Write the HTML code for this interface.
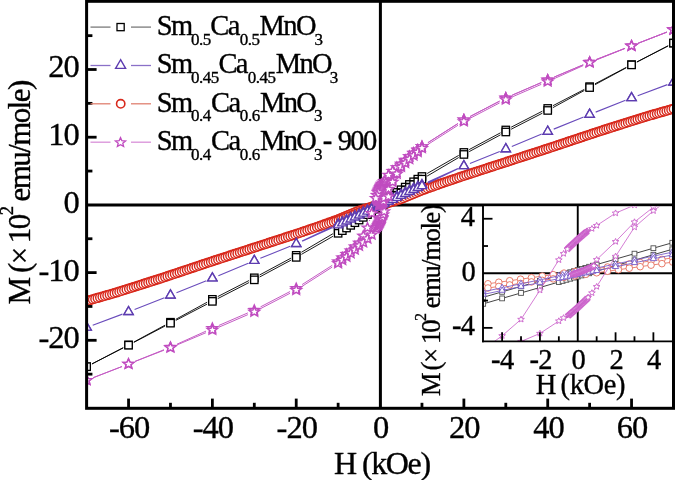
<!DOCTYPE html>
<html><head><meta charset="utf-8"><style>
html,body{margin:0;padding:0;background:#fff;width:675px;height:480px;overflow:hidden}
svg{display:block;will-change:transform}
</style></head><body>
<svg width="675" height="480" viewBox="0 0 675 480">
<defs><clipPath id="cm"><rect x="86.6" y="1.3" width="586.9" height="407"/></clipPath><clipPath id="ci"><rect x="483" y="206.4" width="189.5" height="134.9"/></clipPath></defs>
<rect width="675" height="480" fill="#fff"/>
<line x1="86.6" y1="204.9" x2="673.5" y2="204.9" stroke="#000" stroke-width="3"/>
<line x1="380.4" y1="1.3" x2="380.4" y2="408.3" stroke="#000" stroke-width="3"/>
<g clip-path="url(#cm)"><path fill="none" stroke="#000000" stroke-width="0.9" d="M668.13 45.84L636.89 61.88M626.24 67.41L594.95 83.84M584.31 89.4L553.04 105.66M542.38 111.17L511.14 127.21M500.51 132.79L469.17 149.6M458.68 155.42L427.17 173.51M332.96 233.7L301.39 252.29M290.93 258.17L259.59 274.98M248.96 280.55L217.72 296.6M207.12 302.22L175.73 319.35M165.19 325.08L133.83 342.05M123.22 347.67L91.95 363.93M91.97 363.96L123.21 347.92M133.86 342.39L165.15 325.96M175.79 320.4L207.06 304.14M217.72 298.63L248.96 282.59M259.59 277.01L290.93 260.2M301.42 254.38L332.93 236.29M427.14 176.1L458.71 157.51M469.17 151.63L500.51 134.82M511.14 129.25L542.38 113.2M552.98 107.58L584.37 90.45M594.91 84.72L626.27 67.75M636.88 62.13L668.15 45.87"/><rect x="669.77" y="39.4" width="7.4" height="7.4" fill="#fff" stroke="#000000" stroke-width="1.3"/><rect x="627.85" y="60.93" width="7.4" height="7.4" fill="#fff" stroke="#000000" stroke-width="1.3"/><rect x="585.93" y="82.93" width="7.4" height="7.4" fill="#fff" stroke="#000000" stroke-width="1.3"/><rect x="544.02" y="104.73" width="7.4" height="7.4" fill="#fff" stroke="#000000" stroke-width="1.3"/><rect x="502.1" y="126.26" width="7.4" height="7.4" fill="#fff" stroke="#000000" stroke-width="1.3"/><rect x="460.18" y="148.73" width="7.4" height="7.4" fill="#fff" stroke="#000000" stroke-width="1.3"/><rect x="418.27" y="172.8" width="7.4" height="7.4" fill="#fff" stroke="#000000" stroke-width="1.3"/><rect x="414.08" y="175.45" width="7.4" height="7.4" fill="#fff" stroke="#000000" stroke-width="1.3"/><rect x="409.88" y="178.09" width="7.4" height="7.4" fill="#fff" stroke="#000000" stroke-width="1.3"/><rect x="405.69" y="180.74" width="7.4" height="7.4" fill="#fff" stroke="#000000" stroke-width="1.3"/><rect x="401.5" y="183.39" width="7.4" height="7.4" fill="#fff" stroke="#000000" stroke-width="1.3"/><rect x="397.31" y="186.04" width="7.4" height="7.4" fill="#fff" stroke="#000000" stroke-width="1.3"/><rect x="393.12" y="188.74" width="7.4" height="7.4" fill="#fff" stroke="#000000" stroke-width="1.3"/><rect x="388.93" y="191.45" width="7.4" height="7.4" fill="#fff" stroke="#000000" stroke-width="1.3"/><rect x="384.73" y="194.16" width="7.4" height="7.4" fill="#fff" stroke="#000000" stroke-width="1.3"/><rect x="380.54" y="196.87" width="7.4" height="7.4" fill="#fff" stroke="#000000" stroke-width="1.3"/><rect x="379.7" y="197.41" width="7.4" height="7.4" fill="#fff" stroke="#000000" stroke-width="1.3"/><rect x="378.87" y="197.95" width="7.4" height="7.4" fill="#fff" stroke="#000000" stroke-width="1.3"/><rect x="378.03" y="198.49" width="7.4" height="7.4" fill="#fff" stroke="#000000" stroke-width="1.3"/><rect x="377.19" y="199.03" width="7.4" height="7.4" fill="#fff" stroke="#000000" stroke-width="1.3"/><rect x="376.35" y="199.58" width="7.4" height="7.4" fill="#fff" stroke="#000000" stroke-width="1.3"/><rect x="375.51" y="200.12" width="7.4" height="7.4" fill="#fff" stroke="#000000" stroke-width="1.3"/><rect x="374.67" y="200.66" width="7.4" height="7.4" fill="#fff" stroke="#000000" stroke-width="1.3"/><rect x="373.83" y="201.2" width="7.4" height="7.4" fill="#fff" stroke="#000000" stroke-width="1.3"/><rect x="373" y="201.74" width="7.4" height="7.4" fill="#fff" stroke="#000000" stroke-width="1.3"/><rect x="372.16" y="202.28" width="7.4" height="7.4" fill="#fff" stroke="#000000" stroke-width="1.3"/><rect x="367.97" y="204.99" width="7.4" height="7.4" fill="#fff" stroke="#000000" stroke-width="1.3"/><rect x="363.77" y="207.7" width="7.4" height="7.4" fill="#fff" stroke="#000000" stroke-width="1.3"/><rect x="359.58" y="210.41" width="7.4" height="7.4" fill="#fff" stroke="#000000" stroke-width="1.3"/><rect x="355.39" y="213.12" width="7.4" height="7.4" fill="#fff" stroke="#000000" stroke-width="1.3"/><rect x="351.2" y="215.88" width="7.4" height="7.4" fill="#fff" stroke="#000000" stroke-width="1.3"/><rect x="347.01" y="218.65" width="7.4" height="7.4" fill="#fff" stroke="#000000" stroke-width="1.3"/><rect x="342.82" y="221.42" width="7.4" height="7.4" fill="#fff" stroke="#000000" stroke-width="1.3"/><rect x="338.62" y="224.19" width="7.4" height="7.4" fill="#fff" stroke="#000000" stroke-width="1.3"/><rect x="334.43" y="226.96" width="7.4" height="7.4" fill="#fff" stroke="#000000" stroke-width="1.3"/><rect x="292.52" y="251.64" width="7.4" height="7.4" fill="#fff" stroke="#000000" stroke-width="1.3"/><rect x="250.6" y="274.11" width="7.4" height="7.4" fill="#fff" stroke="#000000" stroke-width="1.3"/><rect x="208.68" y="295.64" width="7.4" height="7.4" fill="#fff" stroke="#000000" stroke-width="1.3"/><rect x="166.77" y="318.52" width="7.4" height="7.4" fill="#fff" stroke="#000000" stroke-width="1.3"/><rect x="124.85" y="341.2" width="7.4" height="7.4" fill="#fff" stroke="#000000" stroke-width="1.3"/><rect x="82.93" y="363" width="7.4" height="7.4" fill="#fff" stroke="#000000" stroke-width="1.3"/><rect x="82.93" y="363" width="7.4" height="7.4" fill="#fff" stroke="#000000" stroke-width="1.3"/><rect x="124.85" y="341.47" width="7.4" height="7.4" fill="#fff" stroke="#000000" stroke-width="1.3"/><rect x="166.77" y="319.47" width="7.4" height="7.4" fill="#fff" stroke="#000000" stroke-width="1.3"/><rect x="208.68" y="297.67" width="7.4" height="7.4" fill="#fff" stroke="#000000" stroke-width="1.3"/><rect x="250.6" y="276.14" width="7.4" height="7.4" fill="#fff" stroke="#000000" stroke-width="1.3"/><rect x="292.52" y="253.67" width="7.4" height="7.4" fill="#fff" stroke="#000000" stroke-width="1.3"/><rect x="334.43" y="229.6" width="7.4" height="7.4" fill="#fff" stroke="#000000" stroke-width="1.3"/><rect x="338.62" y="226.95" width="7.4" height="7.4" fill="#fff" stroke="#000000" stroke-width="1.3"/><rect x="342.82" y="224.31" width="7.4" height="7.4" fill="#fff" stroke="#000000" stroke-width="1.3"/><rect x="347.01" y="221.66" width="7.4" height="7.4" fill="#fff" stroke="#000000" stroke-width="1.3"/><rect x="351.2" y="219.01" width="7.4" height="7.4" fill="#fff" stroke="#000000" stroke-width="1.3"/><rect x="355.39" y="216.36" width="7.4" height="7.4" fill="#fff" stroke="#000000" stroke-width="1.3"/><rect x="359.58" y="213.66" width="7.4" height="7.4" fill="#fff" stroke="#000000" stroke-width="1.3"/><rect x="363.77" y="210.95" width="7.4" height="7.4" fill="#fff" stroke="#000000" stroke-width="1.3"/><rect x="367.97" y="208.24" width="7.4" height="7.4" fill="#fff" stroke="#000000" stroke-width="1.3"/><rect x="372.16" y="205.53" width="7.4" height="7.4" fill="#fff" stroke="#000000" stroke-width="1.3"/><rect x="373" y="204.99" width="7.4" height="7.4" fill="#fff" stroke="#000000" stroke-width="1.3"/><rect x="373.83" y="204.45" width="7.4" height="7.4" fill="#fff" stroke="#000000" stroke-width="1.3"/><rect x="374.67" y="203.91" width="7.4" height="7.4" fill="#fff" stroke="#000000" stroke-width="1.3"/><rect x="375.51" y="203.37" width="7.4" height="7.4" fill="#fff" stroke="#000000" stroke-width="1.3"/><rect x="376.35" y="202.82" width="7.4" height="7.4" fill="#fff" stroke="#000000" stroke-width="1.3"/><rect x="377.19" y="202.28" width="7.4" height="7.4" fill="#fff" stroke="#000000" stroke-width="1.3"/><rect x="378.03" y="201.74" width="7.4" height="7.4" fill="#fff" stroke="#000000" stroke-width="1.3"/><rect x="378.87" y="201.2" width="7.4" height="7.4" fill="#fff" stroke="#000000" stroke-width="1.3"/><rect x="379.7" y="200.66" width="7.4" height="7.4" fill="#fff" stroke="#000000" stroke-width="1.3"/><rect x="380.54" y="200.12" width="7.4" height="7.4" fill="#fff" stroke="#000000" stroke-width="1.3"/><rect x="384.73" y="197.41" width="7.4" height="7.4" fill="#fff" stroke="#000000" stroke-width="1.3"/><rect x="388.93" y="194.7" width="7.4" height="7.4" fill="#fff" stroke="#000000" stroke-width="1.3"/><rect x="393.12" y="191.99" width="7.4" height="7.4" fill="#fff" stroke="#000000" stroke-width="1.3"/><rect x="397.31" y="189.28" width="7.4" height="7.4" fill="#fff" stroke="#000000" stroke-width="1.3"/><rect x="401.5" y="186.52" width="7.4" height="7.4" fill="#fff" stroke="#000000" stroke-width="1.3"/><rect x="405.69" y="183.75" width="7.4" height="7.4" fill="#fff" stroke="#000000" stroke-width="1.3"/><rect x="409.88" y="180.98" width="7.4" height="7.4" fill="#fff" stroke="#000000" stroke-width="1.3"/><rect x="414.08" y="178.21" width="7.4" height="7.4" fill="#fff" stroke="#000000" stroke-width="1.3"/><rect x="418.27" y="175.44" width="7.4" height="7.4" fill="#fff" stroke="#000000" stroke-width="1.3"/><rect x="460.18" y="150.76" width="7.4" height="7.4" fill="#fff" stroke="#000000" stroke-width="1.3"/><rect x="502.1" y="128.29" width="7.4" height="7.4" fill="#fff" stroke="#000000" stroke-width="1.3"/><rect x="544.02" y="106.76" width="7.4" height="7.4" fill="#fff" stroke="#000000" stroke-width="1.3"/><rect x="585.93" y="83.88" width="7.4" height="7.4" fill="#fff" stroke="#000000" stroke-width="1.3"/><rect x="627.85" y="61.2" width="7.4" height="7.4" fill="#fff" stroke="#000000" stroke-width="1.3"/><rect x="669.77" y="39.4" width="7.4" height="7.4" fill="#fff" stroke="#000000" stroke-width="1.3"/><polyline fill="none" stroke="#d8291c" stroke-width="1.2" stroke-linejoin="round" points="673.47,108.5 671.06,109.18 668.65,109.87 666.24,110.56 663.83,111.24 661.42,111.93 659.01,112.62 656.6,113.3 654.19,113.99 651.78,114.68 649.37,115.36 646.96,116.05 644.55,116.75 642.14,117.52 639.73,118.28 637.32,119.04 634.91,119.81 632.5,120.57 630.08,121.34 627.67,122.1 625.26,122.86 622.85,123.63 620.44,124.39 618.03,125.16 615.62,125.92 613.21,126.68 610.8,127.45 608.39,128.21 605.98,128.98 603.57,129.74 601.16,130.5 598.75,131.29 596.34,132.09 593.93,132.9 591.52,133.7 589.11,134.5 586.7,135.31 584.29,136.11 581.88,136.91 579.47,137.72 577.06,138.52 574.65,139.32 572.24,140.13 569.83,140.93 567.42,141.74 565.01,142.54 562.6,143.34 560.19,144.15 557.78,144.95 555.37,145.75 552.96,146.56 550.55,147.36 548.14,148.16 545.73,148.95 543.32,149.73 540.91,150.51 538.5,151.3 536.09,152.08 533.68,152.86 531.27,153.64 528.86,154.43 526.45,155.21 524.03,155.99 521.62,156.77 519.21,157.56 516.8,158.34 514.39,159.12 511.98,159.9 509.57,160.69 507.16,161.47 504.75,162.25 502.34,163.03 499.93,163.82 497.52,164.6 495.11,165.38 492.7,166.16 490.29,166.95 487.88,167.73 485.47,168.51 483.06,169.29 480.65,170.08 478.24,170.86 475.83,171.64 473.42,172.42 471.01,173.2 468.6,173.99 466.19,174.77 463.78,175.55 461.37,176.37 458.96,177.19 456.55,178.01 454.14,178.82 451.73,179.64 449.32,180.46 446.91,181.28 444.5,182.09 442.09,182.89 439.68,183.66 437.27,184.43 434.86,185.2 432.45,185.96 430.04,186.73 427.63,187.5 425.22,188.27 422.81,189.04 420.4,189.89 417.98,190.8 415.57,191.71 413.16,192.62 410.75,193.53 408.34,194.43 405.93,195.34 403.52,196.28 401.11,197.24 398.7,198.01 396.29,198.76 393.88,199.52 391.47,200.27 389.06,201.03 386.65,201.78 384.24,202.54 381.83,203.29 379.42,204.05 377.01,204.8 374.6,205.56 372.19,206.31 369.78,207.07 367.37,207.82 364.96,208.58 362.55,209.33 360.14,210.09 357.73,210.96 355.32,211.92 352.91,212.92 350.5,213.92 348.09,214.93 345.68,215.94 343.27,216.94 340.86,217.95 338.45,218.96 336.04,219.84 333.63,220.71 331.22,221.58 328.81,222.45 326.4,223.31 323.99,224.18 321.58,225.05 319.17,225.92 316.76,226.77 314.35,227.59 311.93,228.41 309.52,229.23 307.11,230.04 304.7,230.86 302.29,231.68 299.88,232.5 297.47,233.31 295.06,234.11 292.65,234.9 290.24,235.68 287.83,236.46 285.42,237.24 283.01,238.03 280.6,238.81 278.19,239.59 275.78,240.37 273.37,241.16 270.96,241.94 268.55,242.72 266.14,243.5 263.73,244.29 261.32,245.07 258.91,245.85 256.5,246.63 254.09,247.42 251.68,248.2 249.27,248.98 246.86,249.76 244.45,250.55 242.04,251.33 239.63,252.11 237.22,252.89 234.81,253.68 232.4,254.46 229.99,255.24 227.58,256.02 225.17,256.81 222.76,257.59 220.35,258.37 217.94,259.15 215.53,259.94 213.12,260.72 210.71,261.51 208.3,262.32 205.88,263.12 203.47,263.92 201.06,264.73 198.65,265.53 196.24,266.34 193.83,267.14 191.42,267.94 189.01,268.75 186.6,269.55 184.19,270.35 181.78,271.16 179.37,271.96 176.96,272.76 174.55,273.57 172.14,274.37 169.73,275.17 167.32,275.98 164.91,276.78 162.5,277.58 160.09,278.39 157.68,279.15 155.27,279.92 152.86,280.68 150.45,281.44 148.04,282.21 145.63,282.97 143.22,283.74 140.81,284.5 138.4,285.26 135.99,286.03 133.58,286.79 131.17,287.56 128.76,288.32 126.35,289.08 123.94,289.85 121.53,290.61 119.12,291.38 116.71,292.14 114.3,292.88 111.89,293.57 109.48,294.25 107.07,294.94 104.66,295.63 102.25,296.31 99.83,297 97.42,297.69 95.01,298.37 92.6,299.06 90.19,299.75 87.78,300.43 87.78,300.98 90.19,300.29 92.6,299.6 95.01,298.92 97.42,298.23 99.83,297.54 102.25,296.85 104.66,296.17 107.07,295.48 109.48,294.79 111.89,294.11 114.3,293.42 116.71,292.68 119.12,291.92 121.53,291.15 123.94,290.39 126.35,289.63 128.76,288.86 131.17,288.1 133.58,287.33 135.99,286.57 138.4,285.81 140.81,285.04 143.22,284.28 145.63,283.51 148.04,282.75 150.45,281.99 152.86,281.22 155.27,280.46 157.68,279.69 160.09,278.93 162.5,278.13 164.91,277.32 167.32,276.52 169.73,275.72 172.14,274.91 174.55,274.11 176.96,273.3 179.37,272.5 181.78,271.7 184.19,270.89 186.6,270.09 189.01,269.29 191.42,268.48 193.83,267.68 196.24,266.88 198.65,266.07 201.06,265.27 203.47,264.47 205.88,263.66 208.3,262.86 210.71,262.06 213.12,261.26 215.53,260.48 217.94,259.69 220.35,258.91 222.76,258.13 225.17,257.35 227.58,256.56 229.99,255.78 232.4,255 234.81,254.22 237.22,253.43 239.63,252.65 242.04,251.87 244.45,251.09 246.86,250.3 249.27,249.52 251.68,248.74 254.09,247.96 256.5,247.18 258.91,246.39 261.32,245.61 263.73,244.83 266.14,244.05 268.55,243.26 270.96,242.48 273.37,241.7 275.78,240.92 278.19,240.13 280.6,239.35 283.01,238.57 285.42,237.79 287.83,237 290.24,236.22 292.65,235.44 295.06,234.66 297.47,233.86 299.88,233.04 302.29,232.22 304.7,231.4 307.11,230.59 309.52,229.77 311.93,228.95 314.35,228.13 316.76,227.32 319.17,226.54 321.58,225.77 323.99,225 326.4,224.24 328.81,223.47 331.22,222.7 333.63,221.93 336.04,221.16 338.45,220.38 340.86,219.47 343.27,218.56 345.68,217.66 348.09,216.75 350.5,215.84 352.91,214.93 355.32,214.02 357.73,213.06 360.14,212.19 362.55,211.43 364.96,210.68 367.37,209.92 369.78,209.17 372.19,208.41 374.6,207.66 377.01,206.9 379.42,206.15 381.83,205.39 384.24,204.64 386.65,203.88 389.06,203.13 391.47,202.37 393.88,201.62 396.29,200.86 398.7,200.1 401.11,199.34 403.52,198.38 405.93,197.41 408.34,196.4 410.75,195.4 413.16,194.39 415.57,193.38 417.98,192.37 420.4,191.37 422.81,190.41 425.22,189.54 427.63,188.67 430.04,187.81 432.45,186.94 434.86,186.07 437.27,185.2 439.68,184.34 442.09,183.47 444.5,182.64 446.91,181.82 449.32,181 451.73,180.18 454.14,179.37 456.55,178.55 458.96,177.73 461.37,176.91 463.78,176.1 466.19,175.31 468.6,174.53 471.01,173.75 473.42,172.96 475.83,172.18 478.24,171.4 480.65,170.62 483.06,169.83 485.47,169.05 487.88,168.27 490.29,167.49 492.7,166.7 495.11,165.92 497.52,165.14 499.93,164.36 502.34,163.57 504.75,162.79 507.16,162.01 509.57,161.23 511.98,160.44 514.39,159.66 516.8,158.88 519.21,158.1 521.62,157.32 524.03,156.53 526.45,155.75 528.86,154.97 531.27,154.19 533.68,153.4 536.09,152.62 538.5,151.84 540.91,151.06 543.32,150.27 545.73,149.49 548.14,148.7 550.55,147.9 552.96,147.1 555.37,146.29 557.78,145.49 560.19,144.69 562.6,143.88 565.01,143.08 567.42,142.28 569.83,141.47 572.24,140.67 574.65,139.87 577.06,139.06 579.47,138.26 581.88,137.46 584.29,136.65 586.7,135.85 589.11,135.05 591.52,134.24 593.93,133.44 596.34,132.64 598.75,131.83 601.16,131.05 603.57,130.28 605.98,129.52 608.39,128.75 610.8,127.99 613.21,127.23 615.62,126.46 618.03,125.7 620.44,124.93 622.85,124.17 625.26,123.41 627.67,122.64 630.08,121.88 632.5,121.11 634.91,120.35 637.32,119.59 639.73,118.82 642.14,118.06 644.55,117.29 646.96,116.59 649.37,115.91 651.78,115.22 654.19,114.53 656.6,113.85 659.01,113.16 661.42,112.47 663.83,111.78 666.24,111.1 668.65,110.41 671.06,109.72 673.47,109.04"/><circle cx="673.47" cy="108.5" r="4.15" fill="#fff" stroke="#d8291c" stroke-width="1.45"/><circle cx="671.06" cy="109.18" r="4.15" fill="#fff" stroke="#d8291c" stroke-width="1.45"/><circle cx="668.65" cy="109.87" r="4.15" fill="#fff" stroke="#d8291c" stroke-width="1.45"/><circle cx="666.24" cy="110.56" r="4.15" fill="#fff" stroke="#d8291c" stroke-width="1.45"/><circle cx="663.83" cy="111.24" r="4.15" fill="#fff" stroke="#d8291c" stroke-width="1.45"/><circle cx="661.42" cy="111.93" r="4.15" fill="#fff" stroke="#d8291c" stroke-width="1.45"/><circle cx="659.01" cy="112.62" r="4.15" fill="#fff" stroke="#d8291c" stroke-width="1.45"/><circle cx="656.6" cy="113.3" r="4.15" fill="#fff" stroke="#d8291c" stroke-width="1.45"/><circle cx="654.19" cy="113.99" r="4.15" fill="#fff" stroke="#d8291c" stroke-width="1.45"/><circle cx="651.78" cy="114.68" r="4.15" fill="#fff" stroke="#d8291c" stroke-width="1.45"/><circle cx="649.37" cy="115.36" r="4.15" fill="#fff" stroke="#d8291c" stroke-width="1.45"/><circle cx="646.96" cy="116.05" r="4.15" fill="#fff" stroke="#d8291c" stroke-width="1.45"/><circle cx="644.55" cy="116.75" r="4.15" fill="#fff" stroke="#d8291c" stroke-width="1.45"/><circle cx="642.14" cy="117.52" r="4.15" fill="#fff" stroke="#d8291c" stroke-width="1.45"/><circle cx="639.73" cy="118.28" r="4.15" fill="#fff" stroke="#d8291c" stroke-width="1.45"/><circle cx="637.32" cy="119.04" r="4.15" fill="#fff" stroke="#d8291c" stroke-width="1.45"/><circle cx="634.91" cy="119.81" r="4.15" fill="#fff" stroke="#d8291c" stroke-width="1.45"/><circle cx="632.5" cy="120.57" r="4.15" fill="#fff" stroke="#d8291c" stroke-width="1.45"/><circle cx="630.08" cy="121.34" r="4.15" fill="#fff" stroke="#d8291c" stroke-width="1.45"/><circle cx="627.67" cy="122.1" r="4.15" fill="#fff" stroke="#d8291c" stroke-width="1.45"/><circle cx="625.26" cy="122.86" r="4.15" fill="#fff" stroke="#d8291c" stroke-width="1.45"/><circle cx="622.85" cy="123.63" r="4.15" fill="#fff" stroke="#d8291c" stroke-width="1.45"/><circle cx="620.44" cy="124.39" r="4.15" fill="#fff" stroke="#d8291c" stroke-width="1.45"/><circle cx="618.03" cy="125.16" r="4.15" fill="#fff" stroke="#d8291c" stroke-width="1.45"/><circle cx="615.62" cy="125.92" r="4.15" fill="#fff" stroke="#d8291c" stroke-width="1.45"/><circle cx="613.21" cy="126.68" r="4.15" fill="#fff" stroke="#d8291c" stroke-width="1.45"/><circle cx="610.8" cy="127.45" r="4.15" fill="#fff" stroke="#d8291c" stroke-width="1.45"/><circle cx="608.39" cy="128.21" r="4.15" fill="#fff" stroke="#d8291c" stroke-width="1.45"/><circle cx="605.98" cy="128.98" r="4.15" fill="#fff" stroke="#d8291c" stroke-width="1.45"/><circle cx="603.57" cy="129.74" r="4.15" fill="#fff" stroke="#d8291c" stroke-width="1.45"/><circle cx="601.16" cy="130.5" r="4.15" fill="#fff" stroke="#d8291c" stroke-width="1.45"/><circle cx="598.75" cy="131.29" r="4.15" fill="#fff" stroke="#d8291c" stroke-width="1.45"/><circle cx="596.34" cy="132.09" r="4.15" fill="#fff" stroke="#d8291c" stroke-width="1.45"/><circle cx="593.93" cy="132.9" r="4.15" fill="#fff" stroke="#d8291c" stroke-width="1.45"/><circle cx="591.52" cy="133.7" r="4.15" fill="#fff" stroke="#d8291c" stroke-width="1.45"/><circle cx="589.11" cy="134.5" r="4.15" fill="#fff" stroke="#d8291c" stroke-width="1.45"/><circle cx="586.7" cy="135.31" r="4.15" fill="#fff" stroke="#d8291c" stroke-width="1.45"/><circle cx="584.29" cy="136.11" r="4.15" fill="#fff" stroke="#d8291c" stroke-width="1.45"/><circle cx="581.88" cy="136.91" r="4.15" fill="#fff" stroke="#d8291c" stroke-width="1.45"/><circle cx="579.47" cy="137.72" r="4.15" fill="#fff" stroke="#d8291c" stroke-width="1.45"/><circle cx="577.06" cy="138.52" r="4.15" fill="#fff" stroke="#d8291c" stroke-width="1.45"/><circle cx="574.65" cy="139.32" r="4.15" fill="#fff" stroke="#d8291c" stroke-width="1.45"/><circle cx="572.24" cy="140.13" r="4.15" fill="#fff" stroke="#d8291c" stroke-width="1.45"/><circle cx="569.83" cy="140.93" r="4.15" fill="#fff" stroke="#d8291c" stroke-width="1.45"/><circle cx="567.42" cy="141.74" r="4.15" fill="#fff" stroke="#d8291c" stroke-width="1.45"/><circle cx="565.01" cy="142.54" r="4.15" fill="#fff" stroke="#d8291c" stroke-width="1.45"/><circle cx="562.6" cy="143.34" r="4.15" fill="#fff" stroke="#d8291c" stroke-width="1.45"/><circle cx="560.19" cy="144.15" r="4.15" fill="#fff" stroke="#d8291c" stroke-width="1.45"/><circle cx="557.78" cy="144.95" r="4.15" fill="#fff" stroke="#d8291c" stroke-width="1.45"/><circle cx="555.37" cy="145.75" r="4.15" fill="#fff" stroke="#d8291c" stroke-width="1.45"/><circle cx="552.96" cy="146.56" r="4.15" fill="#fff" stroke="#d8291c" stroke-width="1.45"/><circle cx="550.55" cy="147.36" r="4.15" fill="#fff" stroke="#d8291c" stroke-width="1.45"/><circle cx="548.14" cy="148.16" r="4.15" fill="#fff" stroke="#d8291c" stroke-width="1.45"/><circle cx="545.73" cy="148.95" r="4.15" fill="#fff" stroke="#d8291c" stroke-width="1.45"/><circle cx="543.32" cy="149.73" r="4.15" fill="#fff" stroke="#d8291c" stroke-width="1.45"/><circle cx="540.91" cy="150.51" r="4.15" fill="#fff" stroke="#d8291c" stroke-width="1.45"/><circle cx="538.5" cy="151.3" r="4.15" fill="#fff" stroke="#d8291c" stroke-width="1.45"/><circle cx="536.09" cy="152.08" r="4.15" fill="#fff" stroke="#d8291c" stroke-width="1.45"/><circle cx="533.68" cy="152.86" r="4.15" fill="#fff" stroke="#d8291c" stroke-width="1.45"/><circle cx="531.27" cy="153.64" r="4.15" fill="#fff" stroke="#d8291c" stroke-width="1.45"/><circle cx="528.86" cy="154.43" r="4.15" fill="#fff" stroke="#d8291c" stroke-width="1.45"/><circle cx="526.45" cy="155.21" r="4.15" fill="#fff" stroke="#d8291c" stroke-width="1.45"/><circle cx="524.03" cy="155.99" r="4.15" fill="#fff" stroke="#d8291c" stroke-width="1.45"/><circle cx="521.62" cy="156.77" r="4.15" fill="#fff" stroke="#d8291c" stroke-width="1.45"/><circle cx="519.21" cy="157.56" r="4.15" fill="#fff" stroke="#d8291c" stroke-width="1.45"/><circle cx="516.8" cy="158.34" r="4.15" fill="#fff" stroke="#d8291c" stroke-width="1.45"/><circle cx="514.39" cy="159.12" r="4.15" fill="#fff" stroke="#d8291c" stroke-width="1.45"/><circle cx="511.98" cy="159.9" r="4.15" fill="#fff" stroke="#d8291c" stroke-width="1.45"/><circle cx="509.57" cy="160.69" r="4.15" fill="#fff" stroke="#d8291c" stroke-width="1.45"/><circle cx="507.16" cy="161.47" r="4.15" fill="#fff" stroke="#d8291c" stroke-width="1.45"/><circle cx="504.75" cy="162.25" r="4.15" fill="#fff" stroke="#d8291c" stroke-width="1.45"/><circle cx="502.34" cy="163.03" r="4.15" fill="#fff" stroke="#d8291c" stroke-width="1.45"/><circle cx="499.93" cy="163.82" r="4.15" fill="#fff" stroke="#d8291c" stroke-width="1.45"/><circle cx="497.52" cy="164.6" r="4.15" fill="#fff" stroke="#d8291c" stroke-width="1.45"/><circle cx="495.11" cy="165.38" r="4.15" fill="#fff" stroke="#d8291c" stroke-width="1.45"/><circle cx="492.7" cy="166.16" r="4.15" fill="#fff" stroke="#d8291c" stroke-width="1.45"/><circle cx="490.29" cy="166.95" r="4.15" fill="#fff" stroke="#d8291c" stroke-width="1.45"/><circle cx="487.88" cy="167.73" r="4.15" fill="#fff" stroke="#d8291c" stroke-width="1.45"/><circle cx="485.47" cy="168.51" r="4.15" fill="#fff" stroke="#d8291c" stroke-width="1.45"/><circle cx="483.06" cy="169.29" r="4.15" fill="#fff" stroke="#d8291c" stroke-width="1.45"/><circle cx="480.65" cy="170.08" r="4.15" fill="#fff" stroke="#d8291c" stroke-width="1.45"/><circle cx="478.24" cy="170.86" r="4.15" fill="#fff" stroke="#d8291c" stroke-width="1.45"/><circle cx="475.83" cy="171.64" r="4.15" fill="#fff" stroke="#d8291c" stroke-width="1.45"/><circle cx="473.42" cy="172.42" r="4.15" fill="#fff" stroke="#d8291c" stroke-width="1.45"/><circle cx="471.01" cy="173.2" r="4.15" fill="#fff" stroke="#d8291c" stroke-width="1.45"/><circle cx="468.6" cy="173.99" r="4.15" fill="#fff" stroke="#d8291c" stroke-width="1.45"/><circle cx="466.19" cy="174.77" r="4.15" fill="#fff" stroke="#d8291c" stroke-width="1.45"/><circle cx="463.78" cy="175.55" r="4.15" fill="#fff" stroke="#d8291c" stroke-width="1.45"/><circle cx="461.37" cy="176.37" r="4.15" fill="#fff" stroke="#d8291c" stroke-width="1.45"/><circle cx="458.96" cy="177.19" r="4.15" fill="#fff" stroke="#d8291c" stroke-width="1.45"/><circle cx="456.55" cy="178.01" r="4.15" fill="#fff" stroke="#d8291c" stroke-width="1.45"/><circle cx="454.14" cy="178.82" r="4.15" fill="#fff" stroke="#d8291c" stroke-width="1.45"/><circle cx="451.73" cy="179.64" r="4.15" fill="#fff" stroke="#d8291c" stroke-width="1.45"/><circle cx="449.32" cy="180.46" r="4.15" fill="#fff" stroke="#d8291c" stroke-width="1.45"/><circle cx="446.91" cy="181.28" r="4.15" fill="#fff" stroke="#d8291c" stroke-width="1.45"/><circle cx="444.5" cy="182.09" r="4.15" fill="#fff" stroke="#d8291c" stroke-width="1.45"/><circle cx="442.09" cy="182.89" r="4.15" fill="#fff" stroke="#d8291c" stroke-width="1.45"/><circle cx="439.68" cy="183.66" r="4.15" fill="#fff" stroke="#d8291c" stroke-width="1.45"/><circle cx="437.27" cy="184.43" r="4.15" fill="#fff" stroke="#d8291c" stroke-width="1.45"/><circle cx="434.86" cy="185.2" r="4.15" fill="#fff" stroke="#d8291c" stroke-width="1.45"/><circle cx="432.45" cy="185.96" r="4.15" fill="#fff" stroke="#d8291c" stroke-width="1.45"/><circle cx="430.04" cy="186.73" r="4.15" fill="#fff" stroke="#d8291c" stroke-width="1.45"/><circle cx="427.63" cy="187.5" r="4.15" fill="#fff" stroke="#d8291c" stroke-width="1.45"/><circle cx="425.22" cy="188.27" r="4.15" fill="#fff" stroke="#d8291c" stroke-width="1.45"/><circle cx="422.81" cy="189.04" r="4.15" fill="#fff" stroke="#d8291c" stroke-width="1.45"/><circle cx="420.4" cy="189.89" r="4.15" fill="#fff" stroke="#d8291c" stroke-width="1.45"/><circle cx="417.98" cy="190.8" r="4.15" fill="#fff" stroke="#d8291c" stroke-width="1.45"/><circle cx="415.57" cy="191.71" r="4.15" fill="#fff" stroke="#d8291c" stroke-width="1.45"/><circle cx="413.16" cy="192.62" r="4.15" fill="#fff" stroke="#d8291c" stroke-width="1.45"/><circle cx="410.75" cy="193.53" r="4.15" fill="#fff" stroke="#d8291c" stroke-width="1.45"/><circle cx="408.34" cy="194.43" r="4.15" fill="#fff" stroke="#d8291c" stroke-width="1.45"/><circle cx="405.93" cy="195.34" r="4.15" fill="#fff" stroke="#d8291c" stroke-width="1.45"/><circle cx="403.52" cy="196.28" r="4.15" fill="#fff" stroke="#d8291c" stroke-width="1.45"/><circle cx="401.11" cy="197.24" r="4.15" fill="#fff" stroke="#d8291c" stroke-width="1.45"/><circle cx="398.7" cy="198.01" r="4.15" fill="#fff" stroke="#d8291c" stroke-width="1.45"/><circle cx="396.29" cy="198.76" r="4.15" fill="#fff" stroke="#d8291c" stroke-width="1.45"/><circle cx="393.88" cy="199.52" r="4.15" fill="#fff" stroke="#d8291c" stroke-width="1.45"/><circle cx="391.47" cy="200.27" r="4.15" fill="#fff" stroke="#d8291c" stroke-width="1.45"/><circle cx="389.06" cy="201.03" r="4.15" fill="#fff" stroke="#d8291c" stroke-width="1.45"/><circle cx="386.65" cy="201.78" r="4.15" fill="#fff" stroke="#d8291c" stroke-width="1.45"/><circle cx="384.24" cy="202.54" r="4.15" fill="#fff" stroke="#d8291c" stroke-width="1.45"/><circle cx="381.83" cy="203.29" r="4.15" fill="#fff" stroke="#d8291c" stroke-width="1.45"/><circle cx="379.42" cy="204.05" r="4.15" fill="#fff" stroke="#d8291c" stroke-width="1.45"/><circle cx="377.01" cy="204.8" r="4.15" fill="#fff" stroke="#d8291c" stroke-width="1.45"/><circle cx="374.6" cy="205.56" r="4.15" fill="#fff" stroke="#d8291c" stroke-width="1.45"/><circle cx="372.19" cy="206.31" r="4.15" fill="#fff" stroke="#d8291c" stroke-width="1.45"/><circle cx="369.78" cy="207.07" r="4.15" fill="#fff" stroke="#d8291c" stroke-width="1.45"/><circle cx="367.37" cy="207.82" r="4.15" fill="#fff" stroke="#d8291c" stroke-width="1.45"/><circle cx="364.96" cy="208.58" r="4.15" fill="#fff" stroke="#d8291c" stroke-width="1.45"/><circle cx="362.55" cy="209.33" r="4.15" fill="#fff" stroke="#d8291c" stroke-width="1.45"/><circle cx="360.14" cy="210.09" r="4.15" fill="#fff" stroke="#d8291c" stroke-width="1.45"/><circle cx="357.73" cy="210.96" r="4.15" fill="#fff" stroke="#d8291c" stroke-width="1.45"/><circle cx="355.32" cy="211.92" r="4.15" fill="#fff" stroke="#d8291c" stroke-width="1.45"/><circle cx="352.91" cy="212.92" r="4.15" fill="#fff" stroke="#d8291c" stroke-width="1.45"/><circle cx="350.5" cy="213.92" r="4.15" fill="#fff" stroke="#d8291c" stroke-width="1.45"/><circle cx="348.09" cy="214.93" r="4.15" fill="#fff" stroke="#d8291c" stroke-width="1.45"/><circle cx="345.68" cy="215.94" r="4.15" fill="#fff" stroke="#d8291c" stroke-width="1.45"/><circle cx="343.27" cy="216.94" r="4.15" fill="#fff" stroke="#d8291c" stroke-width="1.45"/><circle cx="340.86" cy="217.95" r="4.15" fill="#fff" stroke="#d8291c" stroke-width="1.45"/><circle cx="338.45" cy="218.96" r="4.15" fill="#fff" stroke="#d8291c" stroke-width="1.45"/><circle cx="336.04" cy="219.84" r="4.15" fill="#fff" stroke="#d8291c" stroke-width="1.45"/><circle cx="333.63" cy="220.71" r="4.15" fill="#fff" stroke="#d8291c" stroke-width="1.45"/><circle cx="331.22" cy="221.58" r="4.15" fill="#fff" stroke="#d8291c" stroke-width="1.45"/><circle cx="328.81" cy="222.45" r="4.15" fill="#fff" stroke="#d8291c" stroke-width="1.45"/><circle cx="326.4" cy="223.31" r="4.15" fill="#fff" stroke="#d8291c" stroke-width="1.45"/><circle cx="323.99" cy="224.18" r="4.15" fill="#fff" stroke="#d8291c" stroke-width="1.45"/><circle cx="321.58" cy="225.05" r="4.15" fill="#fff" stroke="#d8291c" stroke-width="1.45"/><circle cx="319.17" cy="225.92" r="4.15" fill="#fff" stroke="#d8291c" stroke-width="1.45"/><circle cx="316.76" cy="226.77" r="4.15" fill="#fff" stroke="#d8291c" stroke-width="1.45"/><circle cx="314.35" cy="227.59" r="4.15" fill="#fff" stroke="#d8291c" stroke-width="1.45"/><circle cx="311.93" cy="228.41" r="4.15" fill="#fff" stroke="#d8291c" stroke-width="1.45"/><circle cx="309.52" cy="229.23" r="4.15" fill="#fff" stroke="#d8291c" stroke-width="1.45"/><circle cx="307.11" cy="230.04" r="4.15" fill="#fff" stroke="#d8291c" stroke-width="1.45"/><circle cx="304.7" cy="230.86" r="4.15" fill="#fff" stroke="#d8291c" stroke-width="1.45"/><circle cx="302.29" cy="231.68" r="4.15" fill="#fff" stroke="#d8291c" stroke-width="1.45"/><circle cx="299.88" cy="232.5" r="4.15" fill="#fff" stroke="#d8291c" stroke-width="1.45"/><circle cx="297.47" cy="233.31" r="4.15" fill="#fff" stroke="#d8291c" stroke-width="1.45"/><circle cx="295.06" cy="234.11" r="4.15" fill="#fff" stroke="#d8291c" stroke-width="1.45"/><circle cx="292.65" cy="234.9" r="4.15" fill="#fff" stroke="#d8291c" stroke-width="1.45"/><circle cx="290.24" cy="235.68" r="4.15" fill="#fff" stroke="#d8291c" stroke-width="1.45"/><circle cx="287.83" cy="236.46" r="4.15" fill="#fff" stroke="#d8291c" stroke-width="1.45"/><circle cx="285.42" cy="237.24" r="4.15" fill="#fff" stroke="#d8291c" stroke-width="1.45"/><circle cx="283.01" cy="238.03" r="4.15" fill="#fff" stroke="#d8291c" stroke-width="1.45"/><circle cx="280.6" cy="238.81" r="4.15" fill="#fff" stroke="#d8291c" stroke-width="1.45"/><circle cx="278.19" cy="239.59" r="4.15" fill="#fff" stroke="#d8291c" stroke-width="1.45"/><circle cx="275.78" cy="240.37" r="4.15" fill="#fff" stroke="#d8291c" stroke-width="1.45"/><circle cx="273.37" cy="241.16" r="4.15" fill="#fff" stroke="#d8291c" stroke-width="1.45"/><circle cx="270.96" cy="241.94" r="4.15" fill="#fff" stroke="#d8291c" stroke-width="1.45"/><circle cx="268.55" cy="242.72" r="4.15" fill="#fff" stroke="#d8291c" stroke-width="1.45"/><circle cx="266.14" cy="243.5" r="4.15" fill="#fff" stroke="#d8291c" stroke-width="1.45"/><circle cx="263.73" cy="244.29" r="4.15" fill="#fff" stroke="#d8291c" stroke-width="1.45"/><circle cx="261.32" cy="245.07" r="4.15" fill="#fff" stroke="#d8291c" stroke-width="1.45"/><circle cx="258.91" cy="245.85" r="4.15" fill="#fff" stroke="#d8291c" stroke-width="1.45"/><circle cx="256.5" cy="246.63" r="4.15" fill="#fff" stroke="#d8291c" stroke-width="1.45"/><circle cx="254.09" cy="247.42" r="4.15" fill="#fff" stroke="#d8291c" stroke-width="1.45"/><circle cx="251.68" cy="248.2" r="4.15" fill="#fff" stroke="#d8291c" stroke-width="1.45"/><circle cx="249.27" cy="248.98" r="4.15" fill="#fff" stroke="#d8291c" stroke-width="1.45"/><circle cx="246.86" cy="249.76" r="4.15" fill="#fff" stroke="#d8291c" stroke-width="1.45"/><circle cx="244.45" cy="250.55" r="4.15" fill="#fff" stroke="#d8291c" stroke-width="1.45"/><circle cx="242.04" cy="251.33" r="4.15" fill="#fff" stroke="#d8291c" stroke-width="1.45"/><circle cx="239.63" cy="252.11" r="4.15" fill="#fff" stroke="#d8291c" stroke-width="1.45"/><circle cx="237.22" cy="252.89" r="4.15" fill="#fff" stroke="#d8291c" stroke-width="1.45"/><circle cx="234.81" cy="253.68" r="4.15" fill="#fff" stroke="#d8291c" stroke-width="1.45"/><circle cx="232.4" cy="254.46" r="4.15" fill="#fff" stroke="#d8291c" stroke-width="1.45"/><circle cx="229.99" cy="255.24" r="4.15" fill="#fff" stroke="#d8291c" stroke-width="1.45"/><circle cx="227.58" cy="256.02" r="4.15" fill="#fff" stroke="#d8291c" stroke-width="1.45"/><circle cx="225.17" cy="256.81" r="4.15" fill="#fff" stroke="#d8291c" stroke-width="1.45"/><circle cx="222.76" cy="257.59" r="4.15" fill="#fff" stroke="#d8291c" stroke-width="1.45"/><circle cx="220.35" cy="258.37" r="4.15" fill="#fff" stroke="#d8291c" stroke-width="1.45"/><circle cx="217.94" cy="259.15" r="4.15" fill="#fff" stroke="#d8291c" stroke-width="1.45"/><circle cx="215.53" cy="259.94" r="4.15" fill="#fff" stroke="#d8291c" stroke-width="1.45"/><circle cx="213.12" cy="260.72" r="4.15" fill="#fff" stroke="#d8291c" stroke-width="1.45"/><circle cx="210.71" cy="261.51" r="4.15" fill="#fff" stroke="#d8291c" stroke-width="1.45"/><circle cx="208.3" cy="262.32" r="4.15" fill="#fff" stroke="#d8291c" stroke-width="1.45"/><circle cx="205.88" cy="263.12" r="4.15" fill="#fff" stroke="#d8291c" stroke-width="1.45"/><circle cx="203.47" cy="263.92" r="4.15" fill="#fff" stroke="#d8291c" stroke-width="1.45"/><circle cx="201.06" cy="264.73" r="4.15" fill="#fff" stroke="#d8291c" stroke-width="1.45"/><circle cx="198.65" cy="265.53" r="4.15" fill="#fff" stroke="#d8291c" stroke-width="1.45"/><circle cx="196.24" cy="266.34" r="4.15" fill="#fff" stroke="#d8291c" stroke-width="1.45"/><circle cx="193.83" cy="267.14" r="4.15" fill="#fff" stroke="#d8291c" stroke-width="1.45"/><circle cx="191.42" cy="267.94" r="4.15" fill="#fff" stroke="#d8291c" stroke-width="1.45"/><circle cx="189.01" cy="268.75" r="4.15" fill="#fff" stroke="#d8291c" stroke-width="1.45"/><circle cx="186.6" cy="269.55" r="4.15" fill="#fff" stroke="#d8291c" stroke-width="1.45"/><circle cx="184.19" cy="270.35" r="4.15" fill="#fff" stroke="#d8291c" stroke-width="1.45"/><circle cx="181.78" cy="271.16" r="4.15" fill="#fff" stroke="#d8291c" stroke-width="1.45"/><circle cx="179.37" cy="271.96" r="4.15" fill="#fff" stroke="#d8291c" stroke-width="1.45"/><circle cx="176.96" cy="272.76" r="4.15" fill="#fff" stroke="#d8291c" stroke-width="1.45"/><circle cx="174.55" cy="273.57" r="4.15" fill="#fff" stroke="#d8291c" stroke-width="1.45"/><circle cx="172.14" cy="274.37" r="4.15" fill="#fff" stroke="#d8291c" stroke-width="1.45"/><circle cx="169.73" cy="275.17" r="4.15" fill="#fff" stroke="#d8291c" stroke-width="1.45"/><circle cx="167.32" cy="275.98" r="4.15" fill="#fff" stroke="#d8291c" stroke-width="1.45"/><circle cx="164.91" cy="276.78" r="4.15" fill="#fff" stroke="#d8291c" stroke-width="1.45"/><circle cx="162.5" cy="277.58" r="4.15" fill="#fff" stroke="#d8291c" stroke-width="1.45"/><circle cx="160.09" cy="278.39" r="4.15" fill="#fff" stroke="#d8291c" stroke-width="1.45"/><circle cx="157.68" cy="279.15" r="4.15" fill="#fff" stroke="#d8291c" stroke-width="1.45"/><circle cx="155.27" cy="279.92" r="4.15" fill="#fff" stroke="#d8291c" stroke-width="1.45"/><circle cx="152.86" cy="280.68" r="4.15" fill="#fff" stroke="#d8291c" stroke-width="1.45"/><circle cx="150.45" cy="281.44" r="4.15" fill="#fff" stroke="#d8291c" stroke-width="1.45"/><circle cx="148.04" cy="282.21" r="4.15" fill="#fff" stroke="#d8291c" stroke-width="1.45"/><circle cx="145.63" cy="282.97" r="4.15" fill="#fff" stroke="#d8291c" stroke-width="1.45"/><circle cx="143.22" cy="283.74" r="4.15" fill="#fff" stroke="#d8291c" stroke-width="1.45"/><circle cx="140.81" cy="284.5" r="4.15" fill="#fff" stroke="#d8291c" stroke-width="1.45"/><circle cx="138.4" cy="285.26" r="4.15" fill="#fff" stroke="#d8291c" stroke-width="1.45"/><circle cx="135.99" cy="286.03" r="4.15" fill="#fff" stroke="#d8291c" stroke-width="1.45"/><circle cx="133.58" cy="286.79" r="4.15" fill="#fff" stroke="#d8291c" stroke-width="1.45"/><circle cx="131.17" cy="287.56" r="4.15" fill="#fff" stroke="#d8291c" stroke-width="1.45"/><circle cx="128.76" cy="288.32" r="4.15" fill="#fff" stroke="#d8291c" stroke-width="1.45"/><circle cx="126.35" cy="289.08" r="4.15" fill="#fff" stroke="#d8291c" stroke-width="1.45"/><circle cx="123.94" cy="289.85" r="4.15" fill="#fff" stroke="#d8291c" stroke-width="1.45"/><circle cx="121.53" cy="290.61" r="4.15" fill="#fff" stroke="#d8291c" stroke-width="1.45"/><circle cx="119.12" cy="291.38" r="4.15" fill="#fff" stroke="#d8291c" stroke-width="1.45"/><circle cx="116.71" cy="292.14" r="4.15" fill="#fff" stroke="#d8291c" stroke-width="1.45"/><circle cx="114.3" cy="292.88" r="4.15" fill="#fff" stroke="#d8291c" stroke-width="1.45"/><circle cx="111.89" cy="293.57" r="4.15" fill="#fff" stroke="#d8291c" stroke-width="1.45"/><circle cx="109.48" cy="294.25" r="4.15" fill="#fff" stroke="#d8291c" stroke-width="1.45"/><circle cx="107.07" cy="294.94" r="4.15" fill="#fff" stroke="#d8291c" stroke-width="1.45"/><circle cx="104.66" cy="295.63" r="4.15" fill="#fff" stroke="#d8291c" stroke-width="1.45"/><circle cx="102.25" cy="296.31" r="4.15" fill="#fff" stroke="#d8291c" stroke-width="1.45"/><circle cx="99.83" cy="297" r="4.15" fill="#fff" stroke="#d8291c" stroke-width="1.45"/><circle cx="97.42" cy="297.69" r="4.15" fill="#fff" stroke="#d8291c" stroke-width="1.45"/><circle cx="95.01" cy="298.37" r="4.15" fill="#fff" stroke="#d8291c" stroke-width="1.45"/><circle cx="92.6" cy="299.06" r="4.15" fill="#fff" stroke="#d8291c" stroke-width="1.45"/><circle cx="90.19" cy="299.75" r="4.15" fill="#fff" stroke="#d8291c" stroke-width="1.45"/><circle cx="87.78" cy="300.43" r="4.15" fill="#fff" stroke="#d8291c" stroke-width="1.45"/><circle cx="87.78" cy="300.98" r="4.15" fill="#fff" stroke="#d8291c" stroke-width="1.45"/><circle cx="90.19" cy="300.29" r="4.15" fill="#fff" stroke="#d8291c" stroke-width="1.45"/><circle cx="92.6" cy="299.6" r="4.15" fill="#fff" stroke="#d8291c" stroke-width="1.45"/><circle cx="95.01" cy="298.92" r="4.15" fill="#fff" stroke="#d8291c" stroke-width="1.45"/><circle cx="97.42" cy="298.23" r="4.15" fill="#fff" stroke="#d8291c" stroke-width="1.45"/><circle cx="99.83" cy="297.54" r="4.15" fill="#fff" stroke="#d8291c" stroke-width="1.45"/><circle cx="102.25" cy="296.85" r="4.15" fill="#fff" stroke="#d8291c" stroke-width="1.45"/><circle cx="104.66" cy="296.17" r="4.15" fill="#fff" stroke="#d8291c" stroke-width="1.45"/><circle cx="107.07" cy="295.48" r="4.15" fill="#fff" stroke="#d8291c" stroke-width="1.45"/><circle cx="109.48" cy="294.79" r="4.15" fill="#fff" stroke="#d8291c" stroke-width="1.45"/><circle cx="111.89" cy="294.11" r="4.15" fill="#fff" stroke="#d8291c" stroke-width="1.45"/><circle cx="114.3" cy="293.42" r="4.15" fill="#fff" stroke="#d8291c" stroke-width="1.45"/><circle cx="116.71" cy="292.68" r="4.15" fill="#fff" stroke="#d8291c" stroke-width="1.45"/><circle cx="119.12" cy="291.92" r="4.15" fill="#fff" stroke="#d8291c" stroke-width="1.45"/><circle cx="121.53" cy="291.15" r="4.15" fill="#fff" stroke="#d8291c" stroke-width="1.45"/><circle cx="123.94" cy="290.39" r="4.15" fill="#fff" stroke="#d8291c" stroke-width="1.45"/><circle cx="126.35" cy="289.63" r="4.15" fill="#fff" stroke="#d8291c" stroke-width="1.45"/><circle cx="128.76" cy="288.86" r="4.15" fill="#fff" stroke="#d8291c" stroke-width="1.45"/><circle cx="131.17" cy="288.1" r="4.15" fill="#fff" stroke="#d8291c" stroke-width="1.45"/><circle cx="133.58" cy="287.33" r="4.15" fill="#fff" stroke="#d8291c" stroke-width="1.45"/><circle cx="135.99" cy="286.57" r="4.15" fill="#fff" stroke="#d8291c" stroke-width="1.45"/><circle cx="138.4" cy="285.81" r="4.15" fill="#fff" stroke="#d8291c" stroke-width="1.45"/><circle cx="140.81" cy="285.04" r="4.15" fill="#fff" stroke="#d8291c" stroke-width="1.45"/><circle cx="143.22" cy="284.28" r="4.15" fill="#fff" stroke="#d8291c" stroke-width="1.45"/><circle cx="145.63" cy="283.51" r="4.15" fill="#fff" stroke="#d8291c" stroke-width="1.45"/><circle cx="148.04" cy="282.75" r="4.15" fill="#fff" stroke="#d8291c" stroke-width="1.45"/><circle cx="150.45" cy="281.99" r="4.15" fill="#fff" stroke="#d8291c" stroke-width="1.45"/><circle cx="152.86" cy="281.22" r="4.15" fill="#fff" stroke="#d8291c" stroke-width="1.45"/><circle cx="155.27" cy="280.46" r="4.15" fill="#fff" stroke="#d8291c" stroke-width="1.45"/><circle cx="157.68" cy="279.69" r="4.15" fill="#fff" stroke="#d8291c" stroke-width="1.45"/><circle cx="160.09" cy="278.93" r="4.15" fill="#fff" stroke="#d8291c" stroke-width="1.45"/><circle cx="162.5" cy="278.13" r="4.15" fill="#fff" stroke="#d8291c" stroke-width="1.45"/><circle cx="164.91" cy="277.32" r="4.15" fill="#fff" stroke="#d8291c" stroke-width="1.45"/><circle cx="167.32" cy="276.52" r="4.15" fill="#fff" stroke="#d8291c" stroke-width="1.45"/><circle cx="169.73" cy="275.72" r="4.15" fill="#fff" stroke="#d8291c" stroke-width="1.45"/><circle cx="172.14" cy="274.91" r="4.15" fill="#fff" stroke="#d8291c" stroke-width="1.45"/><circle cx="174.55" cy="274.11" r="4.15" fill="#fff" stroke="#d8291c" stroke-width="1.45"/><circle cx="176.96" cy="273.3" r="4.15" fill="#fff" stroke="#d8291c" stroke-width="1.45"/><circle cx="179.37" cy="272.5" r="4.15" fill="#fff" stroke="#d8291c" stroke-width="1.45"/><circle cx="181.78" cy="271.7" r="4.15" fill="#fff" stroke="#d8291c" stroke-width="1.45"/><circle cx="184.19" cy="270.89" r="4.15" fill="#fff" stroke="#d8291c" stroke-width="1.45"/><circle cx="186.6" cy="270.09" r="4.15" fill="#fff" stroke="#d8291c" stroke-width="1.45"/><circle cx="189.01" cy="269.29" r="4.15" fill="#fff" stroke="#d8291c" stroke-width="1.45"/><circle cx="191.42" cy="268.48" r="4.15" fill="#fff" stroke="#d8291c" stroke-width="1.45"/><circle cx="193.83" cy="267.68" r="4.15" fill="#fff" stroke="#d8291c" stroke-width="1.45"/><circle cx="196.24" cy="266.88" r="4.15" fill="#fff" stroke="#d8291c" stroke-width="1.45"/><circle cx="198.65" cy="266.07" r="4.15" fill="#fff" stroke="#d8291c" stroke-width="1.45"/><circle cx="201.06" cy="265.27" r="4.15" fill="#fff" stroke="#d8291c" stroke-width="1.45"/><circle cx="203.47" cy="264.47" r="4.15" fill="#fff" stroke="#d8291c" stroke-width="1.45"/><circle cx="205.88" cy="263.66" r="4.15" fill="#fff" stroke="#d8291c" stroke-width="1.45"/><circle cx="208.3" cy="262.86" r="4.15" fill="#fff" stroke="#d8291c" stroke-width="1.45"/><circle cx="210.71" cy="262.06" r="4.15" fill="#fff" stroke="#d8291c" stroke-width="1.45"/><circle cx="213.12" cy="261.26" r="4.15" fill="#fff" stroke="#d8291c" stroke-width="1.45"/><circle cx="215.53" cy="260.48" r="4.15" fill="#fff" stroke="#d8291c" stroke-width="1.45"/><circle cx="217.94" cy="259.69" r="4.15" fill="#fff" stroke="#d8291c" stroke-width="1.45"/><circle cx="220.35" cy="258.91" r="4.15" fill="#fff" stroke="#d8291c" stroke-width="1.45"/><circle cx="222.76" cy="258.13" r="4.15" fill="#fff" stroke="#d8291c" stroke-width="1.45"/><circle cx="225.17" cy="257.35" r="4.15" fill="#fff" stroke="#d8291c" stroke-width="1.45"/><circle cx="227.58" cy="256.56" r="4.15" fill="#fff" stroke="#d8291c" stroke-width="1.45"/><circle cx="229.99" cy="255.78" r="4.15" fill="#fff" stroke="#d8291c" stroke-width="1.45"/><circle cx="232.4" cy="255" r="4.15" fill="#fff" stroke="#d8291c" stroke-width="1.45"/><circle cx="234.81" cy="254.22" r="4.15" fill="#fff" stroke="#d8291c" stroke-width="1.45"/><circle cx="237.22" cy="253.43" r="4.15" fill="#fff" stroke="#d8291c" stroke-width="1.45"/><circle cx="239.63" cy="252.65" r="4.15" fill="#fff" stroke="#d8291c" stroke-width="1.45"/><circle cx="242.04" cy="251.87" r="4.15" fill="#fff" stroke="#d8291c" stroke-width="1.45"/><circle cx="244.45" cy="251.09" r="4.15" fill="#fff" stroke="#d8291c" stroke-width="1.45"/><circle cx="246.86" cy="250.3" r="4.15" fill="#fff" stroke="#d8291c" stroke-width="1.45"/><circle cx="249.27" cy="249.52" r="4.15" fill="#fff" stroke="#d8291c" stroke-width="1.45"/><circle cx="251.68" cy="248.74" r="4.15" fill="#fff" stroke="#d8291c" stroke-width="1.45"/><circle cx="254.09" cy="247.96" r="4.15" fill="#fff" stroke="#d8291c" stroke-width="1.45"/><circle cx="256.5" cy="247.18" r="4.15" fill="#fff" stroke="#d8291c" stroke-width="1.45"/><circle cx="258.91" cy="246.39" r="4.15" fill="#fff" stroke="#d8291c" stroke-width="1.45"/><circle cx="261.32" cy="245.61" r="4.15" fill="#fff" stroke="#d8291c" stroke-width="1.45"/><circle cx="263.73" cy="244.83" r="4.15" fill="#fff" stroke="#d8291c" stroke-width="1.45"/><circle cx="266.14" cy="244.05" r="4.15" fill="#fff" stroke="#d8291c" stroke-width="1.45"/><circle cx="268.55" cy="243.26" r="4.15" fill="#fff" stroke="#d8291c" stroke-width="1.45"/><circle cx="270.96" cy="242.48" r="4.15" fill="#fff" stroke="#d8291c" stroke-width="1.45"/><circle cx="273.37" cy="241.7" r="4.15" fill="#fff" stroke="#d8291c" stroke-width="1.45"/><circle cx="275.78" cy="240.92" r="4.15" fill="#fff" stroke="#d8291c" stroke-width="1.45"/><circle cx="278.19" cy="240.13" r="4.15" fill="#fff" stroke="#d8291c" stroke-width="1.45"/><circle cx="280.6" cy="239.35" r="4.15" fill="#fff" stroke="#d8291c" stroke-width="1.45"/><circle cx="283.01" cy="238.57" r="4.15" fill="#fff" stroke="#d8291c" stroke-width="1.45"/><circle cx="285.42" cy="237.79" r="4.15" fill="#fff" stroke="#d8291c" stroke-width="1.45"/><circle cx="287.83" cy="237" r="4.15" fill="#fff" stroke="#d8291c" stroke-width="1.45"/><circle cx="290.24" cy="236.22" r="4.15" fill="#fff" stroke="#d8291c" stroke-width="1.45"/><circle cx="292.65" cy="235.44" r="4.15" fill="#fff" stroke="#d8291c" stroke-width="1.45"/><circle cx="295.06" cy="234.66" r="4.15" fill="#fff" stroke="#d8291c" stroke-width="1.45"/><circle cx="297.47" cy="233.86" r="4.15" fill="#fff" stroke="#d8291c" stroke-width="1.45"/><circle cx="299.88" cy="233.04" r="4.15" fill="#fff" stroke="#d8291c" stroke-width="1.45"/><circle cx="302.29" cy="232.22" r="4.15" fill="#fff" stroke="#d8291c" stroke-width="1.45"/><circle cx="304.7" cy="231.4" r="4.15" fill="#fff" stroke="#d8291c" stroke-width="1.45"/><circle cx="307.11" cy="230.59" r="4.15" fill="#fff" stroke="#d8291c" stroke-width="1.45"/><circle cx="309.52" cy="229.77" r="4.15" fill="#fff" stroke="#d8291c" stroke-width="1.45"/><circle cx="311.93" cy="228.95" r="4.15" fill="#fff" stroke="#d8291c" stroke-width="1.45"/><circle cx="314.35" cy="228.13" r="4.15" fill="#fff" stroke="#d8291c" stroke-width="1.45"/><circle cx="316.76" cy="227.32" r="4.15" fill="#fff" stroke="#d8291c" stroke-width="1.45"/><circle cx="319.17" cy="226.54" r="4.15" fill="#fff" stroke="#d8291c" stroke-width="1.45"/><circle cx="321.58" cy="225.77" r="4.15" fill="#fff" stroke="#d8291c" stroke-width="1.45"/><circle cx="323.99" cy="225" r="4.15" fill="#fff" stroke="#d8291c" stroke-width="1.45"/><circle cx="326.4" cy="224.24" r="4.15" fill="#fff" stroke="#d8291c" stroke-width="1.45"/><circle cx="328.81" cy="223.47" r="4.15" fill="#fff" stroke="#d8291c" stroke-width="1.45"/><circle cx="331.22" cy="222.7" r="4.15" fill="#fff" stroke="#d8291c" stroke-width="1.45"/><circle cx="333.63" cy="221.93" r="4.15" fill="#fff" stroke="#d8291c" stroke-width="1.45"/><circle cx="336.04" cy="221.16" r="4.15" fill="#fff" stroke="#d8291c" stroke-width="1.45"/><circle cx="338.45" cy="220.38" r="4.15" fill="#fff" stroke="#d8291c" stroke-width="1.45"/><circle cx="340.86" cy="219.47" r="4.15" fill="#fff" stroke="#d8291c" stroke-width="1.45"/><circle cx="343.27" cy="218.56" r="4.15" fill="#fff" stroke="#d8291c" stroke-width="1.45"/><circle cx="345.68" cy="217.66" r="4.15" fill="#fff" stroke="#d8291c" stroke-width="1.45"/><circle cx="348.09" cy="216.75" r="4.15" fill="#fff" stroke="#d8291c" stroke-width="1.45"/><circle cx="350.5" cy="215.84" r="4.15" fill="#fff" stroke="#d8291c" stroke-width="1.45"/><circle cx="352.91" cy="214.93" r="4.15" fill="#fff" stroke="#d8291c" stroke-width="1.45"/><circle cx="355.32" cy="214.02" r="4.15" fill="#fff" stroke="#d8291c" stroke-width="1.45"/><circle cx="357.73" cy="213.06" r="4.15" fill="#fff" stroke="#d8291c" stroke-width="1.45"/><circle cx="360.14" cy="212.19" r="4.15" fill="#fff" stroke="#d8291c" stroke-width="1.45"/><circle cx="362.55" cy="211.43" r="4.15" fill="#fff" stroke="#d8291c" stroke-width="1.45"/><circle cx="364.96" cy="210.68" r="4.15" fill="#fff" stroke="#d8291c" stroke-width="1.45"/><circle cx="367.37" cy="209.92" r="4.15" fill="#fff" stroke="#d8291c" stroke-width="1.45"/><circle cx="369.78" cy="209.17" r="4.15" fill="#fff" stroke="#d8291c" stroke-width="1.45"/><circle cx="372.19" cy="208.41" r="4.15" fill="#fff" stroke="#d8291c" stroke-width="1.45"/><circle cx="374.6" cy="207.66" r="4.15" fill="#fff" stroke="#d8291c" stroke-width="1.45"/><circle cx="377.01" cy="206.9" r="4.15" fill="#fff" stroke="#d8291c" stroke-width="1.45"/><circle cx="379.42" cy="206.15" r="4.15" fill="#fff" stroke="#d8291c" stroke-width="1.45"/><circle cx="381.83" cy="205.39" r="4.15" fill="#fff" stroke="#d8291c" stroke-width="1.45"/><circle cx="384.24" cy="204.64" r="4.15" fill="#fff" stroke="#d8291c" stroke-width="1.45"/><circle cx="386.65" cy="203.88" r="4.15" fill="#fff" stroke="#d8291c" stroke-width="1.45"/><circle cx="389.06" cy="203.13" r="4.15" fill="#fff" stroke="#d8291c" stroke-width="1.45"/><circle cx="391.47" cy="202.37" r="4.15" fill="#fff" stroke="#d8291c" stroke-width="1.45"/><circle cx="393.88" cy="201.62" r="4.15" fill="#fff" stroke="#d8291c" stroke-width="1.45"/><circle cx="396.29" cy="200.86" r="4.15" fill="#fff" stroke="#d8291c" stroke-width="1.45"/><circle cx="398.7" cy="200.1" r="4.15" fill="#fff" stroke="#d8291c" stroke-width="1.45"/><circle cx="401.11" cy="199.34" r="4.15" fill="#fff" stroke="#d8291c" stroke-width="1.45"/><circle cx="403.52" cy="198.38" r="4.15" fill="#fff" stroke="#d8291c" stroke-width="1.45"/><circle cx="405.93" cy="197.41" r="4.15" fill="#fff" stroke="#d8291c" stroke-width="1.45"/><circle cx="408.34" cy="196.4" r="4.15" fill="#fff" stroke="#d8291c" stroke-width="1.45"/><circle cx="410.75" cy="195.4" r="4.15" fill="#fff" stroke="#d8291c" stroke-width="1.45"/><circle cx="413.16" cy="194.39" r="4.15" fill="#fff" stroke="#d8291c" stroke-width="1.45"/><circle cx="415.57" cy="193.38" r="4.15" fill="#fff" stroke="#d8291c" stroke-width="1.45"/><circle cx="417.98" cy="192.37" r="4.15" fill="#fff" stroke="#d8291c" stroke-width="1.45"/><circle cx="420.4" cy="191.37" r="4.15" fill="#fff" stroke="#d8291c" stroke-width="1.45"/><circle cx="422.81" cy="190.41" r="4.15" fill="#fff" stroke="#d8291c" stroke-width="1.45"/><circle cx="425.22" cy="189.54" r="4.15" fill="#fff" stroke="#d8291c" stroke-width="1.45"/><circle cx="427.63" cy="188.67" r="4.15" fill="#fff" stroke="#d8291c" stroke-width="1.45"/><circle cx="430.04" cy="187.81" r="4.15" fill="#fff" stroke="#d8291c" stroke-width="1.45"/><circle cx="432.45" cy="186.94" r="4.15" fill="#fff" stroke="#d8291c" stroke-width="1.45"/><circle cx="434.86" cy="186.07" r="4.15" fill="#fff" stroke="#d8291c" stroke-width="1.45"/><circle cx="437.27" cy="185.2" r="4.15" fill="#fff" stroke="#d8291c" stroke-width="1.45"/><circle cx="439.68" cy="184.34" r="4.15" fill="#fff" stroke="#d8291c" stroke-width="1.45"/><circle cx="442.09" cy="183.47" r="4.15" fill="#fff" stroke="#d8291c" stroke-width="1.45"/><circle cx="444.5" cy="182.64" r="4.15" fill="#fff" stroke="#d8291c" stroke-width="1.45"/><circle cx="446.91" cy="181.82" r="4.15" fill="#fff" stroke="#d8291c" stroke-width="1.45"/><circle cx="449.32" cy="181" r="4.15" fill="#fff" stroke="#d8291c" stroke-width="1.45"/><circle cx="451.73" cy="180.18" r="4.15" fill="#fff" stroke="#d8291c" stroke-width="1.45"/><circle cx="454.14" cy="179.37" r="4.15" fill="#fff" stroke="#d8291c" stroke-width="1.45"/><circle cx="456.55" cy="178.55" r="4.15" fill="#fff" stroke="#d8291c" stroke-width="1.45"/><circle cx="458.96" cy="177.73" r="4.15" fill="#fff" stroke="#d8291c" stroke-width="1.45"/><circle cx="461.37" cy="176.91" r="4.15" fill="#fff" stroke="#d8291c" stroke-width="1.45"/><circle cx="463.78" cy="176.1" r="4.15" fill="#fff" stroke="#d8291c" stroke-width="1.45"/><circle cx="466.19" cy="175.31" r="4.15" fill="#fff" stroke="#d8291c" stroke-width="1.45"/><circle cx="468.6" cy="174.53" r="4.15" fill="#fff" stroke="#d8291c" stroke-width="1.45"/><circle cx="471.01" cy="173.75" r="4.15" fill="#fff" stroke="#d8291c" stroke-width="1.45"/><circle cx="473.42" cy="172.96" r="4.15" fill="#fff" stroke="#d8291c" stroke-width="1.45"/><circle cx="475.83" cy="172.18" r="4.15" fill="#fff" stroke="#d8291c" stroke-width="1.45"/><circle cx="478.24" cy="171.4" r="4.15" fill="#fff" stroke="#d8291c" stroke-width="1.45"/><circle cx="480.65" cy="170.62" r="4.15" fill="#fff" stroke="#d8291c" stroke-width="1.45"/><circle cx="483.06" cy="169.83" r="4.15" fill="#fff" stroke="#d8291c" stroke-width="1.45"/><circle cx="485.47" cy="169.05" r="4.15" fill="#fff" stroke="#d8291c" stroke-width="1.45"/><circle cx="487.88" cy="168.27" r="4.15" fill="#fff" stroke="#d8291c" stroke-width="1.45"/><circle cx="490.29" cy="167.49" r="4.15" fill="#fff" stroke="#d8291c" stroke-width="1.45"/><circle cx="492.7" cy="166.7" r="4.15" fill="#fff" stroke="#d8291c" stroke-width="1.45"/><circle cx="495.11" cy="165.92" r="4.15" fill="#fff" stroke="#d8291c" stroke-width="1.45"/><circle cx="497.52" cy="165.14" r="4.15" fill="#fff" stroke="#d8291c" stroke-width="1.45"/><circle cx="499.93" cy="164.36" r="4.15" fill="#fff" stroke="#d8291c" stroke-width="1.45"/><circle cx="502.34" cy="163.57" r="4.15" fill="#fff" stroke="#d8291c" stroke-width="1.45"/><circle cx="504.75" cy="162.79" r="4.15" fill="#fff" stroke="#d8291c" stroke-width="1.45"/><circle cx="507.16" cy="162.01" r="4.15" fill="#fff" stroke="#d8291c" stroke-width="1.45"/><circle cx="509.57" cy="161.23" r="4.15" fill="#fff" stroke="#d8291c" stroke-width="1.45"/><circle cx="511.98" cy="160.44" r="4.15" fill="#fff" stroke="#d8291c" stroke-width="1.45"/><circle cx="514.39" cy="159.66" r="4.15" fill="#fff" stroke="#d8291c" stroke-width="1.45"/><circle cx="516.8" cy="158.88" r="4.15" fill="#fff" stroke="#d8291c" stroke-width="1.45"/><circle cx="519.21" cy="158.1" r="4.15" fill="#fff" stroke="#d8291c" stroke-width="1.45"/><circle cx="521.62" cy="157.32" r="4.15" fill="#fff" stroke="#d8291c" stroke-width="1.45"/><circle cx="524.03" cy="156.53" r="4.15" fill="#fff" stroke="#d8291c" stroke-width="1.45"/><circle cx="526.45" cy="155.75" r="4.15" fill="#fff" stroke="#d8291c" stroke-width="1.45"/><circle cx="528.86" cy="154.97" r="4.15" fill="#fff" stroke="#d8291c" stroke-width="1.45"/><circle cx="531.27" cy="154.19" r="4.15" fill="#fff" stroke="#d8291c" stroke-width="1.45"/><circle cx="533.68" cy="153.4" r="4.15" fill="#fff" stroke="#d8291c" stroke-width="1.45"/><circle cx="536.09" cy="152.62" r="4.15" fill="#fff" stroke="#d8291c" stroke-width="1.45"/><circle cx="538.5" cy="151.84" r="4.15" fill="#fff" stroke="#d8291c" stroke-width="1.45"/><circle cx="540.91" cy="151.06" r="4.15" fill="#fff" stroke="#d8291c" stroke-width="1.45"/><circle cx="543.32" cy="150.27" r="4.15" fill="#fff" stroke="#d8291c" stroke-width="1.45"/><circle cx="545.73" cy="149.49" r="4.15" fill="#fff" stroke="#d8291c" stroke-width="1.45"/><circle cx="548.14" cy="148.7" r="4.15" fill="#fff" stroke="#d8291c" stroke-width="1.45"/><circle cx="550.55" cy="147.9" r="4.15" fill="#fff" stroke="#d8291c" stroke-width="1.45"/><circle cx="552.96" cy="147.1" r="4.15" fill="#fff" stroke="#d8291c" stroke-width="1.45"/><circle cx="555.37" cy="146.29" r="4.15" fill="#fff" stroke="#d8291c" stroke-width="1.45"/><circle cx="557.78" cy="145.49" r="4.15" fill="#fff" stroke="#d8291c" stroke-width="1.45"/><circle cx="560.19" cy="144.69" r="4.15" fill="#fff" stroke="#d8291c" stroke-width="1.45"/><circle cx="562.6" cy="143.88" r="4.15" fill="#fff" stroke="#d8291c" stroke-width="1.45"/><circle cx="565.01" cy="143.08" r="4.15" fill="#fff" stroke="#d8291c" stroke-width="1.45"/><circle cx="567.42" cy="142.28" r="4.15" fill="#fff" stroke="#d8291c" stroke-width="1.45"/><circle cx="569.83" cy="141.47" r="4.15" fill="#fff" stroke="#d8291c" stroke-width="1.45"/><circle cx="572.24" cy="140.67" r="4.15" fill="#fff" stroke="#d8291c" stroke-width="1.45"/><circle cx="574.65" cy="139.87" r="4.15" fill="#fff" stroke="#d8291c" stroke-width="1.45"/><circle cx="577.06" cy="139.06" r="4.15" fill="#fff" stroke="#d8291c" stroke-width="1.45"/><circle cx="579.47" cy="138.26" r="4.15" fill="#fff" stroke="#d8291c" stroke-width="1.45"/><circle cx="581.88" cy="137.46" r="4.15" fill="#fff" stroke="#d8291c" stroke-width="1.45"/><circle cx="584.29" cy="136.65" r="4.15" fill="#fff" stroke="#d8291c" stroke-width="1.45"/><circle cx="586.7" cy="135.85" r="4.15" fill="#fff" stroke="#d8291c" stroke-width="1.45"/><circle cx="589.11" cy="135.05" r="4.15" fill="#fff" stroke="#d8291c" stroke-width="1.45"/><circle cx="591.52" cy="134.24" r="4.15" fill="#fff" stroke="#d8291c" stroke-width="1.45"/><circle cx="593.93" cy="133.44" r="4.15" fill="#fff" stroke="#d8291c" stroke-width="1.45"/><circle cx="596.34" cy="132.64" r="4.15" fill="#fff" stroke="#d8291c" stroke-width="1.45"/><circle cx="598.75" cy="131.83" r="4.15" fill="#fff" stroke="#d8291c" stroke-width="1.45"/><circle cx="601.16" cy="131.05" r="4.15" fill="#fff" stroke="#d8291c" stroke-width="1.45"/><circle cx="603.57" cy="130.28" r="4.15" fill="#fff" stroke="#d8291c" stroke-width="1.45"/><circle cx="605.98" cy="129.52" r="4.15" fill="#fff" stroke="#d8291c" stroke-width="1.45"/><circle cx="608.39" cy="128.75" r="4.15" fill="#fff" stroke="#d8291c" stroke-width="1.45"/><circle cx="610.8" cy="127.99" r="4.15" fill="#fff" stroke="#d8291c" stroke-width="1.45"/><circle cx="613.21" cy="127.23" r="4.15" fill="#fff" stroke="#d8291c" stroke-width="1.45"/><circle cx="615.62" cy="126.46" r="4.15" fill="#fff" stroke="#d8291c" stroke-width="1.45"/><circle cx="618.03" cy="125.7" r="4.15" fill="#fff" stroke="#d8291c" stroke-width="1.45"/><circle cx="620.44" cy="124.93" r="4.15" fill="#fff" stroke="#d8291c" stroke-width="1.45"/><circle cx="622.85" cy="124.17" r="4.15" fill="#fff" stroke="#d8291c" stroke-width="1.45"/><circle cx="625.26" cy="123.41" r="4.15" fill="#fff" stroke="#d8291c" stroke-width="1.45"/><circle cx="627.67" cy="122.64" r="4.15" fill="#fff" stroke="#d8291c" stroke-width="1.45"/><circle cx="630.08" cy="121.88" r="4.15" fill="#fff" stroke="#d8291c" stroke-width="1.45"/><circle cx="632.5" cy="121.11" r="4.15" fill="#fff" stroke="#d8291c" stroke-width="1.45"/><circle cx="634.91" cy="120.35" r="4.15" fill="#fff" stroke="#d8291c" stroke-width="1.45"/><circle cx="637.32" cy="119.59" r="4.15" fill="#fff" stroke="#d8291c" stroke-width="1.45"/><circle cx="639.73" cy="118.82" r="4.15" fill="#fff" stroke="#d8291c" stroke-width="1.45"/><circle cx="642.14" cy="118.06" r="4.15" fill="#fff" stroke="#d8291c" stroke-width="1.45"/><circle cx="644.55" cy="117.29" r="4.15" fill="#fff" stroke="#d8291c" stroke-width="1.45"/><circle cx="646.96" cy="116.59" r="4.15" fill="#fff" stroke="#d8291c" stroke-width="1.45"/><circle cx="649.37" cy="115.91" r="4.15" fill="#fff" stroke="#d8291c" stroke-width="1.45"/><circle cx="651.78" cy="115.22" r="4.15" fill="#fff" stroke="#d8291c" stroke-width="1.45"/><circle cx="654.19" cy="114.53" r="4.15" fill="#fff" stroke="#d8291c" stroke-width="1.45"/><circle cx="656.6" cy="113.85" r="4.15" fill="#fff" stroke="#d8291c" stroke-width="1.45"/><circle cx="659.01" cy="113.16" r="4.15" fill="#fff" stroke="#d8291c" stroke-width="1.45"/><circle cx="661.42" cy="112.47" r="4.15" fill="#fff" stroke="#d8291c" stroke-width="1.45"/><circle cx="663.83" cy="111.78" r="4.15" fill="#fff" stroke="#d8291c" stroke-width="1.45"/><circle cx="666.24" cy="111.1" r="4.15" fill="#fff" stroke="#d8291c" stroke-width="1.45"/><circle cx="668.65" cy="110.41" r="4.15" fill="#fff" stroke="#d8291c" stroke-width="1.45"/><circle cx="671.06" cy="109.72" r="4.15" fill="#fff" stroke="#d8291c" stroke-width="1.45"/><circle cx="673.47" cy="109.04" r="4.15" fill="#fff" stroke="#d8291c" stroke-width="1.45"/><path fill="none" stroke="#6a4cbc" stroke-width="1.1" d="M667.38 84.63L637.65 95.67M625.51 100.33L595.68 112.13M583.61 116.97L553.74 129.13M541.72 134.08L511.8 146.55M499.77 151.48L469.91 163.54M457.94 168.61L427.91 181.95M332.27 226.65L302.08 241.03M290.19 246.26L260.33 258.32M248.3 263.25L218.38 275.72M206.36 280.67L176.49 292.83M164.42 297.67L134.59 309.47M122.45 314.13L92.72 325.17M92.72 325.17L122.45 314.13M134.59 309.47L164.42 297.67M176.49 292.83L206.36 280.67M218.38 275.72L248.3 263.25M260.33 258.32L290.19 246.26M302.16 241.19L332.19 227.85M427.83 183.15L458.02 168.77M469.91 163.54L499.77 151.48M511.8 146.55L541.72 134.08M553.74 129.13L583.61 116.97M595.68 112.13L625.51 100.33M637.65 95.67L667.38 84.63"/><polygon fill="#fff" stroke="#5d3cb0" stroke-width="1.4" stroke-linejoin="miter" points="673.47,77.05 668.87,85.02 678.07,85.02"/><polygon fill="#fff" stroke="#5d3cb0" stroke-width="1.4" stroke-linejoin="miter" points="631.55,92.62 626.95,100.59 636.15,100.59"/><polygon fill="#fff" stroke="#5d3cb0" stroke-width="1.4" stroke-linejoin="miter" points="589.63,109.21 585.03,117.18 594.24,117.18"/><polygon fill="#fff" stroke="#5d3cb0" stroke-width="1.4" stroke-linejoin="miter" points="547.72,126.27 543.12,134.24 552.32,134.24"/><polygon fill="#fff" stroke="#5d3cb0" stroke-width="1.4" stroke-linejoin="miter" points="505.8,143.74 501.2,151.7 510.4,151.7"/><polygon fill="#fff" stroke="#5d3cb0" stroke-width="1.4" stroke-linejoin="miter" points="463.88,160.66 459.28,168.63 468.48,168.63"/><polygon fill="#fff" stroke="#5d3cb0" stroke-width="1.4" stroke-linejoin="miter" points="421.97,179.28 417.37,187.25 426.57,187.25"/><polygon fill="#fff" stroke="#5d3cb0" stroke-width="1.4" stroke-linejoin="miter" points="417.78,181.24 413.18,189.21 422.38,189.21"/><polygon fill="#fff" stroke="#5d3cb0" stroke-width="1.4" stroke-linejoin="miter" points="413.58,183.21 408.98,191.17 418.18,191.17"/><polygon fill="#fff" stroke="#5d3cb0" stroke-width="1.4" stroke-linejoin="miter" points="409.39,185.17 404.79,193.14 413.99,193.14"/><polygon fill="#fff" stroke="#5d3cb0" stroke-width="1.4" stroke-linejoin="miter" points="405.2,187.13 400.6,195.1 409.8,195.1"/><polygon fill="#fff" stroke="#5d3cb0" stroke-width="1.4" stroke-linejoin="miter" points="401.01,189.1 396.41,197.06 405.61,197.06"/><polygon fill="#fff" stroke="#5d3cb0" stroke-width="1.4" stroke-linejoin="miter" points="396.82,191.06 392.22,199.03 401.42,199.03"/><polygon fill="#fff" stroke="#5d3cb0" stroke-width="1.4" stroke-linejoin="miter" points="392.63,193.02 388.03,200.99 397.23,200.99"/><polygon fill="#fff" stroke="#5d3cb0" stroke-width="1.4" stroke-linejoin="miter" points="388.43,194.98 383.83,202.95 393.03,202.95"/><polygon fill="#fff" stroke="#5d3cb0" stroke-width="1.4" stroke-linejoin="miter" points="384.24,196.95 379.64,204.92 388.84,204.92"/><polygon fill="#fff" stroke="#5d3cb0" stroke-width="1.4" stroke-linejoin="miter" points="383.4,197.34 378.8,205.31 388,205.31"/><polygon fill="#fff" stroke="#5d3cb0" stroke-width="1.4" stroke-linejoin="miter" points="382.57,197.73 377.97,205.7 387.17,205.7"/><polygon fill="#fff" stroke="#5d3cb0" stroke-width="1.4" stroke-linejoin="miter" points="381.73,198.13 377.13,206.09 386.33,206.09"/><polygon fill="#fff" stroke="#5d3cb0" stroke-width="1.4" stroke-linejoin="miter" points="380.89,198.52 376.29,206.49 385.49,206.49"/><polygon fill="#fff" stroke="#5d3cb0" stroke-width="1.4" stroke-linejoin="miter" points="380.05,198.91 375.45,206.88 384.65,206.88"/><polygon fill="#fff" stroke="#5d3cb0" stroke-width="1.4" stroke-linejoin="miter" points="379.21,199.3 374.61,207.27 383.81,207.27"/><polygon fill="#fff" stroke="#5d3cb0" stroke-width="1.4" stroke-linejoin="miter" points="378.37,199.7 373.77,207.66 382.97,207.66"/><polygon fill="#fff" stroke="#5d3cb0" stroke-width="1.4" stroke-linejoin="miter" points="377.53,200.09 372.93,208.06 382.13,208.06"/><polygon fill="#fff" stroke="#5d3cb0" stroke-width="1.4" stroke-linejoin="miter" points="376.7,200.48 372.1,208.45 381.3,208.45"/><polygon fill="#fff" stroke="#5d3cb0" stroke-width="1.4" stroke-linejoin="miter" points="375.86,200.87 371.26,208.84 380.46,208.84"/><polygon fill="#fff" stroke="#5d3cb0" stroke-width="1.4" stroke-linejoin="miter" points="371.67,202.84 367.07,210.81 376.27,210.81"/><polygon fill="#fff" stroke="#5d3cb0" stroke-width="1.4" stroke-linejoin="miter" points="367.47,204.8 362.87,212.77 372.07,212.77"/><polygon fill="#fff" stroke="#5d3cb0" stroke-width="1.4" stroke-linejoin="miter" points="363.28,206.76 358.68,214.73 367.88,214.73"/><polygon fill="#fff" stroke="#5d3cb0" stroke-width="1.4" stroke-linejoin="miter" points="359.09,208.73 354.49,216.7 363.69,216.7"/><polygon fill="#fff" stroke="#5d3cb0" stroke-width="1.4" stroke-linejoin="miter" points="354.9,210.69 350.3,218.66 359.5,218.66"/><polygon fill="#fff" stroke="#5d3cb0" stroke-width="1.4" stroke-linejoin="miter" points="350.71,212.65 346.11,220.62 355.31,220.62"/><polygon fill="#fff" stroke="#5d3cb0" stroke-width="1.4" stroke-linejoin="miter" points="346.52,214.62 341.92,222.59 351.12,222.59"/><polygon fill="#fff" stroke="#5d3cb0" stroke-width="1.4" stroke-linejoin="miter" points="342.32,216.58 337.72,224.55 346.92,224.55"/><polygon fill="#fff" stroke="#5d3cb0" stroke-width="1.4" stroke-linejoin="miter" points="338.13,218.54 333.53,226.51 342.73,226.51"/><polygon fill="#fff" stroke="#5d3cb0" stroke-width="1.4" stroke-linejoin="miter" points="296.22,238.52 291.62,246.48 300.82,246.48"/><polygon fill="#fff" stroke="#5d3cb0" stroke-width="1.4" stroke-linejoin="miter" points="254.3,255.44 249.7,263.41 258.9,263.41"/><polygon fill="#fff" stroke="#5d3cb0" stroke-width="1.4" stroke-linejoin="miter" points="212.38,272.91 207.78,280.87 216.98,280.87"/><polygon fill="#fff" stroke="#5d3cb0" stroke-width="1.4" stroke-linejoin="miter" points="170.47,289.97 165.87,297.94 175.06,297.94"/><polygon fill="#fff" stroke="#5d3cb0" stroke-width="1.4" stroke-linejoin="miter" points="128.55,306.55 123.95,314.52 133.15,314.52"/><polygon fill="#fff" stroke="#5d3cb0" stroke-width="1.4" stroke-linejoin="miter" points="86.63,322.13 82.03,330.09 91.23,330.09"/><polygon fill="#fff" stroke="#5d3cb0" stroke-width="1.4" stroke-linejoin="miter" points="86.63,322.13 82.03,330.09 91.23,330.09"/><polygon fill="#fff" stroke="#5d3cb0" stroke-width="1.4" stroke-linejoin="miter" points="128.55,306.55 123.95,314.52 133.15,314.52"/><polygon fill="#fff" stroke="#5d3cb0" stroke-width="1.4" stroke-linejoin="miter" points="170.47,289.97 165.87,297.94 175.06,297.94"/><polygon fill="#fff" stroke="#5d3cb0" stroke-width="1.4" stroke-linejoin="miter" points="212.38,272.91 207.78,280.87 216.98,280.87"/><polygon fill="#fff" stroke="#5d3cb0" stroke-width="1.4" stroke-linejoin="miter" points="254.3,255.44 249.7,263.41 258.9,263.41"/><polygon fill="#fff" stroke="#5d3cb0" stroke-width="1.4" stroke-linejoin="miter" points="296.22,238.52 291.62,246.48 300.82,246.48"/><polygon fill="#fff" stroke="#5d3cb0" stroke-width="1.4" stroke-linejoin="miter" points="338.13,219.9 333.53,227.87 342.73,227.87"/><polygon fill="#fff" stroke="#5d3cb0" stroke-width="1.4" stroke-linejoin="miter" points="342.32,217.94 337.72,225.9 346.92,225.9"/><polygon fill="#fff" stroke="#5d3cb0" stroke-width="1.4" stroke-linejoin="miter" points="346.52,215.97 341.92,223.94 351.12,223.94"/><polygon fill="#fff" stroke="#5d3cb0" stroke-width="1.4" stroke-linejoin="miter" points="350.71,214.01 346.11,221.98 355.31,221.98"/><polygon fill="#fff" stroke="#5d3cb0" stroke-width="1.4" stroke-linejoin="miter" points="354.9,212.05 350.3,220.01 359.5,220.01"/><polygon fill="#fff" stroke="#5d3cb0" stroke-width="1.4" stroke-linejoin="miter" points="359.09,210.08 354.49,218.05 363.69,218.05"/><polygon fill="#fff" stroke="#5d3cb0" stroke-width="1.4" stroke-linejoin="miter" points="363.28,208.12 358.68,216.09 367.88,216.09"/><polygon fill="#fff" stroke="#5d3cb0" stroke-width="1.4" stroke-linejoin="miter" points="367.47,206.16 362.87,214.12 372.07,214.12"/><polygon fill="#fff" stroke="#5d3cb0" stroke-width="1.4" stroke-linejoin="miter" points="371.67,204.19 367.07,212.16 376.27,212.16"/><polygon fill="#fff" stroke="#5d3cb0" stroke-width="1.4" stroke-linejoin="miter" points="375.86,202.23 371.26,210.2 380.46,210.2"/><polygon fill="#fff" stroke="#5d3cb0" stroke-width="1.4" stroke-linejoin="miter" points="376.7,201.84 372.1,209.8 381.3,209.8"/><polygon fill="#fff" stroke="#5d3cb0" stroke-width="1.4" stroke-linejoin="miter" points="377.53,201.44 372.93,209.41 382.13,209.41"/><polygon fill="#fff" stroke="#5d3cb0" stroke-width="1.4" stroke-linejoin="miter" points="378.37,201.05 373.77,209.02 382.97,209.02"/><polygon fill="#fff" stroke="#5d3cb0" stroke-width="1.4" stroke-linejoin="miter" points="379.21,200.66 374.61,208.63 383.81,208.63"/><polygon fill="#fff" stroke="#5d3cb0" stroke-width="1.4" stroke-linejoin="miter" points="380.05,200.27 375.45,208.23 384.65,208.23"/><polygon fill="#fff" stroke="#5d3cb0" stroke-width="1.4" stroke-linejoin="miter" points="380.89,199.87 376.29,207.84 385.49,207.84"/><polygon fill="#fff" stroke="#5d3cb0" stroke-width="1.4" stroke-linejoin="miter" points="381.73,199.48 377.13,207.45 386.33,207.45"/><polygon fill="#fff" stroke="#5d3cb0" stroke-width="1.4" stroke-linejoin="miter" points="382.57,199.09 377.97,207.05 387.17,207.05"/><polygon fill="#fff" stroke="#5d3cb0" stroke-width="1.4" stroke-linejoin="miter" points="383.4,198.69 378.8,206.66 388,206.66"/><polygon fill="#fff" stroke="#5d3cb0" stroke-width="1.4" stroke-linejoin="miter" points="384.24,198.3 379.64,206.27 388.84,206.27"/><polygon fill="#fff" stroke="#5d3cb0" stroke-width="1.4" stroke-linejoin="miter" points="388.43,196.34 383.83,204.31 393.03,204.31"/><polygon fill="#fff" stroke="#5d3cb0" stroke-width="1.4" stroke-linejoin="miter" points="392.63,194.38 388.03,202.34 397.23,202.34"/><polygon fill="#fff" stroke="#5d3cb0" stroke-width="1.4" stroke-linejoin="miter" points="396.82,192.41 392.22,200.38 401.42,200.38"/><polygon fill="#fff" stroke="#5d3cb0" stroke-width="1.4" stroke-linejoin="miter" points="401.01,190.45 396.41,198.42 405.61,198.42"/><polygon fill="#fff" stroke="#5d3cb0" stroke-width="1.4" stroke-linejoin="miter" points="405.2,188.49 400.6,196.45 409.8,196.45"/><polygon fill="#fff" stroke="#5d3cb0" stroke-width="1.4" stroke-linejoin="miter" points="409.39,186.52 404.79,194.49 413.99,194.49"/><polygon fill="#fff" stroke="#5d3cb0" stroke-width="1.4" stroke-linejoin="miter" points="413.58,184.56 408.98,192.53 418.18,192.53"/><polygon fill="#fff" stroke="#5d3cb0" stroke-width="1.4" stroke-linejoin="miter" points="417.78,182.6 413.18,190.56 422.38,190.56"/><polygon fill="#fff" stroke="#5d3cb0" stroke-width="1.4" stroke-linejoin="miter" points="421.97,180.63 417.37,188.6 426.57,188.6"/><polygon fill="#fff" stroke="#5d3cb0" stroke-width="1.4" stroke-linejoin="miter" points="463.88,160.66 459.28,168.63 468.48,168.63"/><polygon fill="#fff" stroke="#5d3cb0" stroke-width="1.4" stroke-linejoin="miter" points="505.8,143.74 501.2,151.7 510.4,151.7"/><polygon fill="#fff" stroke="#5d3cb0" stroke-width="1.4" stroke-linejoin="miter" points="547.72,126.27 543.12,134.24 552.32,134.24"/><polygon fill="#fff" stroke="#5d3cb0" stroke-width="1.4" stroke-linejoin="miter" points="589.63,109.21 585.03,117.18 594.24,117.18"/><polygon fill="#fff" stroke="#5d3cb0" stroke-width="1.4" stroke-linejoin="miter" points="631.55,92.62 626.95,100.59 636.15,100.59"/><polygon fill="#fff" stroke="#5d3cb0" stroke-width="1.4" stroke-linejoin="miter" points="673.47,77.05 668.87,85.02 678.07,85.02"/><path fill="none" stroke="#c45cc4" stroke-width="1.0" d="M427.87 142.71L457.98 123.5M470.09 116.5L499.59 101.16M512.23 95.15L541.29 82.57M554.17 77.07L583.19 64.82M596.16 59.56L625.03 48.34M638.08 43.28L666.94 32.09M666.94 32.09L638.08 43.28M625.03 48.34L596.16 59.56M583.19 64.82L554.17 77.07M541.29 82.57L512.23 95.15M499.59 101.16L470.09 116.5M457.98 123.5L427.87 142.71M373.98 205.01L373.55 206.55M369.72 220.02L369.42 221.06M332.23 265.33L302.12 284.54M290.01 291.54L260.51 306.88M247.87 312.89L218.81 325.47M206 331.12L176.85 344.24M163.97 349.73L135.04 361.38M122.02 366.52L93.16 377.71M93.16 377.71L122.02 366.52M135.07 361.46L163.94 350.24M176.91 344.98L205.93 332.73M218.81 327.23L247.87 314.65M260.51 308.64L290.01 293.3M302.12 286.3L332.23 267.09M386.12 204.79L386.55 203.25M390.38 189.78L390.68 188.74M427.87 144.47L457.98 125.26M470.09 118.26L499.59 102.92M512.23 96.91L541.29 84.33M554.1 78.68L583.25 65.56M596.13 60.07L625.06 48.42M638.08 43.28L666.94 32.09"/><polygon fill="#fff" stroke="#c04cc0" stroke-width="1.5" stroke-linejoin="miter" points="378.79,200.52 380.25,203.73 384.02,204.01 381.15,206.28 382.03,209.67 378.79,207.85 375.56,209.67 376.44,206.28 373.56,204.01 377.34,203.73"/><polygon fill="#fff" stroke="#c04cc0" stroke-width="1.5" stroke-linejoin="miter" points="379.21,200.18 380.67,203.4 384.44,203.67 381.57,205.94 382.44,209.33 379.21,207.52 375.98,209.33 376.86,205.94 373.98,203.67 377.76,203.4"/><polygon fill="#fff" stroke="#c04cc0" stroke-width="1.5" stroke-linejoin="miter" points="379.63,199.84 381.09,203.06 384.86,203.34 381.98,205.6 382.86,208.99 379.63,207.18 376.4,208.99 377.28,205.6 374.4,203.34 378.18,203.06"/><polygon fill="#fff" stroke="#c04cc0" stroke-width="1.5" stroke-linejoin="miter" points="380.05,199.5 381.5,202.72 385.28,203 382.4,205.27 383.28,208.66 380.05,206.84 376.82,208.66 377.7,205.27 374.82,203 378.6,202.72"/><polygon fill="#fff" stroke="#c04cc0" stroke-width="1.5" stroke-linejoin="miter" points="380.47,199.16 381.92,202.38 385.7,202.66 382.82,204.93 383.7,208.32 380.47,206.5 377.24,208.32 378.12,204.93 375.24,202.66 379.01,202.38"/><polygon fill="#fff" stroke="#c04cc0" stroke-width="1.5" stroke-linejoin="miter" points="380.89,198.82 382.34,202.04 386.12,202.32 383.24,204.59 384.12,207.98 380.89,206.16 377.66,207.98 378.53,204.59 375.66,202.32 379.43,202.04"/><polygon fill="#fff" stroke="#c04cc0" stroke-width="1.5" stroke-linejoin="miter" points="381.31,198.49 382.76,201.7 386.54,201.98 383.66,204.25 384.54,207.64 381.31,205.82 378.07,207.64 378.95,204.25 376.08,201.98 379.85,201.7"/><polygon fill="#fff" stroke="#c04cc0" stroke-width="1.5" stroke-linejoin="miter" points="381.73,198.08 383.18,201.3 386.96,201.58 384.08,203.84 384.96,207.23 381.73,205.42 378.49,207.23 379.37,203.84 376.5,201.58 380.27,201.3"/><polygon fill="#fff" stroke="#c04cc0" stroke-width="1.5" stroke-linejoin="miter" points="382.15,197.67 383.6,200.89 387.38,201.17 384.5,203.44 385.38,206.83 382.15,205.01 378.91,206.83 379.79,203.44 376.92,201.17 380.69,200.89"/><polygon fill="#fff" stroke="#c04cc0" stroke-width="1.5" stroke-linejoin="miter" points="382.57,197.27 384.02,200.49 387.8,200.76 384.92,203.03 385.8,206.42 382.57,204.6 379.33,206.42 380.21,203.03 377.33,200.76 381.11,200.49"/><polygon fill="#fff" stroke="#c04cc0" stroke-width="1.5" stroke-linejoin="miter" points="382.98,196.81 384.44,200.02 388.22,200.3 385.34,202.57 386.22,205.96 382.98,204.14 379.75,205.96 380.63,202.57 377.75,200.3 381.53,200.02"/><polygon fill="#fff" stroke="#c04cc0" stroke-width="1.5" stroke-linejoin="miter" points="383.4,196.35 384.86,199.56 388.63,199.84 385.76,202.11 386.64,205.5 383.4,203.68 380.17,205.5 381.05,202.11 378.17,199.84 381.95,199.56"/><polygon fill="#fff" stroke="#c04cc0" stroke-width="1.5" stroke-linejoin="miter" points="384.24,193.07 385.7,196.29 389.47,196.57 386.6,198.83 387.47,202.22 384.24,200.41 381.01,202.22 381.89,198.83 379.01,196.57 382.79,196.29"/><polygon fill="#fff" stroke="#c04cc0" stroke-width="1.5" stroke-linejoin="miter" points="388.43,184.13 389.89,187.35 393.66,187.63 390.79,189.9 391.67,193.29 388.43,191.47 385.2,193.29 386.08,189.9 383.2,187.63 386.98,187.35"/><polygon fill="#fff" stroke="#c04cc0" stroke-width="1.5" stroke-linejoin="miter" points="392.63,174.38 394.08,177.6 397.86,177.88 394.98,180.15 395.86,183.54 392.63,181.72 389.39,183.54 390.27,180.15 387.39,177.88 391.17,177.6"/><polygon fill="#fff" stroke="#c04cc0" stroke-width="1.5" stroke-linejoin="miter" points="396.82,167.01 398.27,170.22 402.05,170.5 399.17,172.77 400.05,176.16 396.82,174.34 393.58,176.16 394.46,172.77 391.59,170.5 395.36,170.22"/><polygon fill="#fff" stroke="#c04cc0" stroke-width="1.5" stroke-linejoin="miter" points="401.01,160.57 402.46,163.79 406.24,164.07 403.36,166.34 404.24,169.73 401.01,167.91 397.78,169.73 398.65,166.34 395.78,164.07 399.55,163.79"/><polygon fill="#fff" stroke="#c04cc0" stroke-width="1.5" stroke-linejoin="miter" points="405.2,155.84 406.65,159.05 410.43,159.33 407.55,161.6 408.43,164.99 405.2,163.17 401.97,164.99 402.85,161.6 399.97,159.33 403.75,159.05"/><polygon fill="#fff" stroke="#c04cc0" stroke-width="1.5" stroke-linejoin="miter" points="409.39,151.43 410.85,154.65 414.62,154.93 411.75,157.2 412.62,160.59 409.39,158.77 406.16,160.59 407.04,157.2 404.16,154.93 407.94,154.65"/><polygon fill="#fff" stroke="#c04cc0" stroke-width="1.5" stroke-linejoin="miter" points="413.58,148.39 415.04,151.61 418.81,151.88 415.94,154.15 416.82,157.54 413.58,155.72 410.35,157.54 411.23,154.15 408.35,151.88 412.13,151.61"/><polygon fill="#fff" stroke="#c04cc0" stroke-width="1.5" stroke-linejoin="miter" points="417.78,145.34 419.23,148.56 423.01,148.84 420.13,151.11 421.01,154.5 417.78,152.68 414.54,154.5 415.42,151.11 412.54,148.84 416.32,148.56"/><polygon fill="#fff" stroke="#c04cc0" stroke-width="1.5" stroke-linejoin="miter" points="421.97,141.41 423.42,144.63 427.2,144.91 424.32,147.18 425.2,150.57 421.97,148.75 418.73,150.57 419.61,147.18 416.74,144.91 420.51,144.63"/><polygon fill="#fff" stroke="#c04cc0" stroke-width="1.5" stroke-linejoin="miter" points="463.88,114.67 465.34,117.89 469.11,118.17 466.24,120.44 467.12,123.83 463.88,122.01 460.65,123.83 461.53,120.44 458.65,118.17 462.43,117.89"/><polygon fill="#fff" stroke="#c04cc0" stroke-width="1.5" stroke-linejoin="miter" points="505.8,92.87 507.26,96.09 511.03,96.37 508.15,98.64 509.03,102.03 505.8,100.21 502.57,102.03 503.45,98.64 500.57,96.37 504.35,96.09"/><polygon fill="#fff" stroke="#c04cc0" stroke-width="1.5" stroke-linejoin="miter" points="547.72,74.73 549.17,77.95 552.95,78.23 550.07,80.49 550.95,83.88 547.72,82.07 544.49,83.88 545.36,80.49 542.49,78.23 546.26,77.95"/><polygon fill="#fff" stroke="#c04cc0" stroke-width="1.5" stroke-linejoin="miter" points="589.63,57.04 591.09,60.26 594.87,60.53 591.99,62.8 592.87,66.19 589.63,64.38 586.4,66.19 587.28,62.8 584.4,60.53 588.18,60.26"/><polygon fill="#fff" stroke="#c04cc0" stroke-width="1.5" stroke-linejoin="miter" points="631.55,40.75 633.01,43.96 636.78,44.24 633.91,46.51 634.78,49.9 631.55,48.08 628.32,49.9 629.2,46.51 626.32,44.24 630.1,43.96"/><polygon fill="#fff" stroke="#c04cc0" stroke-width="1.5" stroke-linejoin="miter" points="673.47,24.5 674.92,27.71 678.7,27.99 675.82,30.26 676.7,33.65 673.47,31.83 670.24,33.65 671.12,30.26 668.24,27.99 672.01,27.71"/><polygon fill="#fff" stroke="#c04cc0" stroke-width="1.5" stroke-linejoin="miter" points="673.47,24.5 674.92,27.71 678.7,27.99 675.82,30.26 676.7,33.65 673.47,31.83 670.24,33.65 671.12,30.26 668.24,27.99 672.01,27.71"/><polygon fill="#fff" stroke="#c04cc0" stroke-width="1.5" stroke-linejoin="miter" points="631.55,40.75 633.01,43.96 636.78,44.24 633.91,46.51 634.78,49.9 631.55,48.08 628.32,49.9 629.2,46.51 626.32,44.24 630.1,43.96"/><polygon fill="#fff" stroke="#c04cc0" stroke-width="1.5" stroke-linejoin="miter" points="589.63,57.04 591.09,60.26 594.87,60.53 591.99,62.8 592.87,66.19 589.63,64.38 586.4,66.19 587.28,62.8 584.4,60.53 588.18,60.26"/><polygon fill="#fff" stroke="#c04cc0" stroke-width="1.5" stroke-linejoin="miter" points="547.72,74.73 549.17,77.95 552.95,78.23 550.07,80.49 550.95,83.88 547.72,82.07 544.49,83.88 545.36,80.49 542.49,78.23 546.26,77.95"/><polygon fill="#fff" stroke="#c04cc0" stroke-width="1.5" stroke-linejoin="miter" points="505.8,92.87 507.26,96.09 511.03,96.37 508.15,98.64 509.03,102.03 505.8,100.21 502.57,102.03 503.45,98.64 500.57,96.37 504.35,96.09"/><polygon fill="#fff" stroke="#c04cc0" stroke-width="1.5" stroke-linejoin="miter" points="463.88,114.67 465.34,117.89 469.11,118.17 466.24,120.44 467.12,123.83 463.88,122.01 460.65,123.83 461.53,120.44 458.65,118.17 462.43,117.89"/><polygon fill="#fff" stroke="#c04cc0" stroke-width="1.5" stroke-linejoin="miter" points="421.97,141.41 423.42,144.63 427.2,144.91 424.32,147.18 425.2,150.57 421.97,148.75 418.73,150.57 419.61,147.18 416.74,144.91 420.51,144.63"/><polygon fill="#fff" stroke="#c04cc0" stroke-width="1.5" stroke-linejoin="miter" points="417.78,144.64 419.23,147.86 423.01,148.13 420.13,150.4 421.01,153.79 417.78,151.97 414.54,153.79 415.42,150.4 412.54,148.13 416.32,147.86"/><polygon fill="#fff" stroke="#c04cc0" stroke-width="1.5" stroke-linejoin="miter" points="413.58,147.86 415.04,151.08 418.81,151.36 415.94,153.62 416.82,157.01 413.58,155.2 410.35,157.01 411.23,153.62 408.35,151.36 412.13,151.08"/><polygon fill="#fff" stroke="#c04cc0" stroke-width="1.5" stroke-linejoin="miter" points="409.39,151.42 410.85,154.64 414.62,154.92 411.75,157.18 412.62,160.57 409.39,158.76 406.16,160.57 407.04,157.18 404.16,154.92 407.94,154.64"/><polygon fill="#fff" stroke="#c04cc0" stroke-width="1.5" stroke-linejoin="miter" points="405.2,154.98 406.65,158.2 410.43,158.48 407.55,160.75 408.43,164.14 405.2,162.32 401.97,164.14 402.85,160.75 399.97,158.48 403.75,158.2"/><polygon fill="#fff" stroke="#c04cc0" stroke-width="1.5" stroke-linejoin="miter" points="401.01,158.88 402.46,162.1 406.24,162.38 403.36,164.65 404.24,168.04 401.01,166.22 397.78,168.04 398.65,164.65 395.78,162.38 399.55,162.1"/><polygon fill="#fff" stroke="#c04cc0" stroke-width="1.5" stroke-linejoin="miter" points="396.82,162.27 398.27,165.48 402.05,165.76 399.17,168.03 400.05,171.42 396.82,169.6 393.58,171.42 394.46,168.03 391.59,165.76 395.36,165.48"/><polygon fill="#fff" stroke="#c04cc0" stroke-width="1.5" stroke-linejoin="miter" points="392.63,165.99 394.08,169.21 397.86,169.49 394.98,171.75 395.86,175.14 392.63,173.33 389.39,175.14 390.27,171.75 387.39,169.49 391.17,169.21"/><polygon fill="#fff" stroke="#c04cc0" stroke-width="1.5" stroke-linejoin="miter" points="388.43,169.98 389.89,173.2 393.66,173.48 390.79,175.75 391.67,179.14 388.43,177.32 385.2,179.14 386.08,175.75 383.2,173.48 386.98,173.2"/><polygon fill="#fff" stroke="#c04cc0" stroke-width="1.5" stroke-linejoin="miter" points="384.24,176.15 385.7,179.36 389.47,179.64 386.6,181.91 387.47,185.3 384.24,183.48 381.01,185.3 381.89,181.91 379.01,179.64 382.79,179.36"/><polygon fill="#fff" stroke="#c04cc0" stroke-width="1.5" stroke-linejoin="miter" points="383.19,177.7 384.65,180.92 388.42,181.2 385.55,183.47 386.43,186.86 383.19,185.04 379.96,186.86 380.84,183.47 377.96,181.2 381.74,180.92"/><polygon fill="#fff" stroke="#c04cc0" stroke-width="1.5" stroke-linejoin="miter" points="382.15,178.85 383.6,182.07 387.38,182.35 384.5,184.62 385.38,188.01 382.15,186.19 378.91,188.01 379.79,184.62 376.92,182.35 380.69,182.07"/><polygon fill="#fff" stroke="#c04cc0" stroke-width="1.5" stroke-linejoin="miter" points="381.73,179.67 383.18,182.88 386.96,183.16 384.08,185.43 384.96,188.82 381.73,187 378.49,188.82 379.37,185.43 376.5,183.16 380.27,182.88"/><polygon fill="#fff" stroke="#c04cc0" stroke-width="1.5" stroke-linejoin="miter" points="381.31,180.48 382.76,183.7 386.54,183.97 383.66,186.24 384.54,189.63 381.31,187.81 378.07,189.63 378.95,186.24 376.08,183.97 379.85,183.7"/><polygon fill="#fff" stroke="#c04cc0" stroke-width="1.5" stroke-linejoin="miter" points="380.89,181.29 382.34,184.51 386.12,184.79 383.24,187.05 384.12,190.44 380.89,188.63 377.66,190.44 378.53,187.05 375.66,184.79 379.43,184.51"/><polygon fill="#fff" stroke="#c04cc0" stroke-width="1.5" stroke-linejoin="miter" points="380.47,182.1 381.92,185.32 385.7,185.6 382.82,187.87 383.7,191.26 380.47,189.44 377.24,191.26 378.12,187.87 375.24,185.6 379.01,185.32"/><polygon fill="#fff" stroke="#c04cc0" stroke-width="1.5" stroke-linejoin="miter" points="380.05,182.92 381.5,186.13 385.28,186.41 382.4,188.68 383.28,192.07 380.05,190.25 376.82,192.07 377.7,188.68 374.82,186.41 378.6,186.13"/><polygon fill="#fff" stroke="#c04cc0" stroke-width="1.5" stroke-linejoin="miter" points="379.63,183.8 381.09,187.01 384.86,187.29 381.98,189.56 382.86,192.95 379.63,191.13 376.4,192.95 377.28,189.56 374.4,187.29 378.18,187.01"/><polygon fill="#fff" stroke="#c04cc0" stroke-width="1.5" stroke-linejoin="miter" points="379.21,184.68 380.67,187.89 384.44,188.17 381.57,190.44 382.44,193.83 379.21,192.01 375.98,193.83 376.86,190.44 373.98,188.17 377.76,187.89"/><polygon fill="#fff" stroke="#c04cc0" stroke-width="1.5" stroke-linejoin="miter" points="378.79,185.56 380.25,188.77 384.02,189.05 381.15,191.32 382.03,194.71 378.79,192.89 375.56,194.71 376.44,191.32 373.56,189.05 377.34,188.77"/><polygon fill="#fff" stroke="#c04cc0" stroke-width="1.5" stroke-linejoin="miter" points="378.37,186.44 379.83,189.65 383.6,189.93 380.73,192.2 381.61,195.59 378.37,193.77 375.14,195.59 376.02,192.2 373.14,189.93 376.92,189.65"/><polygon fill="#fff" stroke="#c04cc0" stroke-width="1.5" stroke-linejoin="miter" points="377.95,187.32 379.41,190.53 383.18,190.81 380.31,193.08 381.19,196.47 377.95,194.65 374.72,196.47 375.6,193.08 372.72,190.81 376.5,190.53"/><polygon fill="#fff" stroke="#c04cc0" stroke-width="1.5" stroke-linejoin="miter" points="376.91,190.09 378.36,193.31 382.14,193.59 379.26,195.85 380.14,199.24 376.91,197.43 373.67,199.24 374.55,195.85 371.68,193.59 375.45,193.31"/><polygon fill="#fff" stroke="#c04cc0" stroke-width="1.5" stroke-linejoin="miter" points="375.86,193.21 377.31,196.42 381.09,196.7 378.21,198.97 379.09,202.36 375.86,200.54 372.63,202.36 373.5,198.97 370.63,196.7 374.4,196.42"/><polygon fill="#fff" stroke="#c04cc0" stroke-width="1.5" stroke-linejoin="miter" points="371.67,208.23 373.12,211.45 376.9,211.73 374.02,214 374.9,217.39 371.67,215.57 368.43,217.39 369.31,214 366.44,211.73 370.21,211.45"/><polygon fill="#fff" stroke="#c04cc0" stroke-width="1.5" stroke-linejoin="miter" points="367.47,222.72 368.93,225.94 372.71,226.22 369.83,228.49 370.71,231.88 367.47,230.06 364.24,231.88 365.12,228.49 362.24,226.22 366.02,225.94"/><polygon fill="#fff" stroke="#c04cc0" stroke-width="1.5" stroke-linejoin="miter" points="363.28,230.85 364.74,234.06 368.51,234.34 365.64,236.61 366.52,240 363.28,238.18 360.05,240 360.93,236.61 358.05,234.34 361.83,234.06"/><polygon fill="#fff" stroke="#c04cc0" stroke-width="1.5" stroke-linejoin="miter" points="359.09,237.75 360.55,240.97 364.32,241.25 361.45,243.52 362.32,246.91 359.09,245.09 355.86,246.91 356.74,243.52 353.86,241.25 357.64,240.97"/><polygon fill="#fff" stroke="#c04cc0" stroke-width="1.5" stroke-linejoin="miter" points="354.9,241.64 356.35,244.86 360.13,245.13 357.25,247.4 358.13,250.79 354.9,248.97 351.67,250.79 352.55,247.4 349.67,245.13 353.45,244.86"/><polygon fill="#fff" stroke="#c04cc0" stroke-width="1.5" stroke-linejoin="miter" points="350.71,245.52 352.16,248.74 355.94,249.02 353.06,251.29 353.94,254.68 350.71,252.86 347.48,254.68 348.35,251.29 345.48,249.02 349.25,248.74"/><polygon fill="#fff" stroke="#c04cc0" stroke-width="1.5" stroke-linejoin="miter" points="346.52,249.07 347.97,252.29 351.75,252.57 348.87,254.84 349.75,258.23 346.52,256.41 343.28,258.23 344.16,254.84 341.29,252.57 345.06,252.29"/><polygon fill="#fff" stroke="#c04cc0" stroke-width="1.5" stroke-linejoin="miter" points="342.32,252.62 343.78,255.84 347.56,256.12 344.68,258.38 345.56,261.77 342.32,259.96 339.09,261.77 339.97,258.38 337.09,256.12 340.87,255.84"/><polygon fill="#fff" stroke="#c04cc0" stroke-width="1.5" stroke-linejoin="miter" points="338.13,256.5 339.59,259.72 343.36,260 340.49,262.27 341.37,265.66 338.13,263.84 334.9,265.66 335.78,262.27 332.9,260 336.68,259.72"/><polygon fill="#fff" stroke="#c04cc0" stroke-width="1.5" stroke-linejoin="miter" points="296.22,283.25 297.67,286.46 301.45,286.74 298.57,289.01 299.45,292.4 296.22,290.58 292.98,292.4 293.86,289.01 290.99,286.74 294.76,286.46"/><polygon fill="#fff" stroke="#c04cc0" stroke-width="1.5" stroke-linejoin="miter" points="254.3,305.05 255.75,308.26 259.53,308.54 256.65,310.81 257.53,314.2 254.3,312.38 251.07,314.2 251.95,310.81 249.07,308.54 252.84,308.26"/><polygon fill="#fff" stroke="#c04cc0" stroke-width="1.5" stroke-linejoin="miter" points="212.38,323.19 213.84,326.41 217.61,326.69 214.74,328.95 215.61,332.34 212.38,330.53 209.15,332.34 210.03,328.95 207.15,326.69 210.93,326.41"/><polygon fill="#fff" stroke="#c04cc0" stroke-width="1.5" stroke-linejoin="miter" points="170.47,342.06 171.92,345.27 175.7,345.55 172.82,347.82 173.7,351.21 170.47,349.39 167.23,351.21 168.11,347.82 165.23,345.55 169.01,345.27"/><polygon fill="#fff" stroke="#c04cc0" stroke-width="1.5" stroke-linejoin="miter" points="128.55,358.94 130,362.15 133.78,362.43 130.9,364.7 131.78,368.09 128.55,366.27 125.32,368.09 126.19,364.7 123.32,362.43 127.09,362.15"/><polygon fill="#fff" stroke="#c04cc0" stroke-width="1.5" stroke-linejoin="miter" points="86.63,375.18 88.09,378.4 91.86,378.68 88.98,380.95 89.86,384.34 86.63,382.52 83.4,384.34 84.28,380.95 81.4,378.68 85.18,378.4"/><polygon fill="#fff" stroke="#c04cc0" stroke-width="1.5" stroke-linejoin="miter" points="86.63,375.18 88.09,378.4 91.86,378.68 88.98,380.95 89.86,384.34 86.63,382.52 83.4,384.34 84.28,380.95 81.4,378.68 85.18,378.4"/><polygon fill="#fff" stroke="#c04cc0" stroke-width="1.5" stroke-linejoin="miter" points="128.55,358.94 130,362.15 133.78,362.43 130.9,364.7 131.78,368.09 128.55,366.27 125.32,368.09 126.19,364.7 123.32,362.43 127.09,362.15"/><polygon fill="#fff" stroke="#c04cc0" stroke-width="1.5" stroke-linejoin="miter" points="170.47,342.64 171.92,345.86 175.7,346.14 172.82,348.41 173.7,351.8 170.47,349.98 167.23,351.8 168.11,348.41 165.23,346.14 169.01,345.86"/><polygon fill="#fff" stroke="#c04cc0" stroke-width="1.5" stroke-linejoin="miter" points="212.38,324.95 213.84,328.17 217.61,328.45 214.74,330.71 215.61,334.1 212.38,332.29 209.15,334.1 210.03,330.71 207.15,328.45 210.93,328.17"/><polygon fill="#fff" stroke="#c04cc0" stroke-width="1.5" stroke-linejoin="miter" points="254.3,306.81 255.75,310.02 259.53,310.3 256.65,312.57 257.53,315.96 254.3,314.14 251.07,315.96 251.95,312.57 249.07,310.3 252.84,310.02"/><polygon fill="#fff" stroke="#c04cc0" stroke-width="1.5" stroke-linejoin="miter" points="296.22,285.01 297.67,288.22 301.45,288.5 298.57,290.77 299.45,294.16 296.22,292.34 292.98,294.16 293.86,290.77 290.99,288.5 294.76,288.22"/><polygon fill="#fff" stroke="#c04cc0" stroke-width="1.5" stroke-linejoin="miter" points="338.13,258.27 339.59,261.48 343.36,261.76 340.49,264.03 341.37,267.42 338.13,265.6 334.9,267.42 335.78,264.03 332.9,261.76 336.68,261.48"/><polygon fill="#fff" stroke="#c04cc0" stroke-width="1.5" stroke-linejoin="miter" points="342.32,255.04 343.78,258.26 347.56,258.54 344.68,260.81 345.56,264.2 342.32,262.38 339.09,264.2 339.97,260.81 337.09,258.54 340.87,258.26"/><polygon fill="#fff" stroke="#c04cc0" stroke-width="1.5" stroke-linejoin="miter" points="346.52,251.82 347.97,255.04 351.75,255.32 348.87,257.58 349.75,260.97 346.52,259.16 343.28,260.97 344.16,257.58 341.29,255.32 345.06,255.04"/><polygon fill="#fff" stroke="#c04cc0" stroke-width="1.5" stroke-linejoin="miter" points="350.71,248.26 352.16,251.48 355.94,251.76 353.06,254.02 353.94,257.41 350.71,255.6 347.48,257.41 348.35,254.02 345.48,251.76 349.25,251.48"/><polygon fill="#fff" stroke="#c04cc0" stroke-width="1.5" stroke-linejoin="miter" points="354.9,244.7 356.35,247.92 360.13,248.19 357.25,250.46 358.13,253.85 354.9,252.04 351.67,253.85 352.55,250.46 349.67,248.19 353.45,247.92"/><polygon fill="#fff" stroke="#c04cc0" stroke-width="1.5" stroke-linejoin="miter" points="359.09,240.8 360.55,244.02 364.32,244.29 361.45,246.56 362.32,249.95 359.09,248.14 355.86,249.95 356.74,246.56 353.86,244.29 357.64,244.02"/><polygon fill="#fff" stroke="#c04cc0" stroke-width="1.5" stroke-linejoin="miter" points="363.28,237.41 364.74,240.63 368.51,240.91 365.64,243.18 366.52,246.57 363.28,244.75 360.05,246.57 360.93,243.18 358.05,240.91 361.83,240.63"/><polygon fill="#fff" stroke="#c04cc0" stroke-width="1.5" stroke-linejoin="miter" points="367.47,233.69 368.93,236.91 372.71,237.19 369.83,239.45 370.71,242.84 367.47,241.03 364.24,242.84 365.12,239.45 362.24,237.19 366.02,236.91"/><polygon fill="#fff" stroke="#c04cc0" stroke-width="1.5" stroke-linejoin="miter" points="371.67,229.7 373.12,232.91 376.9,233.19 374.02,235.46 374.9,238.85 371.67,237.03 368.43,238.85 369.31,235.46 366.44,233.19 370.21,232.91"/><polygon fill="#fff" stroke="#c04cc0" stroke-width="1.5" stroke-linejoin="miter" points="375.86,223.53 377.31,226.75 381.09,227.03 378.21,229.3 379.09,232.69 375.86,230.87 372.63,232.69 373.5,229.3 370.63,227.03 374.4,226.75"/><polygon fill="#fff" stroke="#c04cc0" stroke-width="1.5" stroke-linejoin="miter" points="376.91,221.98 378.36,225.2 382.14,225.47 379.26,227.74 380.14,231.13 376.91,229.31 373.67,231.13 374.55,227.74 371.68,225.47 375.45,225.2"/><polygon fill="#fff" stroke="#c04cc0" stroke-width="1.5" stroke-linejoin="miter" points="377.95,220.83 379.41,224.04 383.18,224.32 380.31,226.59 381.19,229.98 377.95,228.16 374.72,229.98 375.6,226.59 372.72,224.32 376.5,224.04"/><polygon fill="#fff" stroke="#c04cc0" stroke-width="1.5" stroke-linejoin="miter" points="378.37,220.01 379.83,223.23 383.6,223.51 380.73,225.78 381.61,229.17 378.37,227.35 375.14,229.17 376.02,225.78 373.14,223.51 376.92,223.23"/><polygon fill="#fff" stroke="#c04cc0" stroke-width="1.5" stroke-linejoin="miter" points="378.79,219.2 380.25,222.42 384.02,222.7 381.15,224.97 382.03,228.36 378.79,226.54 375.56,228.36 376.44,224.97 373.56,222.7 377.34,222.42"/><polygon fill="#fff" stroke="#c04cc0" stroke-width="1.5" stroke-linejoin="miter" points="379.21,218.39 380.67,221.61 384.44,221.89 381.57,224.15 382.44,227.54 379.21,225.73 375.98,227.54 376.86,224.15 373.98,221.89 377.76,221.61"/><polygon fill="#fff" stroke="#c04cc0" stroke-width="1.5" stroke-linejoin="miter" points="379.63,217.58 381.09,220.8 384.86,221.07 381.98,223.34 382.86,226.73 379.63,224.91 376.4,226.73 377.28,223.34 374.4,221.07 378.18,220.8"/><polygon fill="#fff" stroke="#c04cc0" stroke-width="1.5" stroke-linejoin="miter" points="380.05,216.76 381.5,219.98 385.28,220.26 382.4,222.53 383.28,225.92 380.05,224.1 376.82,225.92 377.7,222.53 374.82,220.26 378.6,219.98"/><polygon fill="#fff" stroke="#c04cc0" stroke-width="1.5" stroke-linejoin="miter" points="380.47,215.88 381.92,219.1 385.7,219.38 382.82,221.65 383.7,225.04 380.47,223.22 377.24,225.04 378.12,221.65 375.24,219.38 379.01,219.1"/><polygon fill="#fff" stroke="#c04cc0" stroke-width="1.5" stroke-linejoin="miter" points="380.89,215 382.34,218.22 386.12,218.5 383.24,220.77 384.12,224.16 380.89,222.34 377.66,224.16 378.53,220.77 375.66,218.5 379.43,218.22"/><polygon fill="#fff" stroke="#c04cc0" stroke-width="1.5" stroke-linejoin="miter" points="381.31,214.12 382.76,217.34 386.54,217.62 383.66,219.89 384.54,223.28 381.31,221.46 378.07,223.28 378.95,219.89 376.08,217.62 379.85,217.34"/><polygon fill="#fff" stroke="#c04cc0" stroke-width="1.5" stroke-linejoin="miter" points="381.73,213.24 383.18,216.46 386.96,216.74 384.08,219.01 384.96,222.4 381.73,220.58 378.49,222.4 379.37,219.01 376.5,216.74 380.27,216.46"/><polygon fill="#fff" stroke="#c04cc0" stroke-width="1.5" stroke-linejoin="miter" points="382.15,212.36 383.6,215.58 387.38,215.86 384.5,218.13 385.38,221.52 382.15,219.7 378.91,221.52 379.79,218.13 376.92,215.86 380.69,215.58"/><polygon fill="#fff" stroke="#c04cc0" stroke-width="1.5" stroke-linejoin="miter" points="383.19,209.59 384.65,212.81 388.42,213.09 385.55,215.35 386.43,218.74 383.19,216.93 379.96,218.74 380.84,215.35 377.96,213.09 381.74,212.81"/><polygon fill="#fff" stroke="#c04cc0" stroke-width="1.5" stroke-linejoin="miter" points="384.24,206.47 385.7,209.69 389.47,209.97 386.6,212.24 387.47,215.63 384.24,213.81 381.01,215.63 381.89,212.24 379.01,209.97 382.79,209.69"/><polygon fill="#fff" stroke="#c04cc0" stroke-width="1.5" stroke-linejoin="miter" points="388.43,191.45 389.89,194.66 393.66,194.94 390.79,197.21 391.67,200.6 388.43,198.78 385.2,200.6 386.08,197.21 383.2,194.94 386.98,194.66"/><polygon fill="#fff" stroke="#c04cc0" stroke-width="1.5" stroke-linejoin="miter" points="392.63,176.96 394.08,180.18 397.86,180.45 394.98,182.72 395.86,186.11 392.63,184.29 389.39,186.11 390.27,182.72 387.39,180.45 391.17,180.18"/><polygon fill="#fff" stroke="#c04cc0" stroke-width="1.5" stroke-linejoin="miter" points="396.82,168.83 398.27,172.05 402.05,172.33 399.17,174.6 400.05,177.99 396.82,176.17 393.58,177.99 394.46,174.6 391.59,172.33 395.36,172.05"/><polygon fill="#fff" stroke="#c04cc0" stroke-width="1.5" stroke-linejoin="miter" points="401.01,161.93 402.46,165.15 406.24,165.42 403.36,167.69 404.24,171.08 401.01,169.26 397.78,171.08 398.65,167.69 395.78,165.42 399.55,165.15"/><polygon fill="#fff" stroke="#c04cc0" stroke-width="1.5" stroke-linejoin="miter" points="405.2,158.04 406.65,161.26 410.43,161.54 407.55,163.81 408.43,167.2 405.2,165.38 401.97,167.2 402.85,163.81 399.97,161.54 403.75,161.26"/><polygon fill="#fff" stroke="#c04cc0" stroke-width="1.5" stroke-linejoin="miter" points="409.39,154.16 410.85,157.37 414.62,157.65 411.75,159.92 412.62,163.31 409.39,161.49 406.16,163.31 407.04,159.92 404.16,157.65 407.94,157.37"/><polygon fill="#fff" stroke="#c04cc0" stroke-width="1.5" stroke-linejoin="miter" points="413.58,150.61 415.04,153.83 418.81,154.1 415.94,156.37 416.82,159.76 413.58,157.95 410.35,159.76 411.23,156.37 408.35,154.1 412.13,153.83"/><polygon fill="#fff" stroke="#c04cc0" stroke-width="1.5" stroke-linejoin="miter" points="417.78,147.06 419.23,150.28 423.01,150.56 420.13,152.82 421.01,156.21 417.78,154.4 414.54,156.21 415.42,152.82 412.54,150.56 416.32,150.28"/><polygon fill="#fff" stroke="#c04cc0" stroke-width="1.5" stroke-linejoin="miter" points="421.97,143.18 423.42,146.39 427.2,146.67 424.32,148.94 425.2,152.33 421.97,150.51 418.73,152.33 419.61,148.94 416.74,146.67 420.51,146.39"/><polygon fill="#fff" stroke="#c04cc0" stroke-width="1.5" stroke-linejoin="miter" points="463.88,116.43 465.34,119.65 469.11,119.93 466.24,122.2 467.12,125.59 463.88,123.77 460.65,125.59 461.53,122.2 458.65,119.93 462.43,119.65"/><polygon fill="#fff" stroke="#c04cc0" stroke-width="1.5" stroke-linejoin="miter" points="505.8,94.63 507.26,97.85 511.03,98.13 508.15,100.4 509.03,103.79 505.8,101.97 502.57,103.79 503.45,100.4 500.57,98.13 504.35,97.85"/><polygon fill="#fff" stroke="#c04cc0" stroke-width="1.5" stroke-linejoin="miter" points="547.72,76.49 549.17,79.71 552.95,79.99 550.07,82.25 550.95,85.64 547.72,83.83 544.49,85.64 545.36,82.25 542.49,79.99 546.26,79.71"/><polygon fill="#fff" stroke="#c04cc0" stroke-width="1.5" stroke-linejoin="miter" points="589.63,57.62 591.09,60.84 594.87,61.12 591.99,63.39 592.87,66.78 589.63,64.96 586.4,66.78 587.28,63.39 584.4,61.12 588.18,60.84"/><polygon fill="#fff" stroke="#c04cc0" stroke-width="1.5" stroke-linejoin="miter" points="631.55,40.75 633.01,43.96 636.78,44.24 633.91,46.51 634.78,49.9 631.55,48.08 628.32,49.9 629.2,46.51 626.32,44.24 630.1,43.96"/><polygon fill="#fff" stroke="#c04cc0" stroke-width="1.5" stroke-linejoin="miter" points="673.47,24.5 674.92,27.71 678.7,27.99 675.82,30.26 676.7,33.65 673.47,31.83 670.24,33.65 671.12,30.26 668.24,27.99 672.01,27.71"/></g>
<rect x="483" y="206.4" width="189.5" height="134.9" fill="#fff"/>
<line x1="483" y1="273.3" x2="672.5" y2="273.3" stroke="#000" stroke-width="1.9"/>
<line x1="577.75" y1="205" x2="577.75" y2="341.3" stroke="#000" stroke-width="1.9"/>
<g clip-path="url(#ci)"><polyline fill="none" stroke="#303030" stroke-width="0.9" stroke-linejoin="round" points="691.21,237.41 672.3,242.75 653.39,248.2 634.48,253.66 615.57,259.11 596.66,264.57 592.88,265.66 589.1,266.75 585.31,267.84 581.53,268.94 577.75,270.03 573.97,271.12 570.19,272.21 566.4,273.3 562.62,274.39 558.84,275.48 539.93,280.94 521.02,286.39 502.11,291.85 483.2,297.31 464.29,302.89 464.29,309.19 483.2,303.85 502.11,298.4 521.02,292.94 539.93,287.49 558.84,282.03 562.62,280.94 566.4,279.85 570.19,278.76 573.97,277.66 577.75,276.57 581.53,275.48 585.31,274.39 589.1,273.3 592.88,272.21 596.66,271.12 615.57,265.66 634.48,260.21 653.39,254.75 672.3,249.29 691.21,243.71"/><rect x="688.81" y="235.01" width="4.8" height="4.8" fill="#fff" stroke="#505050" stroke-width="0.9"/><rect x="669.9" y="240.35" width="4.8" height="4.8" fill="#fff" stroke="#505050" stroke-width="0.9"/><rect x="650.99" y="245.8" width="4.8" height="4.8" fill="#fff" stroke="#505050" stroke-width="0.9"/><rect x="632.08" y="251.26" width="4.8" height="4.8" fill="#fff" stroke="#505050" stroke-width="0.9"/><rect x="613.17" y="256.71" width="4.8" height="4.8" fill="#fff" stroke="#505050" stroke-width="0.9"/><rect x="594.26" y="262.17" width="4.8" height="4.8" fill="#fff" stroke="#505050" stroke-width="0.9"/><rect x="590.48" y="263.26" width="4.8" height="4.8" fill="#fff" stroke="#505050" stroke-width="0.9"/><rect x="586.7" y="264.35" width="4.8" height="4.8" fill="#fff" stroke="#505050" stroke-width="0.9"/><rect x="582.91" y="265.44" width="4.8" height="4.8" fill="#fff" stroke="#505050" stroke-width="0.9"/><rect x="579.13" y="266.54" width="4.8" height="4.8" fill="#fff" stroke="#505050" stroke-width="0.9"/><rect x="575.35" y="267.63" width="4.8" height="4.8" fill="#fff" stroke="#505050" stroke-width="0.9"/><rect x="571.57" y="268.72" width="4.8" height="4.8" fill="#fff" stroke="#505050" stroke-width="0.9"/><rect x="567.79" y="269.81" width="4.8" height="4.8" fill="#fff" stroke="#505050" stroke-width="0.9"/><rect x="564" y="270.9" width="4.8" height="4.8" fill="#fff" stroke="#505050" stroke-width="0.9"/><rect x="560.22" y="271.99" width="4.8" height="4.8" fill="#fff" stroke="#505050" stroke-width="0.9"/><rect x="556.44" y="273.08" width="4.8" height="4.8" fill="#fff" stroke="#505050" stroke-width="0.9"/><rect x="537.53" y="278.54" width="4.8" height="4.8" fill="#fff" stroke="#505050" stroke-width="0.9"/><rect x="518.62" y="283.99" width="4.8" height="4.8" fill="#fff" stroke="#505050" stroke-width="0.9"/><rect x="499.71" y="289.45" width="4.8" height="4.8" fill="#fff" stroke="#505050" stroke-width="0.9"/><rect x="480.8" y="294.91" width="4.8" height="4.8" fill="#fff" stroke="#505050" stroke-width="0.9"/><rect x="461.89" y="300.49" width="4.8" height="4.8" fill="#fff" stroke="#505050" stroke-width="0.9"/><rect x="461.89" y="306.79" width="4.8" height="4.8" fill="#fff" stroke="#505050" stroke-width="0.9"/><rect x="480.8" y="301.45" width="4.8" height="4.8" fill="#fff" stroke="#505050" stroke-width="0.9"/><rect x="499.71" y="296" width="4.8" height="4.8" fill="#fff" stroke="#505050" stroke-width="0.9"/><rect x="518.62" y="290.54" width="4.8" height="4.8" fill="#fff" stroke="#505050" stroke-width="0.9"/><rect x="537.53" y="285.09" width="4.8" height="4.8" fill="#fff" stroke="#505050" stroke-width="0.9"/><rect x="556.44" y="279.63" width="4.8" height="4.8" fill="#fff" stroke="#505050" stroke-width="0.9"/><rect x="560.22" y="278.54" width="4.8" height="4.8" fill="#fff" stroke="#505050" stroke-width="0.9"/><rect x="564" y="277.45" width="4.8" height="4.8" fill="#fff" stroke="#505050" stroke-width="0.9"/><rect x="567.79" y="276.36" width="4.8" height="4.8" fill="#fff" stroke="#505050" stroke-width="0.9"/><rect x="571.57" y="275.26" width="4.8" height="4.8" fill="#fff" stroke="#505050" stroke-width="0.9"/><rect x="575.35" y="274.17" width="4.8" height="4.8" fill="#fff" stroke="#505050" stroke-width="0.9"/><rect x="579.13" y="273.08" width="4.8" height="4.8" fill="#fff" stroke="#505050" stroke-width="0.9"/><rect x="582.91" y="271.99" width="4.8" height="4.8" fill="#fff" stroke="#505050" stroke-width="0.9"/><rect x="586.7" y="270.9" width="4.8" height="4.8" fill="#fff" stroke="#505050" stroke-width="0.9"/><rect x="590.48" y="269.81" width="4.8" height="4.8" fill="#fff" stroke="#505050" stroke-width="0.9"/><rect x="594.26" y="268.72" width="4.8" height="4.8" fill="#fff" stroke="#505050" stroke-width="0.9"/><rect x="613.17" y="263.26" width="4.8" height="4.8" fill="#fff" stroke="#505050" stroke-width="0.9"/><rect x="632.08" y="257.81" width="4.8" height="4.8" fill="#fff" stroke="#505050" stroke-width="0.9"/><rect x="650.99" y="252.35" width="4.8" height="4.8" fill="#fff" stroke="#505050" stroke-width="0.9"/><rect x="669.9" y="246.89" width="4.8" height="4.8" fill="#fff" stroke="#505050" stroke-width="0.9"/><rect x="688.81" y="241.31" width="4.8" height="4.8" fill="#fff" stroke="#505050" stroke-width="0.9"/><polyline fill="none" stroke="#e46450" stroke-width="0.8" stroke-linejoin="round" points="694.52,254.04 683.65,255.94 672.77,257.87 661.9,259.41 651.03,260.93 640.15,262.45 629.28,263.98 618.41,265.5 607.53,267.02 596.66,268.54 585.79,270.06 574.91,271.58 564.04,273.1 553.17,274.63 542.29,276.15 531.42,277.67 520.55,279.19 509.67,280.71 498.8,282.23 487.93,283.76 477.05,285.51 466.18,287.44 455.31,289.45 455.31,293.51 466.18,291.66 477.05,289.74 487.93,287.98 498.8,286.46 509.67,284.94 520.55,283.42 531.42,281.9 542.29,280.38 553.17,278.85 564.04,277.33 574.91,275.81 585.79,274.29 596.66,272.77 607.53,271.25 618.41,269.72 629.28,268.2 640.15,266.68 651.03,265.16 661.9,263.64 672.77,262.1 683.65,260.17 694.52,258.21"/><circle cx="694.52" cy="254.04" r="3.3" fill="#fff" stroke="#e46450" stroke-width="0.85"/><circle cx="683.65" cy="255.94" r="3.3" fill="#fff" stroke="#e46450" stroke-width="0.85"/><circle cx="672.77" cy="257.87" r="3.3" fill="#fff" stroke="#e46450" stroke-width="0.85"/><circle cx="661.9" cy="259.41" r="3.3" fill="#fff" stroke="#e46450" stroke-width="0.85"/><circle cx="651.03" cy="260.93" r="3.3" fill="#fff" stroke="#e46450" stroke-width="0.85"/><circle cx="640.15" cy="262.45" r="3.3" fill="#fff" stroke="#e46450" stroke-width="0.85"/><circle cx="629.28" cy="263.98" r="3.3" fill="#fff" stroke="#e46450" stroke-width="0.85"/><circle cx="618.41" cy="265.5" r="3.3" fill="#fff" stroke="#e46450" stroke-width="0.85"/><circle cx="607.53" cy="267.02" r="3.3" fill="#fff" stroke="#e46450" stroke-width="0.85"/><circle cx="596.66" cy="268.54" r="3.3" fill="#fff" stroke="#e46450" stroke-width="0.85"/><circle cx="585.79" cy="270.06" r="3.3" fill="#fff" stroke="#e46450" stroke-width="0.85"/><circle cx="574.91" cy="271.58" r="3.3" fill="#fff" stroke="#e46450" stroke-width="0.85"/><circle cx="564.04" cy="273.1" r="3.3" fill="#fff" stroke="#e46450" stroke-width="0.85"/><circle cx="553.17" cy="274.63" r="3.3" fill="#fff" stroke="#e46450" stroke-width="0.85"/><circle cx="542.29" cy="276.15" r="3.3" fill="#fff" stroke="#e46450" stroke-width="0.85"/><circle cx="531.42" cy="277.67" r="3.3" fill="#fff" stroke="#e46450" stroke-width="0.85"/><circle cx="520.55" cy="279.19" r="3.3" fill="#fff" stroke="#e46450" stroke-width="0.85"/><circle cx="509.67" cy="280.71" r="3.3" fill="#fff" stroke="#e46450" stroke-width="0.85"/><circle cx="498.8" cy="282.23" r="3.3" fill="#fff" stroke="#e46450" stroke-width="0.85"/><circle cx="487.93" cy="283.76" r="3.3" fill="#fff" stroke="#e46450" stroke-width="0.85"/><circle cx="477.05" cy="285.51" r="3.3" fill="#fff" stroke="#e46450" stroke-width="0.85"/><circle cx="466.18" cy="287.44" r="3.3" fill="#fff" stroke="#e46450" stroke-width="0.85"/><circle cx="455.31" cy="289.45" r="3.3" fill="#fff" stroke="#e46450" stroke-width="0.85"/><circle cx="455.31" cy="293.51" r="3.3" fill="#fff" stroke="#e46450" stroke-width="0.85"/><circle cx="466.18" cy="291.66" r="3.3" fill="#fff" stroke="#e46450" stroke-width="0.85"/><circle cx="477.05" cy="289.74" r="3.3" fill="#fff" stroke="#e46450" stroke-width="0.85"/><circle cx="487.93" cy="287.98" r="3.3" fill="#fff" stroke="#e46450" stroke-width="0.85"/><circle cx="498.8" cy="286.46" r="3.3" fill="#fff" stroke="#e46450" stroke-width="0.85"/><circle cx="509.67" cy="284.94" r="3.3" fill="#fff" stroke="#e46450" stroke-width="0.85"/><circle cx="520.55" cy="283.42" r="3.3" fill="#fff" stroke="#e46450" stroke-width="0.85"/><circle cx="531.42" cy="281.9" r="3.3" fill="#fff" stroke="#e46450" stroke-width="0.85"/><circle cx="542.29" cy="280.38" r="3.3" fill="#fff" stroke="#e46450" stroke-width="0.85"/><circle cx="553.17" cy="278.85" r="3.3" fill="#fff" stroke="#e46450" stroke-width="0.85"/><circle cx="564.04" cy="277.33" r="3.3" fill="#fff" stroke="#e46450" stroke-width="0.85"/><circle cx="574.91" cy="275.81" r="3.3" fill="#fff" stroke="#e46450" stroke-width="0.85"/><circle cx="585.79" cy="274.29" r="3.3" fill="#fff" stroke="#e46450" stroke-width="0.85"/><circle cx="596.66" cy="272.77" r="3.3" fill="#fff" stroke="#e46450" stroke-width="0.85"/><circle cx="607.53" cy="271.25" r="3.3" fill="#fff" stroke="#e46450" stroke-width="0.85"/><circle cx="618.41" cy="269.72" r="3.3" fill="#fff" stroke="#e46450" stroke-width="0.85"/><circle cx="629.28" cy="268.2" r="3.3" fill="#fff" stroke="#e46450" stroke-width="0.85"/><circle cx="640.15" cy="266.68" r="3.3" fill="#fff" stroke="#e46450" stroke-width="0.85"/><circle cx="651.03" cy="265.16" r="3.3" fill="#fff" stroke="#e46450" stroke-width="0.85"/><circle cx="661.9" cy="263.64" r="3.3" fill="#fff" stroke="#e46450" stroke-width="0.85"/><circle cx="672.77" cy="262.1" r="3.3" fill="#fff" stroke="#e46450" stroke-width="0.85"/><circle cx="683.65" cy="260.17" r="3.3" fill="#fff" stroke="#e46450" stroke-width="0.85"/><circle cx="694.52" cy="258.21" r="3.3" fill="#fff" stroke="#e46450" stroke-width="0.85"/><polyline fill="none" stroke="#7a60c8" stroke-width="0.9" stroke-linejoin="round" points="691.21,248.2 672.3,252.16 653.39,256.11 634.48,260.07 615.57,264.02 596.66,267.98 592.88,268.77 589.1,269.56 585.31,270.35 581.53,271.14 577.75,271.94 573.97,272.73 570.19,273.52 566.4,274.31 562.62,275.1 558.84,275.89 539.93,279.85 521.02,283.8 502.11,287.76 483.2,291.71 464.29,295.67 464.29,298.4 483.2,294.44 502.11,290.49 521.02,286.53 539.93,282.58 558.84,278.62 562.62,277.83 566.4,277.04 570.19,276.25 573.97,275.46 577.75,274.66 581.53,273.87 585.31,273.08 589.1,272.29 592.88,271.5 596.66,270.71 615.57,266.75 634.48,262.8 653.39,258.84 672.3,254.89 691.21,250.93"/><polygon fill="#fff" stroke="#7458c8" stroke-width="0.9" stroke-linejoin="miter" points="691.21,244.62 688.11,249.99 694.31,249.99"/><polygon fill="#fff" stroke="#7458c8" stroke-width="0.9" stroke-linejoin="miter" points="672.3,248.58 669.2,253.95 675.4,253.95"/><polygon fill="#fff" stroke="#7458c8" stroke-width="0.9" stroke-linejoin="miter" points="653.39,252.53 650.29,257.9 656.49,257.9"/><polygon fill="#fff" stroke="#7458c8" stroke-width="0.9" stroke-linejoin="miter" points="634.48,256.49 631.38,261.86 637.58,261.86"/><polygon fill="#fff" stroke="#7458c8" stroke-width="0.9" stroke-linejoin="miter" points="615.57,260.45 612.47,265.81 618.67,265.81"/><polygon fill="#fff" stroke="#7458c8" stroke-width="0.9" stroke-linejoin="miter" points="596.66,264.4 593.56,269.77 599.76,269.77"/><polygon fill="#fff" stroke="#7458c8" stroke-width="0.9" stroke-linejoin="miter" points="592.88,265.19 589.78,270.56 595.98,270.56"/><polygon fill="#fff" stroke="#7458c8" stroke-width="0.9" stroke-linejoin="miter" points="589.1,265.98 586,271.35 592.2,271.35"/><polygon fill="#fff" stroke="#7458c8" stroke-width="0.9" stroke-linejoin="miter" points="585.31,266.77 582.21,272.14 588.41,272.14"/><polygon fill="#fff" stroke="#7458c8" stroke-width="0.9" stroke-linejoin="miter" points="581.53,267.57 578.43,272.93 584.63,272.93"/><polygon fill="#fff" stroke="#7458c8" stroke-width="0.9" stroke-linejoin="miter" points="577.75,268.36 574.65,273.73 580.85,273.73"/><polygon fill="#fff" stroke="#7458c8" stroke-width="0.9" stroke-linejoin="miter" points="573.97,269.15 570.87,274.52 577.07,274.52"/><polygon fill="#fff" stroke="#7458c8" stroke-width="0.9" stroke-linejoin="miter" points="570.19,269.94 567.09,275.31 573.29,275.31"/><polygon fill="#fff" stroke="#7458c8" stroke-width="0.9" stroke-linejoin="miter" points="566.4,270.73 563.3,276.1 569.5,276.1"/><polygon fill="#fff" stroke="#7458c8" stroke-width="0.9" stroke-linejoin="miter" points="562.62,271.52 559.52,276.89 565.72,276.89"/><polygon fill="#fff" stroke="#7458c8" stroke-width="0.9" stroke-linejoin="miter" points="558.84,272.31 555.74,277.68 561.94,277.68"/><polygon fill="#fff" stroke="#7458c8" stroke-width="0.9" stroke-linejoin="miter" points="539.93,276.27 536.83,281.64 543.03,281.64"/><polygon fill="#fff" stroke="#7458c8" stroke-width="0.9" stroke-linejoin="miter" points="521.02,280.22 517.92,285.59 524.12,285.59"/><polygon fill="#fff" stroke="#7458c8" stroke-width="0.9" stroke-linejoin="miter" points="502.11,284.18 499.01,289.55 505.21,289.55"/><polygon fill="#fff" stroke="#7458c8" stroke-width="0.9" stroke-linejoin="miter" points="483.2,288.13 480.1,293.5 486.3,293.5"/><polygon fill="#fff" stroke="#7458c8" stroke-width="0.9" stroke-linejoin="miter" points="464.29,292.09 461.19,297.46 467.39,297.46"/><polygon fill="#fff" stroke="#7458c8" stroke-width="0.9" stroke-linejoin="miter" points="464.29,294.82 461.19,300.19 467.39,300.19"/><polygon fill="#fff" stroke="#7458c8" stroke-width="0.9" stroke-linejoin="miter" points="483.2,290.86 480.1,296.23 486.3,296.23"/><polygon fill="#fff" stroke="#7458c8" stroke-width="0.9" stroke-linejoin="miter" points="502.11,286.91 499.01,292.28 505.21,292.28"/><polygon fill="#fff" stroke="#7458c8" stroke-width="0.9" stroke-linejoin="miter" points="521.02,282.95 517.92,288.32 524.12,288.32"/><polygon fill="#fff" stroke="#7458c8" stroke-width="0.9" stroke-linejoin="miter" points="539.93,279 536.83,284.36 543.03,284.36"/><polygon fill="#fff" stroke="#7458c8" stroke-width="0.9" stroke-linejoin="miter" points="558.84,275.04 555.74,280.41 561.94,280.41"/><polygon fill="#fff" stroke="#7458c8" stroke-width="0.9" stroke-linejoin="miter" points="562.62,274.25 559.52,279.62 565.72,279.62"/><polygon fill="#fff" stroke="#7458c8" stroke-width="0.9" stroke-linejoin="miter" points="566.4,273.46 563.3,278.83 569.5,278.83"/><polygon fill="#fff" stroke="#7458c8" stroke-width="0.9" stroke-linejoin="miter" points="570.19,272.67 567.09,278.04 573.29,278.04"/><polygon fill="#fff" stroke="#7458c8" stroke-width="0.9" stroke-linejoin="miter" points="573.97,271.88 570.87,277.24 577.07,277.24"/><polygon fill="#fff" stroke="#7458c8" stroke-width="0.9" stroke-linejoin="miter" points="577.75,271.08 574.65,276.45 580.85,276.45"/><polygon fill="#fff" stroke="#7458c8" stroke-width="0.9" stroke-linejoin="miter" points="581.53,270.29 578.43,275.66 584.63,275.66"/><polygon fill="#fff" stroke="#7458c8" stroke-width="0.9" stroke-linejoin="miter" points="585.31,269.5 582.21,274.87 588.41,274.87"/><polygon fill="#fff" stroke="#7458c8" stroke-width="0.9" stroke-linejoin="miter" points="589.1,268.71 586,274.08 592.2,274.08"/><polygon fill="#fff" stroke="#7458c8" stroke-width="0.9" stroke-linejoin="miter" points="592.88,267.92 589.78,273.29 595.98,273.29"/><polygon fill="#fff" stroke="#7458c8" stroke-width="0.9" stroke-linejoin="miter" points="596.66,267.13 593.56,272.5 599.76,272.5"/><polygon fill="#fff" stroke="#7458c8" stroke-width="0.9" stroke-linejoin="miter" points="615.57,263.17 612.47,268.54 618.67,268.54"/><polygon fill="#fff" stroke="#7458c8" stroke-width="0.9" stroke-linejoin="miter" points="634.48,259.22 631.38,264.59 637.58,264.59"/><polygon fill="#fff" stroke="#7458c8" stroke-width="0.9" stroke-linejoin="miter" points="653.39,255.26 650.29,260.63 656.49,260.63"/><polygon fill="#fff" stroke="#7458c8" stroke-width="0.9" stroke-linejoin="miter" points="672.3,251.31 669.2,256.68 675.4,256.68"/><polygon fill="#fff" stroke="#7458c8" stroke-width="0.9" stroke-linejoin="miter" points="691.21,247.35 688.11,252.72 694.31,252.72"/><polyline fill="none" stroke="#cc66cc" stroke-width="0.85" stroke-linejoin="round" points="572.08,274.66 572.55,274.49 573.02,274.32 573.5,274.15 573.97,273.98 574.44,273.81 574.91,273.64 575.39,273.47 575.86,273.3 576.33,273.13 576.8,272.96 577.28,272.79 577.75,272.62 578.22,272.45 578.7,272.28 579.17,272.11 579.64,271.94 580.11,271.77 580.59,271.6 581.06,271.42 581.53,271.25 582,271.08 582.48,270.91 582.95,270.74 583.42,270.57 583.9,270.37 584.37,270.16 584.84,269.96 585.31,269.75 585.79,269.55 586.26,269.34 586.73,269.14 587.21,268.94 587.68,268.73 588.15,268.53 588.62,268.32 589.1,268.12 589.57,267.88 590.04,267.65 590.51,267.42 590.99,267.19 591.46,266.96 591.93,266.73 592.41,266.49 592.88,266.26 593.35,266.03 593.82,265.8 596.66,259.66 615.57,241.66 634.48,222.01 653.39,207.15 672.3,194.19 691.21,184.64 691.21,182.92 672.3,190.78 653.39,197.6 634.48,205.1 615.57,213.15 596.66,225.56 591.93,228.7 587.21,231.02 586.73,231.43 586.26,231.83 585.79,232.24 585.31,232.65 584.84,233.06 584.37,233.47 583.9,233.88 583.42,234.29 582.95,234.7 582.48,235.11 582,235.52 581.53,235.93 581.06,236.34 580.59,236.74 580.11,237.15 579.64,237.56 579.17,237.97 578.7,238.38 578.22,238.79 577.75,239.2 577.28,239.64 576.8,240.09 576.33,240.53 575.86,240.97 575.39,241.42 574.91,241.86 574.44,242.3 573.97,242.75 573.5,243.19 573.02,243.63 572.55,244.08 572.08,244.52 571.6,244.96 571.13,245.41 570.66,245.85 570.19,246.29 569.71,246.74 569.24,247.18 568.77,247.62 568.29,248.07 567.82,248.63 567.35,249.18 563.57,253.66 558.84,259.93 539.93,290.21 521.02,319.4 502.11,335.77 483.2,349.68 464.29,357.51 464.29,363.68 483.2,355.82 502.11,349 521.02,341.5 539.93,333.45 558.84,321.04 563.57,317.9 568.29,315.58 568.77,315.17 569.24,314.77 569.71,314.36 570.19,313.95 570.66,313.54 571.13,313.13 571.6,312.72 572.08,312.31 572.55,311.9 573.02,311.49 573.5,311.08 573.97,310.67 574.44,310.26 574.91,309.86 575.39,309.45 575.86,309.04 576.33,308.63 576.8,308.22 577.28,307.81 577.75,307.4 578.22,306.96 578.7,306.51 579.17,306.07 579.64,305.63 580.11,305.18 580.59,304.74 581.06,304.3 581.53,303.85 582,303.41 582.48,302.97 582.95,302.52 583.42,302.08 583.9,301.64 584.37,301.19 584.84,300.75 585.31,300.31 585.79,299.86 586.26,299.42 586.73,298.98 587.21,298.53 587.68,297.97 588.15,297.42 591.93,292.94 596.66,286.67 615.57,256.39 634.48,227.2 653.39,210.83 672.3,196.92 691.21,189.09"/><polygon fill="#fff" stroke="#c858c8" stroke-width="0.85" stroke-linejoin="miter" points="572.08,271.44 573,273.49 575.41,273.67 573.57,275.11 574.13,277.27 572.08,276.11 570.02,277.27 570.58,275.11 568.75,273.67 571.15,273.49"/><polygon fill="#fff" stroke="#c858c8" stroke-width="0.85" stroke-linejoin="miter" points="572.55,271.27 573.48,273.32 575.88,273.5 574.05,274.94 574.61,277.1 572.55,275.94 570.49,277.1 571.05,274.94 569.22,273.5 571.62,273.32"/><polygon fill="#fff" stroke="#c858c8" stroke-width="0.85" stroke-linejoin="miter" points="573.02,271.1 573.95,273.15 576.35,273.33 574.52,274.77 575.08,276.93 573.02,275.77 570.97,276.93 571.52,274.77 569.69,273.33 572.1,273.15"/><polygon fill="#fff" stroke="#c858c8" stroke-width="0.85" stroke-linejoin="miter" points="573.5,270.93 574.42,272.98 576.82,273.16 574.99,274.6 575.55,276.76 573.5,275.6 571.44,276.76 572,274.6 570.17,273.16 572.57,272.98"/><polygon fill="#fff" stroke="#c858c8" stroke-width="0.85" stroke-linejoin="miter" points="573.97,270.76 574.89,272.81 577.3,272.99 575.47,274.43 576.03,276.59 573.97,275.43 571.91,276.59 572.47,274.43 570.64,272.99 573.04,272.81"/><polygon fill="#fff" stroke="#c858c8" stroke-width="0.85" stroke-linejoin="miter" points="574.44,270.59 575.37,272.64 577.77,272.82 575.94,274.26 576.5,276.42 574.44,275.26 572.38,276.42 572.94,274.26 571.11,272.82 573.51,272.64"/><polygon fill="#fff" stroke="#c858c8" stroke-width="0.85" stroke-linejoin="miter" points="574.91,270.42 575.84,272.47 578.24,272.65 576.41,274.09 576.97,276.25 574.91,275.09 572.86,276.25 573.42,274.09 571.58,272.65 573.99,272.47"/><polygon fill="#fff" stroke="#c858c8" stroke-width="0.85" stroke-linejoin="miter" points="575.39,270.25 576.31,272.3 578.71,272.48 576.88,273.92 577.44,276.08 575.39,274.92 573.33,276.08 573.89,273.92 572.06,272.48 574.46,272.3"/><polygon fill="#fff" stroke="#c858c8" stroke-width="0.85" stroke-linejoin="miter" points="575.86,270.08 576.78,272.13 579.19,272.3 577.36,273.75 577.92,275.91 575.86,274.75 573.8,275.91 574.36,273.75 572.53,272.3 574.93,272.13"/><polygon fill="#fff" stroke="#c858c8" stroke-width="0.85" stroke-linejoin="miter" points="576.33,269.91 577.26,271.96 579.66,272.13 577.83,273.58 578.39,275.73 576.33,274.58 574.27,275.73 574.83,273.58 573,272.13 575.41,271.96"/><polygon fill="#fff" stroke="#c858c8" stroke-width="0.85" stroke-linejoin="miter" points="576.8,269.74 577.73,271.79 580.13,271.96 578.3,273.41 578.86,275.56 576.8,274.41 574.75,275.56 575.31,273.41 573.48,271.96 575.88,271.79"/><polygon fill="#fff" stroke="#c858c8" stroke-width="0.85" stroke-linejoin="miter" points="577.28,269.57 578.2,271.62 580.61,271.79 578.78,273.24 579.33,275.39 577.28,274.24 575.22,275.39 575.78,273.24 573.95,271.79 576.35,271.62"/><polygon fill="#fff" stroke="#c858c8" stroke-width="0.85" stroke-linejoin="miter" points="577.75,269.4 578.68,271.45 581.08,271.62 579.25,273.07 579.81,275.22 577.75,274.07 575.69,275.22 576.25,273.07 574.42,271.62 576.82,271.45"/><polygon fill="#fff" stroke="#c858c8" stroke-width="0.85" stroke-linejoin="miter" points="578.22,269.23 579.15,271.28 581.55,271.45 579.72,272.9 580.28,275.05 578.22,273.9 576.17,275.05 576.72,272.9 574.89,271.45 577.3,271.28"/><polygon fill="#fff" stroke="#c858c8" stroke-width="0.85" stroke-linejoin="miter" points="578.7,269.06 579.62,271.1 582.02,271.28 580.19,272.72 580.75,274.88 578.7,273.73 576.64,274.88 577.2,272.72 575.37,271.28 577.77,271.1"/><polygon fill="#fff" stroke="#c858c8" stroke-width="0.85" stroke-linejoin="miter" points="579.17,268.89 580.09,270.93 582.5,271.11 580.67,272.55 581.23,274.71 579.17,273.56 577.11,274.71 577.67,272.55 575.84,271.11 578.24,270.93"/><polygon fill="#fff" stroke="#c858c8" stroke-width="0.85" stroke-linejoin="miter" points="579.64,268.72 580.57,270.76 582.97,270.94 581.14,272.38 581.7,274.54 579.64,273.39 577.58,274.54 578.14,272.38 576.31,270.94 578.72,270.76"/><polygon fill="#fff" stroke="#c858c8" stroke-width="0.85" stroke-linejoin="miter" points="580.11,268.55 581.04,270.59 583.44,270.77 581.61,272.21 582.17,274.37 580.11,273.21 578.06,274.37 578.62,272.21 576.79,270.77 579.19,270.59"/><polygon fill="#fff" stroke="#c858c8" stroke-width="0.85" stroke-linejoin="miter" points="580.59,268.38 581.51,270.42 583.92,270.6 582.08,272.04 582.64,274.2 580.59,273.04 578.53,274.2 579.09,272.04 577.26,270.6 579.66,270.42"/><polygon fill="#fff" stroke="#c858c8" stroke-width="0.85" stroke-linejoin="miter" points="581.06,268.2 581.99,270.25 584.39,270.43 582.56,271.87 583.12,274.03 581.06,272.87 579,274.03 579.56,271.87 577.73,270.43 580.13,270.25"/><polygon fill="#fff" stroke="#c858c8" stroke-width="0.85" stroke-linejoin="miter" points="581.53,268.03 582.46,270.08 584.86,270.26 583.03,271.7 583.59,273.86 581.53,272.7 579.47,273.86 580.03,271.7 578.2,270.26 580.61,270.08"/><polygon fill="#fff" stroke="#c858c8" stroke-width="0.85" stroke-linejoin="miter" points="582,267.86 582.93,269.91 585.33,270.09 583.5,271.53 584.06,273.69 582,272.53 579.95,273.69 580.51,271.53 578.68,270.09 581.08,269.91"/><polygon fill="#fff" stroke="#c858c8" stroke-width="0.85" stroke-linejoin="miter" points="582.48,267.69 583.4,269.74 585.81,269.92 583.98,271.36 584.53,273.52 582.48,272.36 580.42,273.52 580.98,271.36 579.15,269.92 581.55,269.74"/><polygon fill="#fff" stroke="#c858c8" stroke-width="0.85" stroke-linejoin="miter" points="582.95,267.52 583.88,269.57 586.28,269.75 584.45,271.19 585.01,273.35 582.95,272.19 580.89,273.35 581.45,271.19 579.62,269.75 582.02,269.57"/><polygon fill="#fff" stroke="#c858c8" stroke-width="0.85" stroke-linejoin="miter" points="583.42,267.35 584.35,269.4 586.75,269.58 584.92,271.02 585.48,273.18 583.42,272.02 581.37,273.18 581.93,271.02 580.09,269.58 582.5,269.4"/><polygon fill="#fff" stroke="#c858c8" stroke-width="0.85" stroke-linejoin="miter" points="583.9,267.15 584.82,269.2 587.22,269.37 585.39,270.82 585.95,272.97 583.9,271.82 581.84,272.97 582.4,270.82 580.57,269.37 582.97,269.2"/><polygon fill="#fff" stroke="#c858c8" stroke-width="0.85" stroke-linejoin="miter" points="584.37,266.94 585.29,268.99 587.7,269.17 585.87,270.61 586.43,272.77 584.37,271.61 582.31,272.77 582.87,270.61 581.04,269.17 583.44,268.99"/><polygon fill="#fff" stroke="#c858c8" stroke-width="0.85" stroke-linejoin="miter" points="584.84,266.74 585.77,268.79 588.17,268.96 586.34,270.41 586.9,272.56 584.84,271.41 582.78,272.56 583.34,270.41 581.51,268.96 583.92,268.79"/><polygon fill="#fff" stroke="#c858c8" stroke-width="0.85" stroke-linejoin="miter" points="585.31,266.53 586.24,268.58 588.64,268.76 586.81,270.2 587.37,272.36 585.31,271.2 583.26,272.36 583.82,270.2 581.99,268.76 584.39,268.58"/><polygon fill="#fff" stroke="#c858c8" stroke-width="0.85" stroke-linejoin="miter" points="585.79,266.33 586.71,268.38 589.12,268.55 587.28,270 587.84,272.15 585.79,271 583.73,272.15 584.29,270 582.46,268.55 584.86,268.38"/><polygon fill="#fff" stroke="#c858c8" stroke-width="0.85" stroke-linejoin="miter" points="586.26,266.12 587.19,268.17 589.59,268.35 587.76,269.79 588.32,271.95 586.26,270.79 584.2,271.95 584.76,269.79 582.93,268.35 585.33,268.17"/><polygon fill="#fff" stroke="#c858c8" stroke-width="0.85" stroke-linejoin="miter" points="586.73,265.92 587.66,267.97 590.06,268.14 588.23,269.59 588.79,271.74 586.73,270.59 584.68,271.74 585.23,269.59 583.4,268.14 585.81,267.97"/><polygon fill="#fff" stroke="#c858c8" stroke-width="0.85" stroke-linejoin="miter" points="587.21,265.72 588.13,267.76 590.53,267.94 588.7,269.38 589.26,271.54 587.21,270.38 585.15,271.54 585.71,269.38 583.88,267.94 586.28,267.76"/><polygon fill="#fff" stroke="#c858c8" stroke-width="0.85" stroke-linejoin="miter" points="587.68,265.51 588.6,267.56 591.01,267.74 589.18,269.18 589.73,271.34 587.68,270.18 585.62,271.34 586.18,269.18 584.35,267.74 586.75,267.56"/><polygon fill="#fff" stroke="#c858c8" stroke-width="0.85" stroke-linejoin="miter" points="588.15,265.31 589.08,267.35 591.48,267.53 589.65,268.97 590.21,271.13 588.15,269.98 586.09,271.13 586.65,268.97 584.82,267.53 587.22,267.35"/><polygon fill="#fff" stroke="#c858c8" stroke-width="0.85" stroke-linejoin="miter" points="588.62,265.1 589.55,267.15 591.95,267.33 590.12,268.77 590.68,270.93 588.62,269.77 586.57,270.93 587.13,268.77 585.29,267.33 587.7,267.15"/><polygon fill="#fff" stroke="#c858c8" stroke-width="0.85" stroke-linejoin="miter" points="589.1,264.9 590.02,266.94 592.42,267.12 590.59,268.56 591.15,270.72 589.1,269.57 587.04,270.72 587.6,268.56 585.77,267.12 588.17,266.94"/><polygon fill="#fff" stroke="#c858c8" stroke-width="0.85" stroke-linejoin="miter" points="589.57,264.66 590.49,266.71 592.9,266.89 591.07,268.33 591.63,270.49 589.57,269.33 587.51,270.49 588.07,268.33 586.24,266.89 588.64,266.71"/><polygon fill="#fff" stroke="#c858c8" stroke-width="0.85" stroke-linejoin="miter" points="590.04,264.43 590.97,266.48 593.37,266.66 591.54,268.1 592.1,270.26 590.04,269.1 587.98,270.26 588.54,268.1 586.71,266.66 589.12,266.48"/><polygon fill="#fff" stroke="#c858c8" stroke-width="0.85" stroke-linejoin="miter" points="590.51,264.2 591.44,266.25 593.84,266.43 592.01,267.87 592.57,270.03 590.51,268.87 588.46,270.03 589.02,267.87 587.19,266.43 589.59,266.25"/><polygon fill="#fff" stroke="#c858c8" stroke-width="0.85" stroke-linejoin="miter" points="590.99,263.97 591.91,266.02 594.32,266.19 592.48,267.64 593.04,269.79 590.99,268.64 588.93,269.79 589.49,267.64 587.66,266.19 590.06,266.02"/><polygon fill="#fff" stroke="#c858c8" stroke-width="0.85" stroke-linejoin="miter" points="591.46,263.74 592.39,265.79 594.79,265.96 592.96,267.41 593.52,269.56 591.46,268.41 589.4,269.56 589.96,267.41 588.13,265.96 590.53,265.79"/><polygon fill="#fff" stroke="#c858c8" stroke-width="0.85" stroke-linejoin="miter" points="591.93,263.51 592.86,265.55 595.26,265.73 593.43,267.17 593.99,269.33 591.93,268.17 589.88,269.33 590.43,267.17 588.6,265.73 591.01,265.55"/><polygon fill="#fff" stroke="#c858c8" stroke-width="0.85" stroke-linejoin="miter" points="592.41,263.27 593.33,265.32 595.73,265.5 593.9,266.94 594.46,269.1 592.41,267.94 590.35,269.1 590.91,266.94 589.08,265.5 591.48,265.32"/><polygon fill="#fff" stroke="#c858c8" stroke-width="0.85" stroke-linejoin="miter" points="592.88,263.04 593.8,265.09 596.21,265.27 594.38,266.71 594.94,268.87 592.88,267.71 590.82,268.87 591.38,266.71 589.55,265.27 591.95,265.09"/><polygon fill="#fff" stroke="#c858c8" stroke-width="0.85" stroke-linejoin="miter" points="593.35,262.81 594.28,264.86 596.68,265.03 594.85,266.48 595.41,268.63 593.35,267.48 591.29,268.63 591.85,266.48 590.02,265.03 592.42,264.86"/><polygon fill="#fff" stroke="#c858c8" stroke-width="0.85" stroke-linejoin="miter" points="593.82,262.58 594.75,264.63 597.15,264.8 595.32,266.25 595.88,268.4 593.82,267.25 591.77,268.4 592.33,266.25 590.49,264.8 592.9,264.63"/><polygon fill="#fff" stroke="#c858c8" stroke-width="0.85" stroke-linejoin="miter" points="596.66,256.44 597.59,258.49 599.99,258.66 598.16,260.11 598.72,262.27 596.66,261.11 594.6,262.27 595.16,260.11 593.33,258.66 595.73,258.49"/><polygon fill="#fff" stroke="#c858c8" stroke-width="0.85" stroke-linejoin="miter" points="615.57,238.44 616.5,240.48 618.9,240.66 617.07,242.1 617.63,244.26 615.57,243.1 613.51,244.26 614.07,242.1 612.24,240.66 614.64,240.48"/><polygon fill="#fff" stroke="#c858c8" stroke-width="0.85" stroke-linejoin="miter" points="634.48,218.79 635.41,220.84 637.81,221.02 635.98,222.46 636.54,224.62 634.48,223.46 632.42,224.62 632.98,222.46 631.15,221.02 633.55,220.84"/><polygon fill="#fff" stroke="#c858c8" stroke-width="0.85" stroke-linejoin="miter" points="653.39,203.93 654.32,205.97 656.72,206.15 654.89,207.59 655.45,209.75 653.39,208.6 651.33,209.75 651.89,207.59 650.06,206.15 652.46,205.97"/><polygon fill="#fff" stroke="#c858c8" stroke-width="0.85" stroke-linejoin="miter" points="672.3,190.97 673.23,193.02 675.63,193.19 673.8,194.64 674.36,196.79 672.3,195.64 670.24,196.79 670.8,194.64 668.97,193.19 671.37,193.02"/><polygon fill="#fff" stroke="#c858c8" stroke-width="0.85" stroke-linejoin="miter" points="691.21,181.42 692.14,183.47 694.54,183.64 692.71,185.09 693.27,187.25 691.21,186.09 689.15,187.25 689.71,185.09 687.88,183.64 690.28,183.47"/><polygon fill="#fff" stroke="#c858c8" stroke-width="0.85" stroke-linejoin="miter" points="691.21,179.7 692.14,181.75 694.54,181.93 692.71,183.37 693.27,185.53 691.21,184.37 689.15,185.53 689.71,183.37 687.88,181.93 690.28,181.75"/><polygon fill="#fff" stroke="#c858c8" stroke-width="0.85" stroke-linejoin="miter" points="672.3,187.56 673.23,189.61 675.63,189.78 673.8,191.23 674.36,193.38 672.3,192.23 670.24,193.38 670.8,191.23 668.97,189.78 671.37,189.61"/><polygon fill="#fff" stroke="#c858c8" stroke-width="0.85" stroke-linejoin="miter" points="653.39,194.38 654.32,196.43 656.72,196.6 654.89,198.05 655.45,200.2 653.39,199.05 651.33,200.2 651.89,198.05 650.06,196.6 652.46,196.43"/><polygon fill="#fff" stroke="#c858c8" stroke-width="0.85" stroke-linejoin="miter" points="634.48,201.88 635.41,203.93 637.81,204.1 635.98,205.55 636.54,207.71 634.48,206.55 632.42,207.71 632.98,205.55 631.15,204.1 633.55,203.93"/><polygon fill="#fff" stroke="#c858c8" stroke-width="0.85" stroke-linejoin="miter" points="615.57,209.93 616.5,211.98 618.9,212.15 617.07,213.6 617.63,215.75 615.57,214.6 613.51,215.75 614.07,213.6 612.24,212.15 614.64,211.98"/><polygon fill="#fff" stroke="#c858c8" stroke-width="0.85" stroke-linejoin="miter" points="596.66,222.34 597.59,224.39 599.99,224.56 598.16,226.01 598.72,228.17 596.66,227.01 594.6,228.17 595.16,226.01 593.33,224.56 595.73,224.39"/><polygon fill="#fff" stroke="#c858c8" stroke-width="0.85" stroke-linejoin="miter" points="591.93,225.48 592.86,227.52 595.26,227.7 593.43,229.14 593.99,231.3 591.93,230.15 589.88,231.3 590.43,229.14 588.6,227.7 591.01,227.52"/><polygon fill="#fff" stroke="#c858c8" stroke-width="0.85" stroke-linejoin="miter" points="587.21,227.8 588.13,229.84 590.53,230.02 588.7,231.46 589.26,233.62 587.21,232.47 585.15,233.62 585.71,231.46 583.88,230.02 586.28,229.84"/><polygon fill="#fff" stroke="#c858c8" stroke-width="0.85" stroke-linejoin="miter" points="586.73,228.21 587.66,230.25 590.06,230.43 588.23,231.87 588.79,234.03 586.73,232.87 584.68,234.03 585.23,231.87 583.4,230.43 585.81,230.25"/><polygon fill="#fff" stroke="#c858c8" stroke-width="0.85" stroke-linejoin="miter" points="586.26,228.61 587.19,230.66 589.59,230.84 587.76,232.28 588.32,234.44 586.26,233.28 584.2,234.44 584.76,232.28 582.93,230.84 585.33,230.66"/><polygon fill="#fff" stroke="#c858c8" stroke-width="0.85" stroke-linejoin="miter" points="585.79,229.02 586.71,231.07 589.12,231.25 587.28,232.69 587.84,234.85 585.79,233.69 583.73,234.85 584.29,232.69 582.46,231.25 584.86,231.07"/><polygon fill="#fff" stroke="#c858c8" stroke-width="0.85" stroke-linejoin="miter" points="585.31,229.43 586.24,231.48 588.64,231.66 586.81,233.1 587.37,235.26 585.31,234.1 583.26,235.26 583.82,233.1 581.99,231.66 584.39,231.48"/><polygon fill="#fff" stroke="#c858c8" stroke-width="0.85" stroke-linejoin="miter" points="584.84,229.84 585.77,231.89 588.17,232.07 586.34,233.51 586.9,235.67 584.84,234.51 582.78,235.67 583.34,233.51 581.51,232.07 583.92,231.89"/><polygon fill="#fff" stroke="#c858c8" stroke-width="0.85" stroke-linejoin="miter" points="584.37,230.25 585.29,232.3 587.7,232.48 585.87,233.92 586.43,236.08 584.37,234.92 582.31,236.08 582.87,233.92 581.04,232.48 583.44,232.3"/><polygon fill="#fff" stroke="#c858c8" stroke-width="0.85" stroke-linejoin="miter" points="583.9,230.66 584.82,232.71 587.22,232.89 585.39,234.33 585.95,236.49 583.9,235.33 581.84,236.49 582.4,234.33 580.57,232.89 582.97,232.71"/><polygon fill="#fff" stroke="#c858c8" stroke-width="0.85" stroke-linejoin="miter" points="583.42,231.07 584.35,233.12 586.75,233.29 584.92,234.74 585.48,236.89 583.42,235.74 581.37,236.89 581.93,234.74 580.09,233.29 582.5,233.12"/><polygon fill="#fff" stroke="#c858c8" stroke-width="0.85" stroke-linejoin="miter" points="582.95,231.48 583.88,233.53 586.28,233.7 584.45,235.15 585.01,237.3 582.95,236.15 580.89,237.3 581.45,235.15 579.62,233.7 582.02,233.53"/><polygon fill="#fff" stroke="#c858c8" stroke-width="0.85" stroke-linejoin="miter" points="582.48,231.89 583.4,233.94 585.81,234.11 583.98,235.56 584.53,237.71 582.48,236.56 580.42,237.71 580.98,235.56 579.15,234.11 581.55,233.94"/><polygon fill="#fff" stroke="#c858c8" stroke-width="0.85" stroke-linejoin="miter" points="582,232.3 582.93,234.34 585.33,234.52 583.5,235.96 584.06,238.12 582,236.97 579.95,238.12 580.51,235.96 578.68,234.52 581.08,234.34"/><polygon fill="#fff" stroke="#c858c8" stroke-width="0.85" stroke-linejoin="miter" points="581.53,232.71 582.46,234.75 584.86,234.93 583.03,236.37 583.59,238.53 581.53,237.38 579.47,238.53 580.03,236.37 578.2,234.93 580.61,234.75"/><polygon fill="#fff" stroke="#c858c8" stroke-width="0.85" stroke-linejoin="miter" points="581.06,233.12 581.99,235.16 584.39,235.34 582.56,236.78 583.12,238.94 581.06,237.78 579,238.94 579.56,236.78 577.73,235.34 580.13,235.16"/><polygon fill="#fff" stroke="#c858c8" stroke-width="0.85" stroke-linejoin="miter" points="580.59,233.52 581.51,235.57 583.92,235.75 582.08,237.19 582.64,239.35 580.59,238.19 578.53,239.35 579.09,237.19 577.26,235.75 579.66,235.57"/><polygon fill="#fff" stroke="#c858c8" stroke-width="0.85" stroke-linejoin="miter" points="580.11,233.93 581.04,235.98 583.44,236.16 581.61,237.6 582.17,239.76 580.11,238.6 578.06,239.76 578.62,237.6 576.79,236.16 579.19,235.98"/><polygon fill="#fff" stroke="#c858c8" stroke-width="0.85" stroke-linejoin="miter" points="579.64,234.34 580.57,236.39 582.97,236.57 581.14,238.01 581.7,240.17 579.64,239.01 577.58,240.17 578.14,238.01 576.31,236.57 578.72,236.39"/><polygon fill="#fff" stroke="#c858c8" stroke-width="0.85" stroke-linejoin="miter" points="579.17,234.75 580.09,236.8 582.5,236.98 580.67,238.42 581.23,240.58 579.17,239.42 577.11,240.58 577.67,238.42 575.84,236.98 578.24,236.8"/><polygon fill="#fff" stroke="#c858c8" stroke-width="0.85" stroke-linejoin="miter" points="578.7,235.16 579.62,237.21 582.02,237.39 580.19,238.83 580.75,240.99 578.7,239.83 576.64,240.99 577.2,238.83 575.37,237.39 577.77,237.21"/><polygon fill="#fff" stroke="#c858c8" stroke-width="0.85" stroke-linejoin="miter" points="578.22,235.57 579.15,237.62 581.55,237.8 579.72,239.24 580.28,241.4 578.22,240.24 576.17,241.4 576.72,239.24 574.89,237.8 577.3,237.62"/><polygon fill="#fff" stroke="#c858c8" stroke-width="0.85" stroke-linejoin="miter" points="577.75,235.98 578.68,238.03 581.08,238.2 579.25,239.65 579.81,241.81 577.75,240.65 575.69,241.81 576.25,239.65 574.42,238.2 576.82,238.03"/><polygon fill="#fff" stroke="#c858c8" stroke-width="0.85" stroke-linejoin="miter" points="577.28,236.42 578.2,238.47 580.61,238.65 578.78,240.09 579.33,242.25 577.28,241.09 575.22,242.25 575.78,240.09 573.95,238.65 576.35,238.47"/><polygon fill="#fff" stroke="#c858c8" stroke-width="0.85" stroke-linejoin="miter" points="576.8,236.87 577.73,238.91 580.13,239.09 578.3,240.53 578.86,242.69 576.8,241.54 574.75,242.69 575.31,240.53 573.48,239.09 575.88,238.91"/><polygon fill="#fff" stroke="#c858c8" stroke-width="0.85" stroke-linejoin="miter" points="576.33,237.31 577.26,239.36 579.66,239.53 577.83,240.98 578.39,243.13 576.33,241.98 574.27,243.13 574.83,240.98 573,239.53 575.41,239.36"/><polygon fill="#fff" stroke="#c858c8" stroke-width="0.85" stroke-linejoin="miter" points="575.86,237.75 576.78,239.8 579.19,239.98 577.36,241.42 577.92,243.58 575.86,242.42 573.8,243.58 574.36,241.42 572.53,239.98 574.93,239.8"/><polygon fill="#fff" stroke="#c858c8" stroke-width="0.85" stroke-linejoin="miter" points="575.39,238.2 576.31,240.24 578.71,240.42 576.88,241.86 577.44,244.02 575.39,242.87 573.33,244.02 573.89,241.86 572.06,240.42 574.46,240.24"/><polygon fill="#fff" stroke="#c858c8" stroke-width="0.85" stroke-linejoin="miter" points="574.91,238.64 575.84,240.69 578.24,240.86 576.41,242.31 576.97,244.46 574.91,243.31 572.86,244.46 573.42,242.31 571.58,240.86 573.99,240.69"/><polygon fill="#fff" stroke="#c858c8" stroke-width="0.85" stroke-linejoin="miter" points="574.44,239.08 575.37,241.13 577.77,241.31 575.94,242.75 576.5,244.91 574.44,243.75 572.38,244.91 572.94,242.75 571.11,241.31 573.51,241.13"/><polygon fill="#fff" stroke="#c858c8" stroke-width="0.85" stroke-linejoin="miter" points="573.97,239.53 574.89,241.57 577.3,241.75 575.47,243.19 576.03,245.35 573.97,244.2 571.91,245.35 572.47,243.19 570.64,241.75 573.04,241.57"/><polygon fill="#fff" stroke="#c858c8" stroke-width="0.85" stroke-linejoin="miter" points="573.5,239.97 574.42,242.02 576.82,242.19 574.99,243.64 575.55,245.79 573.5,244.64 571.44,245.79 572,243.64 570.17,242.19 572.57,242.02"/><polygon fill="#fff" stroke="#c858c8" stroke-width="0.85" stroke-linejoin="miter" points="573.02,240.41 573.95,242.46 576.35,242.64 574.52,244.08 575.08,246.24 573.02,245.08 570.97,246.24 571.52,244.08 569.69,242.64 572.1,242.46"/><polygon fill="#fff" stroke="#c858c8" stroke-width="0.85" stroke-linejoin="miter" points="572.55,240.86 573.48,242.9 575.88,243.08 574.05,244.52 574.61,246.68 572.55,245.53 570.49,246.68 571.05,244.52 569.22,243.08 571.62,242.9"/><polygon fill="#fff" stroke="#c858c8" stroke-width="0.85" stroke-linejoin="miter" points="572.08,241.3 573,243.35 575.41,243.52 573.57,244.97 574.13,247.12 572.08,245.97 570.02,247.12 570.58,244.97 568.75,243.52 571.15,243.35"/><polygon fill="#fff" stroke="#c858c8" stroke-width="0.85" stroke-linejoin="miter" points="571.6,241.74 572.53,243.79 574.93,243.97 573.1,245.41 573.66,247.57 571.6,246.41 569.55,247.57 570.11,245.41 568.28,243.97 570.68,243.79"/><polygon fill="#fff" stroke="#c858c8" stroke-width="0.85" stroke-linejoin="miter" points="571.13,242.19 572.06,244.23 574.46,244.41 572.63,245.85 573.19,248.01 571.13,246.86 569.07,248.01 569.63,245.85 567.8,244.41 570.21,244.23"/><polygon fill="#fff" stroke="#c858c8" stroke-width="0.85" stroke-linejoin="miter" points="570.66,242.63 571.58,244.68 573.99,244.85 572.16,246.3 572.72,248.45 570.66,247.3 568.6,248.45 569.16,246.3 567.33,244.85 569.73,244.68"/><polygon fill="#fff" stroke="#c858c8" stroke-width="0.85" stroke-linejoin="miter" points="570.19,243.07 571.11,245.12 573.51,245.3 571.68,246.74 572.24,248.9 570.19,247.74 568.13,248.9 568.69,246.74 566.86,245.3 569.26,245.12"/><polygon fill="#fff" stroke="#c858c8" stroke-width="0.85" stroke-linejoin="miter" points="569.71,243.52 570.64,245.56 573.04,245.74 571.21,247.18 571.77,249.34 569.71,248.19 567.66,249.34 568.22,247.18 566.38,245.74 568.79,245.56"/><polygon fill="#fff" stroke="#c858c8" stroke-width="0.85" stroke-linejoin="miter" points="569.24,243.96 570.17,246.01 572.57,246.18 570.74,247.63 571.3,249.78 569.24,248.63 567.18,249.78 567.74,247.63 565.91,246.18 568.31,246.01"/><polygon fill="#fff" stroke="#c858c8" stroke-width="0.85" stroke-linejoin="miter" points="568.77,244.4 569.69,246.45 572.1,246.63 570.27,248.07 570.82,250.23 568.77,249.07 566.71,250.23 567.27,248.07 565.44,246.63 567.84,246.45"/><polygon fill="#fff" stroke="#c858c8" stroke-width="0.85" stroke-linejoin="miter" points="568.29,244.85 569.22,246.89 571.62,247.07 569.79,248.51 570.35,250.67 568.29,249.52 566.24,250.67 566.8,248.51 564.97,247.07 567.37,246.89"/><polygon fill="#fff" stroke="#c858c8" stroke-width="0.85" stroke-linejoin="miter" points="567.82,245.41 568.75,247.45 571.15,247.63 569.32,249.07 569.88,251.23 567.82,250.07 565.77,251.23 566.32,249.07 564.49,247.63 566.9,247.45"/><polygon fill="#fff" stroke="#c858c8" stroke-width="0.85" stroke-linejoin="miter" points="567.35,245.96 568.28,248.01 570.68,248.19 568.85,249.63 569.41,251.79 567.35,250.63 565.29,251.79 565.85,249.63 564.02,248.19 566.42,248.01"/><polygon fill="#fff" stroke="#c858c8" stroke-width="0.85" stroke-linejoin="miter" points="563.57,250.44 564.49,252.49 566.9,252.66 565.07,254.11 565.62,256.26 563.57,255.11 561.51,256.26 562.07,254.11 560.24,252.66 562.64,252.49"/><polygon fill="#fff" stroke="#c858c8" stroke-width="0.85" stroke-linejoin="miter" points="558.84,256.71 559.77,258.76 562.17,258.94 560.34,260.38 560.9,262.54 558.84,261.38 556.78,262.54 557.34,260.38 555.51,258.94 557.91,258.76"/><polygon fill="#fff" stroke="#c858c8" stroke-width="0.85" stroke-linejoin="miter" points="539.93,286.99 540.86,289.04 543.26,289.22 541.43,290.66 541.99,292.82 539.93,291.66 537.87,292.82 538.43,290.66 536.6,289.22 539,289.04"/><polygon fill="#fff" stroke="#c858c8" stroke-width="0.85" stroke-linejoin="miter" points="521.02,316.18 521.95,318.23 524.35,318.41 522.52,319.85 523.08,322.01 521.02,320.85 518.96,322.01 519.52,319.85 517.69,318.41 520.09,318.23"/><polygon fill="#fff" stroke="#c858c8" stroke-width="0.85" stroke-linejoin="miter" points="502.11,332.55 503.04,334.6 505.44,334.78 503.61,336.22 504.17,338.38 502.11,337.22 500.05,338.38 500.61,336.22 498.78,334.78 501.18,334.6"/><polygon fill="#fff" stroke="#c858c8" stroke-width="0.85" stroke-linejoin="miter" points="483.2,346.46 484.13,348.51 486.53,348.69 484.7,350.13 485.26,352.29 483.2,351.13 481.14,352.29 481.7,350.13 479.87,348.69 482.27,348.51"/><polygon fill="#fff" stroke="#c858c8" stroke-width="0.85" stroke-linejoin="miter" points="464.29,354.29 465.22,356.34 467.62,356.52 465.79,357.96 466.35,360.12 464.29,358.96 462.23,360.12 462.79,357.96 460.96,356.52 463.36,356.34"/><polygon fill="#fff" stroke="#c858c8" stroke-width="0.85" stroke-linejoin="miter" points="464.29,360.46 465.22,362.51 467.62,362.68 465.79,364.13 466.35,366.28 464.29,365.13 462.23,366.28 462.79,364.13 460.96,362.68 463.36,362.51"/><polygon fill="#fff" stroke="#c858c8" stroke-width="0.85" stroke-linejoin="miter" points="483.2,352.6 484.13,354.65 486.53,354.83 484.7,356.27 485.26,358.43 483.2,357.27 481.14,358.43 481.7,356.27 479.87,354.83 482.27,354.65"/><polygon fill="#fff" stroke="#c858c8" stroke-width="0.85" stroke-linejoin="miter" points="502.11,345.78 503.04,347.83 505.44,348.01 503.61,349.45 504.17,351.61 502.11,350.45 500.05,351.61 500.61,349.45 498.78,348.01 501.18,347.83"/><polygon fill="#fff" stroke="#c858c8" stroke-width="0.85" stroke-linejoin="miter" points="521.02,338.28 521.95,340.33 524.35,340.5 522.52,341.95 523.08,344.11 521.02,342.95 518.96,344.11 519.52,341.95 517.69,340.5 520.09,340.33"/><polygon fill="#fff" stroke="#c858c8" stroke-width="0.85" stroke-linejoin="miter" points="539.93,330.23 540.86,332.28 543.26,332.46 541.43,333.9 541.99,336.06 539.93,334.9 537.87,336.06 538.43,333.9 536.6,332.46 539,332.28"/><polygon fill="#fff" stroke="#c858c8" stroke-width="0.85" stroke-linejoin="miter" points="558.84,317.82 559.77,319.87 562.17,320.04 560.34,321.49 560.9,323.65 558.84,322.49 556.78,323.65 557.34,321.49 555.51,320.04 557.91,319.87"/><polygon fill="#fff" stroke="#c858c8" stroke-width="0.85" stroke-linejoin="miter" points="563.57,314.68 564.49,316.73 566.9,316.91 565.07,318.35 565.62,320.51 563.57,319.35 561.51,320.51 562.07,318.35 560.24,316.91 562.64,316.73"/><polygon fill="#fff" stroke="#c858c8" stroke-width="0.85" stroke-linejoin="miter" points="568.29,312.36 569.22,314.41 571.62,314.59 569.79,316.03 570.35,318.19 568.29,317.03 566.24,318.19 566.8,316.03 564.97,314.59 567.37,314.41"/><polygon fill="#fff" stroke="#c858c8" stroke-width="0.85" stroke-linejoin="miter" points="568.77,311.95 569.69,314 572.1,314.18 570.27,315.62 570.82,317.78 568.77,316.62 566.71,317.78 567.27,315.62 565.44,314.18 567.84,314"/><polygon fill="#fff" stroke="#c858c8" stroke-width="0.85" stroke-linejoin="miter" points="569.24,311.55 570.17,313.59 572.57,313.77 570.74,315.21 571.3,317.37 569.24,316.21 567.18,317.37 567.74,315.21 565.91,313.77 568.31,313.59"/><polygon fill="#fff" stroke="#c858c8" stroke-width="0.85" stroke-linejoin="miter" points="569.71,311.14 570.64,313.18 573.04,313.36 571.21,314.8 571.77,316.96 569.71,315.81 567.66,316.96 568.22,314.8 566.38,313.36 568.79,313.18"/><polygon fill="#fff" stroke="#c858c8" stroke-width="0.85" stroke-linejoin="miter" points="570.19,310.73 571.11,312.77 573.51,312.95 571.68,314.39 572.24,316.55 570.19,315.4 568.13,316.55 568.69,314.39 566.86,312.95 569.26,312.77"/><polygon fill="#fff" stroke="#c858c8" stroke-width="0.85" stroke-linejoin="miter" points="570.66,310.32 571.58,312.37 573.99,312.54 572.16,313.99 572.72,316.14 570.66,314.99 568.6,316.14 569.16,313.99 567.33,312.54 569.73,312.37"/><polygon fill="#fff" stroke="#c858c8" stroke-width="0.85" stroke-linejoin="miter" points="571.13,309.91 572.06,311.96 574.46,312.13 572.63,313.58 573.19,315.73 571.13,314.58 569.07,315.73 569.63,313.58 567.8,312.13 570.21,311.96"/><polygon fill="#fff" stroke="#c858c8" stroke-width="0.85" stroke-linejoin="miter" points="571.6,309.5 572.53,311.55 574.93,311.72 573.1,313.17 573.66,315.32 571.6,314.17 569.55,315.32 570.11,313.17 568.28,311.72 570.68,311.55"/><polygon fill="#fff" stroke="#c858c8" stroke-width="0.85" stroke-linejoin="miter" points="572.08,309.09 573,311.14 575.41,311.32 573.57,312.76 574.13,314.92 572.08,313.76 570.02,314.92 570.58,312.76 568.75,311.32 571.15,311.14"/><polygon fill="#fff" stroke="#c858c8" stroke-width="0.85" stroke-linejoin="miter" points="572.55,308.68 573.48,310.73 575.88,310.91 574.05,312.35 574.61,314.51 572.55,313.35 570.49,314.51 571.05,312.35 569.22,310.91 571.62,310.73"/><polygon fill="#fff" stroke="#c858c8" stroke-width="0.85" stroke-linejoin="miter" points="573.02,308.27 573.95,310.32 576.35,310.5 574.52,311.94 575.08,314.1 573.02,312.94 570.97,314.1 571.52,311.94 569.69,310.5 572.1,310.32"/><polygon fill="#fff" stroke="#c858c8" stroke-width="0.85" stroke-linejoin="miter" points="573.5,307.86 574.42,309.91 576.82,310.09 574.99,311.53 575.55,313.69 573.5,312.53 571.44,313.69 572,311.53 570.17,310.09 572.57,309.91"/><polygon fill="#fff" stroke="#c858c8" stroke-width="0.85" stroke-linejoin="miter" points="573.97,307.45 574.89,309.5 577.3,309.68 575.47,311.12 576.03,313.28 573.97,312.12 571.91,313.28 572.47,311.12 570.64,309.68 573.04,309.5"/><polygon fill="#fff" stroke="#c858c8" stroke-width="0.85" stroke-linejoin="miter" points="574.44,307.04 575.37,309.09 577.77,309.27 575.94,310.71 576.5,312.87 574.44,311.71 572.38,312.87 572.94,310.71 571.11,309.27 573.51,309.09"/><polygon fill="#fff" stroke="#c858c8" stroke-width="0.85" stroke-linejoin="miter" points="574.91,306.64 575.84,308.68 578.24,308.86 576.41,310.3 576.97,312.46 574.91,311.3 572.86,312.46 573.42,310.3 571.58,308.86 573.99,308.68"/><polygon fill="#fff" stroke="#c858c8" stroke-width="0.85" stroke-linejoin="miter" points="575.39,306.23 576.31,308.27 578.71,308.45 576.88,309.89 577.44,312.05 575.39,310.9 573.33,312.05 573.89,309.89 572.06,308.45 574.46,308.27"/><polygon fill="#fff" stroke="#c858c8" stroke-width="0.85" stroke-linejoin="miter" points="575.86,305.82 576.78,307.86 579.19,308.04 577.36,309.48 577.92,311.64 575.86,310.49 573.8,311.64 574.36,309.48 572.53,308.04 574.93,307.86"/><polygon fill="#fff" stroke="#c858c8" stroke-width="0.85" stroke-linejoin="miter" points="576.33,305.41 577.26,307.46 579.66,307.63 577.83,309.08 578.39,311.23 576.33,310.08 574.27,311.23 574.83,309.08 573,307.63 575.41,307.46"/><polygon fill="#fff" stroke="#c858c8" stroke-width="0.85" stroke-linejoin="miter" points="576.8,305 577.73,307.05 580.13,307.22 578.3,308.67 578.86,310.82 576.8,309.67 574.75,310.82 575.31,308.67 573.48,307.22 575.88,307.05"/><polygon fill="#fff" stroke="#c858c8" stroke-width="0.85" stroke-linejoin="miter" points="577.28,304.59 578.2,306.64 580.61,306.81 578.78,308.26 579.33,310.41 577.28,309.26 575.22,310.41 575.78,308.26 573.95,306.81 576.35,306.64"/><polygon fill="#fff" stroke="#c858c8" stroke-width="0.85" stroke-linejoin="miter" points="577.75,304.18 578.68,306.23 581.08,306.4 579.25,307.85 579.81,310.01 577.75,308.85 575.69,310.01 576.25,307.85 574.42,306.4 576.82,306.23"/><polygon fill="#fff" stroke="#c858c8" stroke-width="0.85" stroke-linejoin="miter" points="578.22,303.74 579.15,305.78 581.55,305.96 579.72,307.4 580.28,309.56 578.22,308.41 576.17,309.56 576.72,307.4 574.89,305.96 577.3,305.78"/><polygon fill="#fff" stroke="#c858c8" stroke-width="0.85" stroke-linejoin="miter" points="578.7,303.29 579.62,305.34 582.02,305.52 580.19,306.96 580.75,309.12 578.7,307.96 576.64,309.12 577.2,306.96 575.37,305.52 577.77,305.34"/><polygon fill="#fff" stroke="#c858c8" stroke-width="0.85" stroke-linejoin="miter" points="579.17,302.85 580.09,304.9 582.5,305.08 580.67,306.52 581.23,308.68 579.17,307.52 577.11,308.68 577.67,306.52 575.84,305.08 578.24,304.9"/><polygon fill="#fff" stroke="#c858c8" stroke-width="0.85" stroke-linejoin="miter" points="579.64,302.41 580.57,304.45 582.97,304.63 581.14,306.07 581.7,308.23 579.64,307.08 577.58,308.23 578.14,306.07 576.31,304.63 578.72,304.45"/><polygon fill="#fff" stroke="#c858c8" stroke-width="0.85" stroke-linejoin="miter" points="580.11,301.96 581.04,304.01 583.44,304.19 581.61,305.63 582.17,307.79 580.11,306.63 578.06,307.79 578.62,305.63 576.79,304.19 579.19,304.01"/><polygon fill="#fff" stroke="#c858c8" stroke-width="0.85" stroke-linejoin="miter" points="580.59,301.52 581.51,303.57 583.92,303.75 582.08,305.19 582.64,307.35 580.59,306.19 578.53,307.35 579.09,305.19 577.26,303.75 579.66,303.57"/><polygon fill="#fff" stroke="#c858c8" stroke-width="0.85" stroke-linejoin="miter" points="581.06,301.08 581.99,303.12 584.39,303.3 582.56,304.74 583.12,306.9 581.06,305.75 579,306.9 579.56,304.74 577.73,303.3 580.13,303.12"/><polygon fill="#fff" stroke="#c858c8" stroke-width="0.85" stroke-linejoin="miter" points="581.53,300.63 582.46,302.68 584.86,302.86 583.03,304.3 583.59,306.46 581.53,305.3 579.47,306.46 580.03,304.3 578.2,302.86 580.61,302.68"/><polygon fill="#fff" stroke="#c858c8" stroke-width="0.85" stroke-linejoin="miter" points="582,300.19 582.93,302.24 585.33,302.42 583.5,303.86 584.06,306.02 582,304.86 579.95,306.02 580.51,303.86 578.68,302.42 581.08,302.24"/><polygon fill="#fff" stroke="#c858c8" stroke-width="0.85" stroke-linejoin="miter" points="582.48,299.75 583.4,301.79 585.81,301.97 583.98,303.41 584.53,305.57 582.48,304.42 580.42,305.57 580.98,303.41 579.15,301.97 581.55,301.79"/><polygon fill="#fff" stroke="#c858c8" stroke-width="0.85" stroke-linejoin="miter" points="582.95,299.3 583.88,301.35 586.28,301.53 584.45,302.97 585.01,305.13 582.95,303.97 580.89,305.13 581.45,302.97 579.62,301.53 582.02,301.35"/><polygon fill="#fff" stroke="#c858c8" stroke-width="0.85" stroke-linejoin="miter" points="583.42,298.86 584.35,300.91 586.75,301.09 584.92,302.53 585.48,304.69 583.42,303.53 581.37,304.69 581.93,302.53 580.09,301.09 582.5,300.91"/><polygon fill="#fff" stroke="#c858c8" stroke-width="0.85" stroke-linejoin="miter" points="583.9,298.42 584.82,300.46 587.22,300.64 585.39,302.08 585.95,304.24 583.9,303.09 581.84,304.24 582.4,302.08 580.57,300.64 582.97,300.46"/><polygon fill="#fff" stroke="#c858c8" stroke-width="0.85" stroke-linejoin="miter" points="584.37,297.97 585.29,300.02 587.7,300.2 585.87,301.64 586.43,303.8 584.37,302.64 582.31,303.8 582.87,301.64 581.04,300.2 583.44,300.02"/><polygon fill="#fff" stroke="#c858c8" stroke-width="0.85" stroke-linejoin="miter" points="584.84,297.53 585.77,299.58 588.17,299.76 586.34,301.2 586.9,303.36 584.84,302.2 582.78,303.36 583.34,301.2 581.51,299.76 583.92,299.58"/><polygon fill="#fff" stroke="#c858c8" stroke-width="0.85" stroke-linejoin="miter" points="585.31,297.09 586.24,299.13 588.64,299.31 586.81,300.75 587.37,302.91 585.31,301.76 583.26,302.91 583.82,300.75 581.99,299.31 584.39,299.13"/><polygon fill="#fff" stroke="#c858c8" stroke-width="0.85" stroke-linejoin="miter" points="585.79,296.64 586.71,298.69 589.12,298.87 587.28,300.31 587.84,302.47 585.79,301.31 583.73,302.47 584.29,300.31 582.46,298.87 584.86,298.69"/><polygon fill="#fff" stroke="#c858c8" stroke-width="0.85" stroke-linejoin="miter" points="586.26,296.2 587.19,298.25 589.59,298.43 587.76,299.87 588.32,302.03 586.26,300.87 584.2,302.03 584.76,299.87 582.93,298.43 585.33,298.25"/><polygon fill="#fff" stroke="#c858c8" stroke-width="0.85" stroke-linejoin="miter" points="586.73,295.76 587.66,297.81 590.06,297.98 588.23,299.43 588.79,301.58 586.73,300.43 584.68,301.58 585.23,299.43 583.4,297.98 585.81,297.81"/><polygon fill="#fff" stroke="#c858c8" stroke-width="0.85" stroke-linejoin="miter" points="587.21,295.31 588.13,297.36 590.53,297.54 588.7,298.98 589.26,301.14 587.21,299.98 585.15,301.14 585.71,298.98 583.88,297.54 586.28,297.36"/><polygon fill="#fff" stroke="#c858c8" stroke-width="0.85" stroke-linejoin="miter" points="587.68,294.75 588.6,296.8 591.01,296.98 589.18,298.42 589.73,300.58 587.68,299.42 585.62,300.58 586.18,298.42 584.35,296.98 586.75,296.8"/><polygon fill="#fff" stroke="#c858c8" stroke-width="0.85" stroke-linejoin="miter" points="588.15,294.2 589.08,296.24 591.48,296.42 589.65,297.86 590.21,300.02 588.15,298.86 586.09,300.02 586.65,297.86 584.82,296.42 587.22,296.24"/><polygon fill="#fff" stroke="#c858c8" stroke-width="0.85" stroke-linejoin="miter" points="591.93,289.72 592.86,291.77 595.26,291.95 593.43,293.39 593.99,295.55 591.93,294.39 589.88,295.55 590.43,293.39 588.6,291.95 591.01,291.77"/><polygon fill="#fff" stroke="#c858c8" stroke-width="0.85" stroke-linejoin="miter" points="596.66,283.45 597.59,285.49 599.99,285.67 598.16,287.11 598.72,289.27 596.66,288.12 594.6,289.27 595.16,287.11 593.33,285.67 595.73,285.49"/><polygon fill="#fff" stroke="#c858c8" stroke-width="0.85" stroke-linejoin="miter" points="615.57,253.17 616.5,255.21 618.9,255.39 617.07,256.83 617.63,258.99 615.57,257.84 613.51,258.99 614.07,256.83 612.24,255.39 614.64,255.21"/><polygon fill="#fff" stroke="#c858c8" stroke-width="0.85" stroke-linejoin="miter" points="634.48,223.98 635.41,226.02 637.81,226.2 635.98,227.64 636.54,229.8 634.48,228.65 632.42,229.8 632.98,227.64 631.15,226.2 633.55,226.02"/><polygon fill="#fff" stroke="#c858c8" stroke-width="0.85" stroke-linejoin="miter" points="653.39,207.61 654.32,209.66 656.72,209.83 654.89,211.28 655.45,213.43 653.39,212.28 651.33,213.43 651.89,211.28 650.06,209.83 652.46,209.66"/><polygon fill="#fff" stroke="#c858c8" stroke-width="0.85" stroke-linejoin="miter" points="672.3,193.7 673.23,195.74 675.63,195.92 673.8,197.36 674.36,199.52 672.3,198.37 670.24,199.52 670.8,197.36 668.97,195.92 671.37,195.74"/><polygon fill="#fff" stroke="#c858c8" stroke-width="0.85" stroke-linejoin="miter" points="691.21,185.87 692.14,187.91 694.54,188.09 692.71,189.53 693.27,191.69 691.21,190.54 689.15,191.69 689.71,189.53 687.88,188.09 690.28,187.91"/></g>
<line x1="483" y1="204.9" x2="483" y2="342.2" stroke="#000" stroke-width="1.9"/>
<line x1="482" y1="341.3" x2="673" y2="341.3" stroke="#000" stroke-width="1.8"/>
<line x1="483" y1="327.86" x2="492.5" y2="327.86" stroke="#000" stroke-width="1.8"/>
<line x1="483" y1="300.58" x2="488" y2="300.58" stroke="#000" stroke-width="1.8"/>
<line x1="483" y1="246.02" x2="488" y2="246.02" stroke="#000" stroke-width="1.8"/>
<line x1="483" y1="218.74" x2="492.5" y2="218.74" stroke="#000" stroke-width="1.8"/>
<line x1="502.11" y1="341.3" x2="502.11" y2="332.3" stroke="#000" stroke-width="1.8"/>
<line x1="521.02" y1="341.3" x2="521.02" y2="336.3" stroke="#000" stroke-width="1.8"/>
<line x1="539.93" y1="341.3" x2="539.93" y2="332.3" stroke="#000" stroke-width="1.8"/>
<line x1="558.84" y1="341.3" x2="558.84" y2="336.3" stroke="#000" stroke-width="1.8"/>
<line x1="596.66" y1="341.3" x2="596.66" y2="336.3" stroke="#000" stroke-width="1.8"/>
<line x1="615.57" y1="341.3" x2="615.57" y2="332.3" stroke="#000" stroke-width="1.8"/>
<line x1="634.48" y1="341.3" x2="634.48" y2="336.3" stroke="#000" stroke-width="1.8"/>
<line x1="653.39" y1="341.3" x2="653.39" y2="332.3" stroke="#000" stroke-width="1.8"/>
<rect x="86.6" y="1.3" width="586.9" height="407" fill="none" stroke="#000" stroke-width="3"/>
<line x1="86.6" y1="374.15" x2="92.4" y2="374.15" stroke="#000" stroke-width="2.8"/>
<line x1="86.6" y1="340.3" x2="96.6" y2="340.3" stroke="#000" stroke-width="2.8"/>
<line x1="86.6" y1="306.45" x2="92.4" y2="306.45" stroke="#000" stroke-width="2.8"/>
<line x1="86.6" y1="272.6" x2="96.6" y2="272.6" stroke="#000" stroke-width="2.8"/>
<line x1="86.6" y1="238.75" x2="92.4" y2="238.75" stroke="#000" stroke-width="2.8"/>
<line x1="86.6" y1="171.05" x2="92.4" y2="171.05" stroke="#000" stroke-width="2.8"/>
<line x1="86.6" y1="137.2" x2="96.6" y2="137.2" stroke="#000" stroke-width="2.8"/>
<line x1="86.6" y1="103.35" x2="92.4" y2="103.35" stroke="#000" stroke-width="2.8"/>
<line x1="86.6" y1="69.5" x2="96.6" y2="69.5" stroke="#000" stroke-width="2.8"/>
<line x1="86.6" y1="35.65" x2="92.4" y2="35.65" stroke="#000" stroke-width="2.8"/>
<line x1="128.55" y1="408.3" x2="128.55" y2="398.6" stroke="#000" stroke-width="2.8"/>
<line x1="170.47" y1="408.3" x2="170.47" y2="402.8" stroke="#000" stroke-width="2.8"/>
<line x1="212.38" y1="408.3" x2="212.38" y2="398.6" stroke="#000" stroke-width="2.8"/>
<line x1="254.3" y1="408.3" x2="254.3" y2="402.8" stroke="#000" stroke-width="2.8"/>
<line x1="296.22" y1="408.3" x2="296.22" y2="398.6" stroke="#000" stroke-width="2.8"/>
<line x1="338.13" y1="408.3" x2="338.13" y2="402.8" stroke="#000" stroke-width="2.8"/>
<line x1="421.97" y1="408.3" x2="421.97" y2="402.8" stroke="#000" stroke-width="2.8"/>
<line x1="463.88" y1="408.3" x2="463.88" y2="398.6" stroke="#000" stroke-width="2.8"/>
<line x1="505.8" y1="408.3" x2="505.8" y2="402.8" stroke="#000" stroke-width="2.8"/>
<line x1="547.72" y1="408.3" x2="547.72" y2="398.6" stroke="#000" stroke-width="2.8"/>
<line x1="589.63" y1="408.3" x2="589.63" y2="402.8" stroke="#000" stroke-width="2.8"/>
<line x1="631.55" y1="408.3" x2="631.55" y2="398.6" stroke="#000" stroke-width="2.8"/>
<text x="38.52" y="348.2" font-family="&quot;Liberation Serif&quot;, serif" stroke="#000" stroke-width="0.35" font-size="32.5" letter-spacing="-1.0">-20</text>
<text x="38.52" y="280.5" font-family="&quot;Liberation Serif&quot;, serif" stroke="#000" stroke-width="0.35" font-size="32.5" letter-spacing="-1.0">-10</text>
<text x="63.59" y="212.8" font-family="&quot;Liberation Serif&quot;, serif" stroke="#000" stroke-width="0.35" font-size="32.5" letter-spacing="-1.0">0</text>
<text x="48.34" y="145.1" font-family="&quot;Liberation Serif&quot;, serif" stroke="#000" stroke-width="0.35" font-size="32.5" letter-spacing="-1.0">10</text>
<text x="48.34" y="77.4" font-family="&quot;Liberation Serif&quot;, serif" stroke="#000" stroke-width="0.35" font-size="32.5" letter-spacing="-1.0">20</text>
<text x="108.9" y="437.7" font-family="&quot;Liberation Serif&quot;, serif" stroke="#000" stroke-width="0.35" font-size="32.5" letter-spacing="-1.0">-60</text>
<text x="192.74" y="437.7" font-family="&quot;Liberation Serif&quot;, serif" stroke="#000" stroke-width="0.35" font-size="32.5" letter-spacing="-1.0">-40</text>
<text x="276.57" y="437.7" font-family="&quot;Liberation Serif&quot;, serif" stroke="#000" stroke-width="0.35" font-size="32.5" letter-spacing="-1.0">-20</text>
<text x="372.93" y="437.7" font-family="&quot;Liberation Serif&quot;, serif" stroke="#000" stroke-width="0.35" font-size="32.5" letter-spacing="-1.0">0</text>
<text x="449.04" y="437.7" font-family="&quot;Liberation Serif&quot;, serif" stroke="#000" stroke-width="0.35" font-size="32.5" letter-spacing="-1.0">20</text>
<text x="533.27" y="437.7" font-family="&quot;Liberation Serif&quot;, serif" stroke="#000" stroke-width="0.35" font-size="32.5" letter-spacing="-1.0">40</text>
<text x="616.72" y="437.7" font-family="&quot;Liberation Serif&quot;, serif" stroke="#000" stroke-width="0.35" font-size="32.5" letter-spacing="-1.0">60</text>
<text x="333.98" y="473.9" font-family="&quot;Liberation Serif&quot;, serif" stroke="#000" stroke-width="0.35" font-size="32" letter-spacing="0">H</text>
<text x="361.89" y="473.9" font-family="&quot;Liberation Serif&quot;, serif" stroke="#000" stroke-width="0.35" font-size="32" letter-spacing="-1.35">(kOe)</text>
<text transform="rotate(-90)" x="-304.59" y="29.8" font-family="&quot;Liberation Serif&quot;, serif" stroke="#000" stroke-width="0.35" font-size="31" letter-spacing="0">M</text>
<text transform="rotate(-90)" x="-273.06" y="29.8" font-family="&quot;Liberation Serif&quot;, serif" stroke="#000" stroke-width="0.35" font-size="31" letter-spacing="0">(</text>
<text transform="rotate(-90)" x="-264.15" y="29.8" font-family="&quot;Liberation Serif&quot;, serif" stroke="#000" stroke-width="0.35" font-size="31" letter-spacing="0">×</text>
<text transform="rotate(-90)" x="-243.32" y="29.8" font-family="&quot;Liberation Serif&quot;, serif" stroke="#000" stroke-width="0.35" font-size="31" letter-spacing="0">1</text>
<text transform="rotate(-90)" x="-229.28" y="29.8" font-family="&quot;Liberation Serif&quot;, serif" stroke="#000" stroke-width="0.35" font-size="31" letter-spacing="0">0</text>
<text transform="rotate(-90)" x="-215.22" y="13.2" font-family="&quot;Liberation Serif&quot;, serif" stroke="#000" stroke-width="0.35" font-size="18.6" letter-spacing="0">2</text>
<text transform="rotate(-90)" x="-201.51" y="29.8" font-family="&quot;Liberation Serif&quot;, serif" stroke="#000" stroke-width="0.35" font-size="31" letter-spacing="-1.55">emu/mole)</text>
<text x="451.9" y="335.36" font-family="&quot;Liberation Serif&quot;, serif" stroke="#000" stroke-width="0.35" font-size="28.5" letter-spacing="-0.6">-4</text>
<text x="461.44" y="280.8" font-family="&quot;Liberation Serif&quot;, serif" stroke="#000" stroke-width="0.35" font-size="28.5" letter-spacing="-0.6">0</text>
<text x="460.8" y="226.24" font-family="&quot;Liberation Serif&quot;, serif" stroke="#000" stroke-width="0.35" font-size="28.5" letter-spacing="-0.6">4</text>
<text x="491.03" y="369" font-family="&quot;Liberation Serif&quot;, serif" stroke="#000" stroke-width="0.35" font-size="28.5" letter-spacing="-0.6">-4</text>
<text x="529.42" y="369" font-family="&quot;Liberation Serif&quot;, serif" stroke="#000" stroke-width="0.35" font-size="28.5" letter-spacing="-0.6">-2</text>
<text x="571.42" y="369" font-family="&quot;Liberation Serif&quot;, serif" stroke="#000" stroke-width="0.35" font-size="28.5" letter-spacing="-0.6">0</text>
<text x="609.41" y="369" font-family="&quot;Liberation Serif&quot;, serif" stroke="#000" stroke-width="0.35" font-size="28.5" letter-spacing="-0.6">2</text>
<text x="647.01" y="369" font-family="&quot;Liberation Serif&quot;, serif" stroke="#000" stroke-width="0.35" font-size="28.5" letter-spacing="-0.6">4</text>
<text x="535.68" y="393.6" font-family="&quot;Liberation Serif&quot;, serif" stroke="#000" stroke-width="0.35" font-size="28.5" letter-spacing="0">H</text>
<text x="560.55" y="393.6" font-family="&quot;Liberation Serif&quot;, serif" stroke="#000" stroke-width="0.35" font-size="28.5" letter-spacing="-0.4">(kOe)</text>
<text transform="rotate(-90)" x="-395.96" y="440.2" font-family="&quot;Liberation Serif&quot;, serif" stroke="#000" stroke-width="0.35" font-size="26.5" letter-spacing="0">M</text>
<text transform="rotate(-90)" x="-370.56" y="440.2" font-family="&quot;Liberation Serif&quot;, serif" stroke="#000" stroke-width="0.35" font-size="26.5" letter-spacing="0">(</text>
<text transform="rotate(-90)" x="-362.7" y="440.2" font-family="&quot;Liberation Serif&quot;, serif" stroke="#000" stroke-width="0.35" font-size="26.5" letter-spacing="0">×</text>
<text transform="rotate(-90)" x="-343.93" y="440.2" font-family="&quot;Liberation Serif&quot;, serif" stroke="#000" stroke-width="0.35" font-size="26.5" letter-spacing="0">1</text>
<text transform="rotate(-90)" x="-332.81" y="440.2" font-family="&quot;Liberation Serif&quot;, serif" stroke="#000" stroke-width="0.35" font-size="26.5" letter-spacing="0">0</text>
<text transform="rotate(-90)" x="-321" y="425.7" font-family="&quot;Liberation Serif&quot;, serif" stroke="#000" stroke-width="0.35" font-size="16" letter-spacing="0">2</text>
<text transform="rotate(-90)" x="-308.24" y="440.2" font-family="&quot;Liberation Serif&quot;, serif" stroke="#000" stroke-width="0.35" font-size="26.5" letter-spacing="-1.35">emu/mole)</text>
<line x1="90.5" y1="27.1" x2="110.5" y2="27.1" stroke="#7a7a7a" stroke-width="1.3"/>
<line x1="131" y1="27.1" x2="151" y2="27.1" stroke="#7a7a7a" stroke-width="1.3"/>
<rect x="117" y="23.5" width="7.2" height="7.2" fill="#fff" stroke="#000000" stroke-width="1.3"/>
<text x="156.79" y="34.9" font-family="&quot;Liberation Serif&quot;, serif" stroke="#000" stroke-width="0.35" font-size="28.5" letter-spacing="-1.6">Sm</text>
<text x="190.95" y="44.5" font-family="&quot;Liberation Serif&quot;, serif" stroke="#000" stroke-width="0.35" font-size="17" letter-spacing="-0.45">0.5</text>
<text x="210.33" y="34.9" font-family="&quot;Liberation Serif&quot;, serif" stroke="#000" stroke-width="0.35" font-size="28.5" letter-spacing="-1.6">Ca</text>
<text x="239.75" y="44.5" font-family="&quot;Liberation Serif&quot;, serif" stroke="#000" stroke-width="0.35" font-size="17" letter-spacing="-0.45">0.5</text>
<text x="259.58" y="34.9" font-family="&quot;Liberation Serif&quot;, serif" stroke="#000" stroke-width="0.35" font-size="28.5" letter-spacing="-1.6">MnO</text>
<text x="314.39" y="44.5" font-family="&quot;Liberation Serif&quot;, serif" stroke="#000" stroke-width="0.35" font-size="17" letter-spacing="-0.45">3</text>
<line x1="90.5" y1="65.5" x2="110.5" y2="65.5" stroke="#8a70c8" stroke-width="1.3"/>
<line x1="131" y1="65.5" x2="151" y2="65.5" stroke="#8a70c8" stroke-width="1.3"/>
<polygon fill="#fff" stroke="#5d3cb0" stroke-width="1.4" stroke-linejoin="miter" points="120.6,59.73 115.6,68.39 125.6,68.39"/>
<text x="156.79" y="73.3" font-family="&quot;Liberation Serif&quot;, serif" stroke="#000" stroke-width="0.35" font-size="28.5" letter-spacing="-1.6">Sm</text>
<text x="190.95" y="82.9" font-family="&quot;Liberation Serif&quot;, serif" stroke="#000" stroke-width="0.35" font-size="17" letter-spacing="-0.45">0.45</text>
<text x="218.43" y="73.3" font-family="&quot;Liberation Serif&quot;, serif" stroke="#000" stroke-width="0.35" font-size="28.5" letter-spacing="-1.6">Ca</text>
<text x="247.65" y="82.9" font-family="&quot;Liberation Serif&quot;, serif" stroke="#000" stroke-width="0.35" font-size="17" letter-spacing="-0.45">0.45</text>
<text x="275.68" y="73.3" font-family="&quot;Liberation Serif&quot;, serif" stroke="#000" stroke-width="0.35" font-size="28.5" letter-spacing="-1.6">MnO</text>
<text x="329.79" y="82.9" font-family="&quot;Liberation Serif&quot;, serif" stroke="#000" stroke-width="0.35" font-size="17" letter-spacing="-0.45">3</text>
<line x1="90.5" y1="103.8" x2="110.5" y2="103.8" stroke="#e08070" stroke-width="1.3"/>
<line x1="131" y1="103.8" x2="151" y2="103.8" stroke="#e08070" stroke-width="1.3"/>
<circle cx="120.7" cy="103.8" r="4.15" fill="#fff" stroke="#d8291c" stroke-width="1.6"/>
<text x="156.69" y="111.6" font-family="&quot;Liberation Serif&quot;, serif" stroke="#000" stroke-width="0.35" font-size="28.5" letter-spacing="-1.6">Sm</text>
<text x="190.95" y="121.2" font-family="&quot;Liberation Serif&quot;, serif" stroke="#000" stroke-width="0.35" font-size="17" letter-spacing="-0.45">0.4</text>
<text x="211.03" y="111.6" font-family="&quot;Liberation Serif&quot;, serif" stroke="#000" stroke-width="0.35" font-size="28.5" letter-spacing="-1.6">Ca</text>
<text x="239.85" y="121.2" font-family="&quot;Liberation Serif&quot;, serif" stroke="#000" stroke-width="0.35" font-size="17" letter-spacing="-0.45">0.6</text>
<text x="259.98" y="111.6" font-family="&quot;Liberation Serif&quot;, serif" stroke="#000" stroke-width="0.35" font-size="28.5" letter-spacing="-1.6">MnO</text>
<text x="313.89" y="121.2" font-family="&quot;Liberation Serif&quot;, serif" stroke="#000" stroke-width="0.35" font-size="17" letter-spacing="-0.45">3</text>
<line x1="90.5" y1="142.2" x2="110.5" y2="142.2" stroke="#d890d8" stroke-width="1.3"/>
<line x1="131" y1="142.2" x2="151" y2="142.2" stroke="#d890d8" stroke-width="1.3"/>
<polygon fill="#fff" stroke="#c04cc0" stroke-width="1.3" stroke-linejoin="miter" points="120.5,137.62 121.9,140.72 125.54,140.99 122.77,143.18 123.62,146.44 120.5,144.69 117.38,146.44 118.23,143.18 115.46,140.99 119.1,140.72"/>
<text x="156.69" y="150" font-family="&quot;Liberation Serif&quot;, serif" stroke="#000" stroke-width="0.35" font-size="28.5" letter-spacing="-1.6">Sm</text>
<text x="190.95" y="159.6" font-family="&quot;Liberation Serif&quot;, serif" stroke="#000" stroke-width="0.35" font-size="17" letter-spacing="-0.45">0.4</text>
<text x="211.03" y="150" font-family="&quot;Liberation Serif&quot;, serif" stroke="#000" stroke-width="0.35" font-size="28.5" letter-spacing="-1.6">Ca</text>
<text x="239.85" y="159.6" font-family="&quot;Liberation Serif&quot;, serif" stroke="#000" stroke-width="0.35" font-size="17" letter-spacing="-0.45">0.6</text>
<text x="259.98" y="150" font-family="&quot;Liberation Serif&quot;, serif" stroke="#000" stroke-width="0.35" font-size="28.5" letter-spacing="-1.6">MnO</text>
<text x="313.89" y="159.6" font-family="&quot;Liberation Serif&quot;, serif" stroke="#000" stroke-width="0.35" font-size="17" letter-spacing="-0.45">3</text>
<text x="322.84" y="150" font-family="&quot;Liberation Serif&quot;, serif" stroke="#000" stroke-width="0.35" font-size="28.5" letter-spacing="-1.6">-</text>
<text x="337.68" y="150" font-family="&quot;Liberation Serif&quot;, serif" stroke="#000" stroke-width="0.35" font-size="28.5" letter-spacing="-1.6">900</text>
</svg>
</body></html>
